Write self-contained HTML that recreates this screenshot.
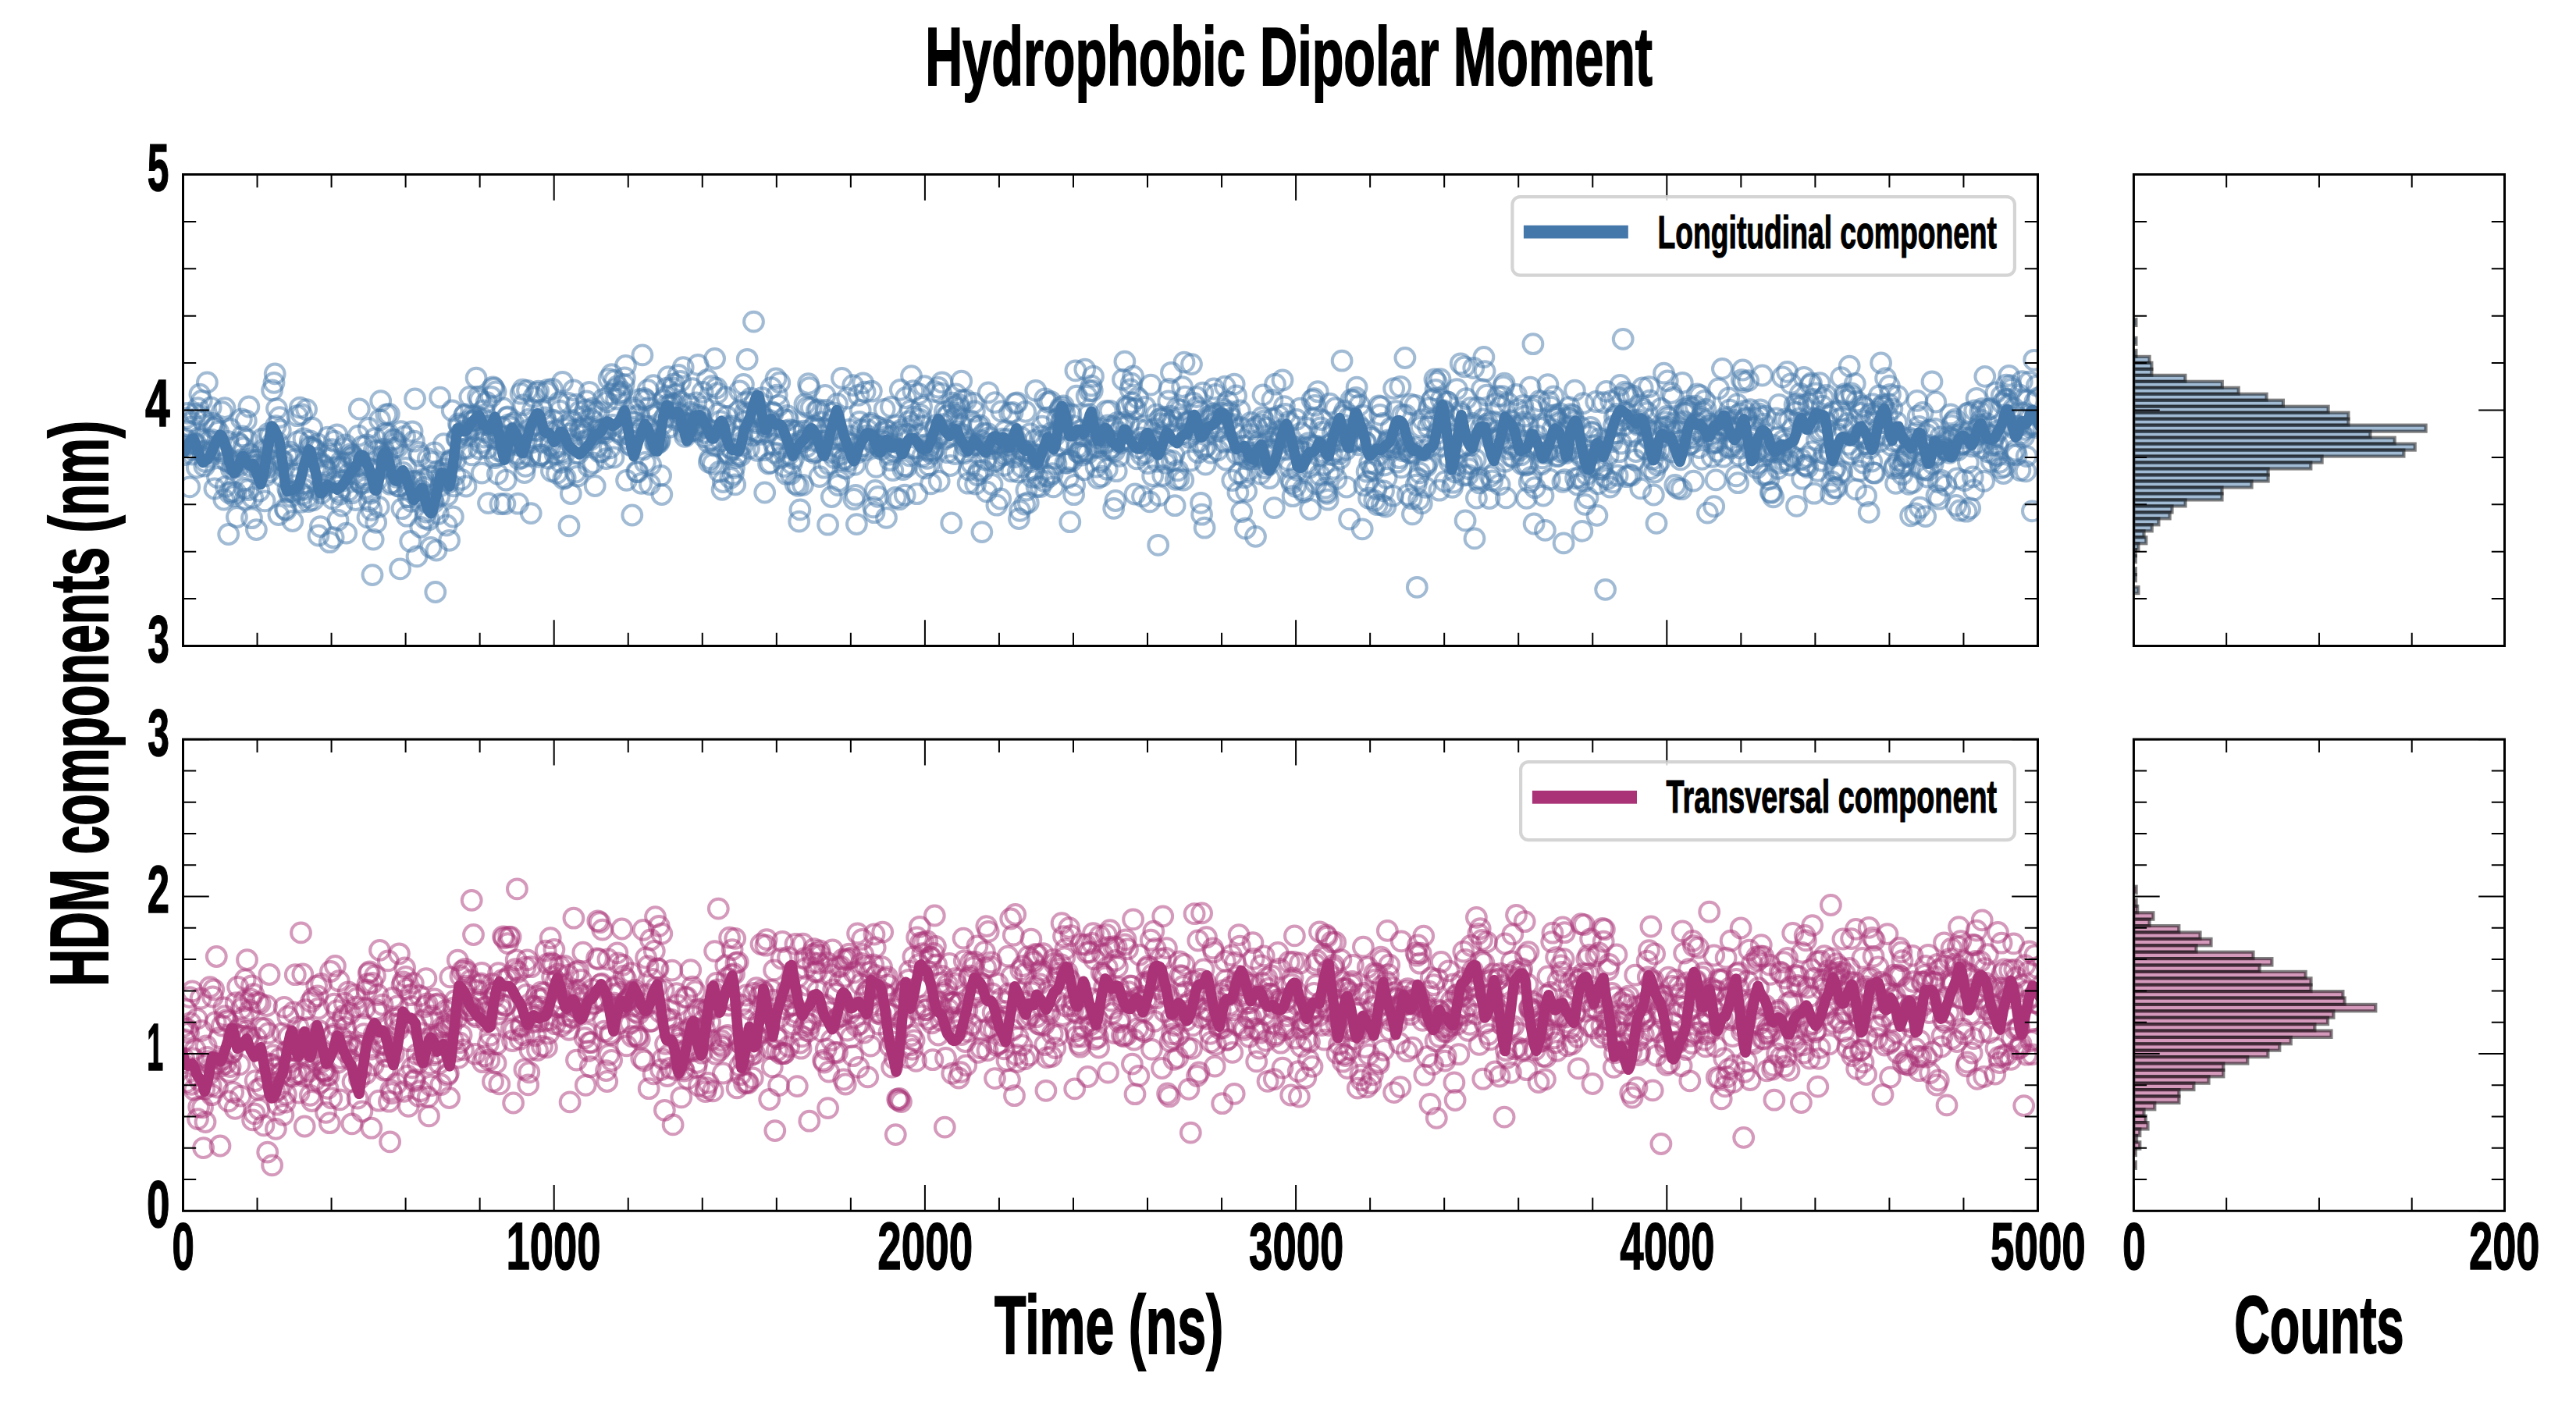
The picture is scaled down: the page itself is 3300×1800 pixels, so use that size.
<!DOCTYPE html>
<html><head><meta charset="utf-8"><title>Hydrophobic Dipolar Moment</title><style>html,body{margin:0;padding:0;background:#fff;width:3300px;height:1800px;overflow:hidden}</style></head><body>
<svg width="3300" height="1800" viewBox="0 0 3300 1800" style="display:block">
<rect width="3300" height="1800" fill="#ffffff"/>
<defs>
<clipPath id="cT"><rect x="234.5" y="223.5" width="2376.0" height="604.0"/></clipPath>
<clipPath id="cB"><rect x="234.5" y="947.2" width="2376.0" height="604.0999999999999"/></clipPath>
<clipPath id="hT"><rect x="2733.4" y="223.5" width="475.0999999999999" height="604.0"/></clipPath>
<clipPath id="hB"><rect x="2733.4" y="947.2" width="475.0999999999999" height="604.0999999999999"/></clipPath>
</defs>
<g clip-path="url(#cT)" fill="none" stroke="#4477AA" stroke-opacity="0.5" stroke-width="4.0">
<circle cx="234.5" cy="572.5" r="12.4"/><circle cx="235.7" cy="582.7" r="12.4"/><circle cx="236.9" cy="562.0" r="12.4"/><circle cx="238.1" cy="535.7" r="12.4"/><circle cx="239.3" cy="551.6" r="12.4"/><circle cx="240.4" cy="529.3" r="12.4"/><circle cx="241.6" cy="569.7" r="12.4"/><circle cx="242.8" cy="623.8" r="12.4"/><circle cx="244.0" cy="547.2" r="12.4"/><circle cx="245.2" cy="540.8" r="12.4"/><circle cx="246.4" cy="582.0" r="12.4"/><circle cx="247.6" cy="576.4" r="12.4"/><circle cx="248.8" cy="568.4" r="12.4"/><circle cx="250.0" cy="530.5" r="12.4"/><circle cx="251.1" cy="568.5" r="12.4"/><circle cx="252.3" cy="599.0" r="12.4"/><circle cx="253.5" cy="522.7" r="12.4"/><circle cx="254.7" cy="561.0" r="12.4"/><circle cx="255.9" cy="505.2" r="12.4"/><circle cx="257.1" cy="532.6" r="12.4"/><circle cx="258.3" cy="513.5" r="12.4"/><circle cx="259.5" cy="578.5" r="12.4"/><circle cx="260.6" cy="538.8" r="12.4"/><circle cx="261.8" cy="597.0" r="12.4"/><circle cx="263.0" cy="591.4" r="12.4"/><circle cx="264.2" cy="577.5" r="12.4"/><circle cx="265.4" cy="489.9" r="12.4"/><circle cx="266.6" cy="564.1" r="12.4"/><circle cx="267.8" cy="580.5" r="12.4"/><circle cx="269.0" cy="585.0" r="12.4"/><circle cx="270.2" cy="521.9" r="12.4"/><circle cx="271.3" cy="563.4" r="12.4"/><circle cx="272.5" cy="542.4" r="12.4"/><circle cx="273.7" cy="548.5" r="12.4"/><circle cx="274.9" cy="626.0" r="12.4"/><circle cx="276.1" cy="547.0" r="12.4"/><circle cx="277.3" cy="575.2" r="12.4"/><circle cx="278.5" cy="611.5" r="12.4"/><circle cx="279.7" cy="553.1" r="12.4"/><circle cx="280.9" cy="570.0" r="12.4"/><circle cx="282.0" cy="577.6" r="12.4"/><circle cx="283.2" cy="575.9" r="12.4"/><circle cx="284.4" cy="527.7" r="12.4"/><circle cx="285.6" cy="580.6" r="12.4"/><circle cx="286.8" cy="640.0" r="12.4"/><circle cx="288.0" cy="522.7" r="12.4"/><circle cx="289.2" cy="623.3" r="12.4"/><circle cx="290.4" cy="590.8" r="12.4"/><circle cx="291.6" cy="565.3" r="12.4"/><circle cx="292.7" cy="684.5" r="12.4"/><circle cx="293.9" cy="631.5" r="12.4"/><circle cx="295.1" cy="549.6" r="12.4"/><circle cx="296.3" cy="601.1" r="12.4"/><circle cx="297.5" cy="629.7" r="12.4"/><circle cx="298.7" cy="594.7" r="12.4"/><circle cx="299.9" cy="635.5" r="12.4"/><circle cx="301.1" cy="596.9" r="12.4"/><circle cx="302.2" cy="631.4" r="12.4"/><circle cx="303.4" cy="662.5" r="12.4"/><circle cx="304.6" cy="566.8" r="12.4"/><circle cx="305.8" cy="597.5" r="12.4"/><circle cx="307.0" cy="569.4" r="12.4"/><circle cx="308.2" cy="588.8" r="12.4"/><circle cx="309.4" cy="536.9" r="12.4"/><circle cx="310.6" cy="558.8" r="12.4"/><circle cx="311.8" cy="573.7" r="12.4"/><circle cx="312.9" cy="625.5" r="12.4"/><circle cx="314.1" cy="639.4" r="12.4"/><circle cx="315.3" cy="538.9" r="12.4"/><circle cx="316.5" cy="563.3" r="12.4"/><circle cx="317.7" cy="627.7" r="12.4"/><circle cx="318.9" cy="521.0" r="12.4"/><circle cx="320.1" cy="582.1" r="12.4"/><circle cx="321.3" cy="597.6" r="12.4"/><circle cx="322.5" cy="663.7" r="12.4"/><circle cx="323.6" cy="637.4" r="12.4"/><circle cx="324.8" cy="590.3" r="12.4"/><circle cx="326.0" cy="589.4" r="12.4"/><circle cx="327.2" cy="595.6" r="12.4"/><circle cx="328.4" cy="678.6" r="12.4"/><circle cx="329.6" cy="589.4" r="12.4"/><circle cx="330.8" cy="595.6" r="12.4"/><circle cx="332.0" cy="629.2" r="12.4"/><circle cx="333.2" cy="605.2" r="12.4"/><circle cx="334.3" cy="601.6" r="12.4"/><circle cx="335.5" cy="562.4" r="12.4"/><circle cx="336.7" cy="597.9" r="12.4"/><circle cx="337.9" cy="576.2" r="12.4"/><circle cx="339.1" cy="641.8" r="12.4"/><circle cx="340.3" cy="609.6" r="12.4"/><circle cx="341.5" cy="577.1" r="12.4"/><circle cx="342.7" cy="599.1" r="12.4"/><circle cx="343.9" cy="555.3" r="12.4"/><circle cx="345.0" cy="604.6" r="12.4"/><circle cx="346.2" cy="558.4" r="12.4"/><circle cx="347.4" cy="574.7" r="12.4"/><circle cx="348.6" cy="500.0" r="12.4"/><circle cx="349.8" cy="566.1" r="12.4"/><circle cx="351.0" cy="490.4" r="12.4"/><circle cx="352.2" cy="478.9" r="12.4"/><circle cx="353.4" cy="545.6" r="12.4"/><circle cx="354.5" cy="523.6" r="12.4"/><circle cx="355.7" cy="567.0" r="12.4"/><circle cx="356.9" cy="659.6" r="12.4"/><circle cx="358.1" cy="534.7" r="12.4"/><circle cx="359.3" cy="551.0" r="12.4"/><circle cx="360.5" cy="589.6" r="12.4"/><circle cx="361.7" cy="610.3" r="12.4"/><circle cx="362.9" cy="590.9" r="12.4"/><circle cx="364.1" cy="598.4" r="12.4"/><circle cx="365.2" cy="652.1" r="12.4"/><circle cx="366.4" cy="653.6" r="12.4"/><circle cx="367.6" cy="583.1" r="12.4"/><circle cx="368.8" cy="626.2" r="12.4"/><circle cx="370.0" cy="630.4" r="12.4"/><circle cx="371.2" cy="579.1" r="12.4"/><circle cx="372.4" cy="636.2" r="12.4"/><circle cx="373.6" cy="583.3" r="12.4"/><circle cx="374.8" cy="667.5" r="12.4"/><circle cx="375.9" cy="630.0" r="12.4"/><circle cx="377.1" cy="622.0" r="12.4"/><circle cx="378.3" cy="588.3" r="12.4"/><circle cx="379.5" cy="607.2" r="12.4"/><circle cx="380.7" cy="532.7" r="12.4"/><circle cx="381.9" cy="565.7" r="12.4"/><circle cx="383.1" cy="628.5" r="12.4"/><circle cx="384.3" cy="522.1" r="12.4"/><circle cx="385.5" cy="643.2" r="12.4"/><circle cx="386.6" cy="531.0" r="12.4"/><circle cx="387.8" cy="633.4" r="12.4"/><circle cx="389.0" cy="561.8" r="12.4"/><circle cx="390.2" cy="627.0" r="12.4"/><circle cx="391.4" cy="591.5" r="12.4"/><circle cx="392.6" cy="524.6" r="12.4"/><circle cx="393.8" cy="637.0" r="12.4"/><circle cx="395.0" cy="642.6" r="12.4"/><circle cx="396.1" cy="572.6" r="12.4"/><circle cx="397.3" cy="565.0" r="12.4"/><circle cx="398.5" cy="573.4" r="12.4"/><circle cx="399.7" cy="548.2" r="12.4"/><circle cx="400.9" cy="640.9" r="12.4"/><circle cx="402.1" cy="574.9" r="12.4"/><circle cx="403.3" cy="600.0" r="12.4"/><circle cx="404.5" cy="576.6" r="12.4"/><circle cx="405.7" cy="587.1" r="12.4"/><circle cx="406.8" cy="568.9" r="12.4"/><circle cx="408.0" cy="686.0" r="12.4"/><circle cx="409.2" cy="627.2" r="12.4"/><circle cx="410.4" cy="674.6" r="12.4"/><circle cx="411.6" cy="631.9" r="12.4"/><circle cx="412.8" cy="594.4" r="12.4"/><circle cx="414.0" cy="608.1" r="12.4"/><circle cx="415.2" cy="596.8" r="12.4"/><circle cx="416.4" cy="622.1" r="12.4"/><circle cx="417.5" cy="601.3" r="12.4"/><circle cx="418.7" cy="602.9" r="12.4"/><circle cx="419.9" cy="560.2" r="12.4"/><circle cx="421.1" cy="581.2" r="12.4"/><circle cx="422.3" cy="694.7" r="12.4"/><circle cx="423.5" cy="588.0" r="12.4"/><circle cx="424.7" cy="575.6" r="12.4"/><circle cx="425.9" cy="638.9" r="12.4"/><circle cx="427.1" cy="688.7" r="12.4"/><circle cx="428.2" cy="565.2" r="12.4"/><circle cx="429.4" cy="617.3" r="12.4"/><circle cx="430.6" cy="598.6" r="12.4"/><circle cx="431.8" cy="556.8" r="12.4"/><circle cx="433.0" cy="666.3" r="12.4"/><circle cx="434.2" cy="629.4" r="12.4"/><circle cx="435.4" cy="633.2" r="12.4"/><circle cx="436.6" cy="591.7" r="12.4"/><circle cx="437.7" cy="648.0" r="12.4"/><circle cx="438.9" cy="598.5" r="12.4"/><circle cx="440.1" cy="615.8" r="12.4"/><circle cx="441.3" cy="574.4" r="12.4"/><circle cx="442.5" cy="569.8" r="12.4"/><circle cx="443.7" cy="683.1" r="12.4"/><circle cx="444.9" cy="592.9" r="12.4"/><circle cx="446.1" cy="628.7" r="12.4"/><circle cx="447.3" cy="606.9" r="12.4"/><circle cx="448.4" cy="586.1" r="12.4"/><circle cx="449.6" cy="581.7" r="12.4"/><circle cx="450.8" cy="631.7" r="12.4"/><circle cx="452.0" cy="583.4" r="12.4"/><circle cx="453.2" cy="586.1" r="12.4"/><circle cx="454.4" cy="590.5" r="12.4"/><circle cx="455.6" cy="640.6" r="12.4"/><circle cx="456.8" cy="613.5" r="12.4"/><circle cx="458.0" cy="597.0" r="12.4"/><circle cx="459.1" cy="558.2" r="12.4"/><circle cx="460.3" cy="524.0" r="12.4"/><circle cx="461.5" cy="618.0" r="12.4"/><circle cx="462.7" cy="619.6" r="12.4"/><circle cx="463.9" cy="571.9" r="12.4"/><circle cx="465.1" cy="598.1" r="12.4"/><circle cx="466.3" cy="608.8" r="12.4"/><circle cx="467.5" cy="613.7" r="12.4"/><circle cx="468.7" cy="625.7" r="12.4"/><circle cx="469.8" cy="569.9" r="12.4"/><circle cx="471.0" cy="662.9" r="12.4"/><circle cx="472.2" cy="548.5" r="12.4"/><circle cx="473.4" cy="642.0" r="12.4"/><circle cx="474.6" cy="632.0" r="12.4"/><circle cx="475.8" cy="653.3" r="12.4"/><circle cx="477.0" cy="736.6" r="12.4"/><circle cx="478.2" cy="691.1" r="12.4"/><circle cx="479.4" cy="576.8" r="12.4"/><circle cx="480.5" cy="561.7" r="12.4"/><circle cx="481.7" cy="669.3" r="12.4"/><circle cx="482.9" cy="578.1" r="12.4"/><circle cx="484.1" cy="613.8" r="12.4"/><circle cx="485.3" cy="649.4" r="12.4"/><circle cx="486.5" cy="537.8" r="12.4"/><circle cx="487.7" cy="513.7" r="12.4"/><circle cx="488.9" cy="600.5" r="12.4"/><circle cx="490.0" cy="584.9" r="12.4"/><circle cx="491.2" cy="575.5" r="12.4"/><circle cx="492.4" cy="587.0" r="12.4"/><circle cx="493.6" cy="555.4" r="12.4"/><circle cx="494.8" cy="531.1" r="12.4"/><circle cx="496.0" cy="583.7" r="12.4"/><circle cx="497.2" cy="555.8" r="12.4"/><circle cx="498.4" cy="530.4" r="12.4"/><circle cx="499.6" cy="620.3" r="12.4"/><circle cx="500.7" cy="594.9" r="12.4"/><circle cx="501.9" cy="618.9" r="12.4"/><circle cx="503.1" cy="562.9" r="12.4"/><circle cx="504.3" cy="574.5" r="12.4"/><circle cx="505.5" cy="563.7" r="12.4"/><circle cx="506.7" cy="567.9" r="12.4"/><circle cx="507.9" cy="611.2" r="12.4"/><circle cx="509.1" cy="572.7" r="12.4"/><circle cx="510.3" cy="622.9" r="12.4"/><circle cx="511.4" cy="623.1" r="12.4"/><circle cx="512.6" cy="728.8" r="12.4"/><circle cx="513.8" cy="552.6" r="12.4"/><circle cx="515.0" cy="651.7" r="12.4"/><circle cx="516.2" cy="605.5" r="12.4"/><circle cx="517.4" cy="612.1" r="12.4"/><circle cx="518.6" cy="559.2" r="12.4"/><circle cx="519.8" cy="599.5" r="12.4"/><circle cx="521.0" cy="661.2" r="12.4"/><circle cx="522.1" cy="626.5" r="12.4"/><circle cx="523.3" cy="636.7" r="12.4"/><circle cx="524.5" cy="622.6" r="12.4"/><circle cx="525.7" cy="693.5" r="12.4"/><circle cx="526.9" cy="642.3" r="12.4"/><circle cx="528.1" cy="552.8" r="12.4"/><circle cx="529.3" cy="616.7" r="12.4"/><circle cx="530.5" cy="565.2" r="12.4"/><circle cx="531.6" cy="510.9" r="12.4"/><circle cx="532.8" cy="616.2" r="12.4"/><circle cx="534.0" cy="712.9" r="12.4"/><circle cx="535.2" cy="637.2" r="12.4"/><circle cx="536.4" cy="579.4" r="12.4"/><circle cx="537.6" cy="584.0" r="12.4"/><circle cx="538.8" cy="675.4" r="12.4"/><circle cx="540.0" cy="629.0" r="12.4"/><circle cx="541.2" cy="618.5" r="12.4"/><circle cx="542.3" cy="614.0" r="12.4"/><circle cx="543.5" cy="624.5" r="12.4"/><circle cx="544.7" cy="664.1" r="12.4"/><circle cx="545.9" cy="656.0" r="12.4"/><circle cx="547.1" cy="643.5" r="12.4"/><circle cx="548.3" cy="587.6" r="12.4"/><circle cx="549.5" cy="665.7" r="12.4"/><circle cx="550.7" cy="610.0" r="12.4"/><circle cx="551.9" cy="701.4" r="12.4"/><circle cx="553.0" cy="591.9" r="12.4"/><circle cx="554.2" cy="640.4" r="12.4"/><circle cx="555.4" cy="643.7" r="12.4"/><circle cx="556.6" cy="580.0" r="12.4"/><circle cx="557.8" cy="758.5" r="12.4"/><circle cx="559.0" cy="705.1" r="12.4"/><circle cx="560.2" cy="604.0" r="12.4"/><circle cx="561.4" cy="658.4" r="12.4"/><circle cx="562.6" cy="636.0" r="12.4"/><circle cx="563.7" cy="509.2" r="12.4"/><circle cx="564.9" cy="622.3" r="12.4"/><circle cx="566.1" cy="606.8" r="12.4"/><circle cx="567.3" cy="615.2" r="12.4"/><circle cx="568.5" cy="568.7" r="12.4"/><circle cx="569.7" cy="601.0" r="12.4"/><circle cx="570.9" cy="605.9" r="12.4"/><circle cx="572.1" cy="673.0" r="12.4"/><circle cx="573.2" cy="634.5" r="12.4"/><circle cx="574.4" cy="618.3" r="12.4"/><circle cx="575.6" cy="692.3" r="12.4"/><circle cx="576.8" cy="591.0" r="12.4"/><circle cx="578.0" cy="589.1" r="12.4"/><circle cx="579.2" cy="526.0" r="12.4"/><circle cx="580.4" cy="662.0" r="12.4"/><circle cx="581.6" cy="622.8" r="12.4"/><circle cx="582.8" cy="608.9" r="12.4"/><circle cx="583.9" cy="588.7" r="12.4"/><circle cx="585.1" cy="561.6" r="12.4"/><circle cx="586.3" cy="561.9" r="12.4"/><circle cx="587.5" cy="542.9" r="12.4"/><circle cx="588.7" cy="545.5" r="12.4"/><circle cx="589.9" cy="555.8" r="12.4"/><circle cx="591.1" cy="614.3" r="12.4"/><circle cx="592.3" cy="575.4" r="12.4"/><circle cx="593.5" cy="552.5" r="12.4"/><circle cx="594.6" cy="532.5" r="12.4"/><circle cx="595.8" cy="530.6" r="12.4"/><circle cx="597.0" cy="623.0" r="12.4"/><circle cx="598.2" cy="574.3" r="12.4"/><circle cx="599.4" cy="557.3" r="12.4"/><circle cx="600.6" cy="539.9" r="12.4"/><circle cx="601.8" cy="508.5" r="12.4"/><circle cx="603.0" cy="548.8" r="12.4"/><circle cx="604.2" cy="582.8" r="12.4"/><circle cx="605.3" cy="533.3" r="12.4"/><circle cx="606.5" cy="539.1" r="12.4"/><circle cx="607.7" cy="538.2" r="12.4"/><circle cx="608.9" cy="550.0" r="12.4"/><circle cx="610.1" cy="484.2" r="12.4"/><circle cx="611.3" cy="533.8" r="12.4"/><circle cx="612.5" cy="508.4" r="12.4"/><circle cx="613.7" cy="574.7" r="12.4"/><circle cx="614.9" cy="512.1" r="12.4"/><circle cx="616.0" cy="567.4" r="12.4"/><circle cx="617.2" cy="606.1" r="12.4"/><circle cx="618.4" cy="535.8" r="12.4"/><circle cx="619.6" cy="525.8" r="12.4"/><circle cx="620.8" cy="560.0" r="12.4"/><circle cx="622.0" cy="554.0" r="12.4"/><circle cx="623.2" cy="515.5" r="12.4"/><circle cx="624.4" cy="574.1" r="12.4"/><circle cx="625.5" cy="644.6" r="12.4"/><circle cx="626.7" cy="545.5" r="12.4"/><circle cx="627.9" cy="544.8" r="12.4"/><circle cx="629.1" cy="508.3" r="12.4"/><circle cx="630.3" cy="560.2" r="12.4"/><circle cx="631.5" cy="495.9" r="12.4"/><circle cx="632.7" cy="497.4" r="12.4"/><circle cx="633.9" cy="586.5" r="12.4"/><circle cx="635.1" cy="501.9" r="12.4"/><circle cx="636.2" cy="583.6" r="12.4"/><circle cx="637.4" cy="607.1" r="12.4"/><circle cx="638.6" cy="563.4" r="12.4"/><circle cx="639.8" cy="577.7" r="12.4"/><circle cx="641.0" cy="645.7" r="12.4"/><circle cx="642.2" cy="559.3" r="12.4"/><circle cx="643.4" cy="548.0" r="12.4"/><circle cx="644.6" cy="522.8" r="12.4"/><circle cx="645.8" cy="580.8" r="12.4"/><circle cx="646.9" cy="645.5" r="12.4"/><circle cx="648.1" cy="615.1" r="12.4"/><circle cx="649.3" cy="535.0" r="12.4"/><circle cx="650.5" cy="533.9" r="12.4"/><circle cx="651.7" cy="544.1" r="12.4"/><circle cx="652.9" cy="570.2" r="12.4"/><circle cx="654.1" cy="547.6" r="12.4"/><circle cx="655.3" cy="560.3" r="12.4"/><circle cx="656.5" cy="563.8" r="12.4"/><circle cx="657.6" cy="542.2" r="12.4"/><circle cx="658.8" cy="554.7" r="12.4"/><circle cx="660.0" cy="566.4" r="12.4"/><circle cx="661.2" cy="557.1" r="12.4"/><circle cx="662.4" cy="581.4" r="12.4"/><circle cx="663.6" cy="645.2" r="12.4"/><circle cx="664.8" cy="588.1" r="12.4"/><circle cx="666.0" cy="570.9" r="12.4"/><circle cx="667.1" cy="504.2" r="12.4"/><circle cx="668.3" cy="586.6" r="12.4"/><circle cx="669.5" cy="499.1" r="12.4"/><circle cx="670.7" cy="518.7" r="12.4"/><circle cx="671.9" cy="605.6" r="12.4"/><circle cx="673.1" cy="597.3" r="12.4"/><circle cx="674.3" cy="563.9" r="12.4"/><circle cx="675.5" cy="500.4" r="12.4"/><circle cx="676.7" cy="550.9" r="12.4"/><circle cx="677.8" cy="537.1" r="12.4"/><circle cx="679.0" cy="584.4" r="12.4"/><circle cx="680.2" cy="657.6" r="12.4"/><circle cx="681.4" cy="566.9" r="12.4"/><circle cx="682.6" cy="525.5" r="12.4"/><circle cx="683.8" cy="508.7" r="12.4"/><circle cx="685.0" cy="550.9" r="12.4"/><circle cx="686.2" cy="544.6" r="12.4"/><circle cx="687.4" cy="503.1" r="12.4"/><circle cx="688.5" cy="551.9" r="12.4"/><circle cx="689.7" cy="501.1" r="12.4"/><circle cx="690.9" cy="585.4" r="12.4"/><circle cx="692.1" cy="582.6" r="12.4"/><circle cx="693.3" cy="583.0" r="12.4"/><circle cx="694.5" cy="525.1" r="12.4"/><circle cx="695.7" cy="566.4" r="12.4"/><circle cx="696.9" cy="543.0" r="12.4"/><circle cx="698.1" cy="534.8" r="12.4"/><circle cx="699.2" cy="539.0" r="12.4"/><circle cx="700.4" cy="502.6" r="12.4"/><circle cx="701.6" cy="499.4" r="12.4"/><circle cx="702.8" cy="587.2" r="12.4"/><circle cx="704.0" cy="553.0" r="12.4"/><circle cx="705.2" cy="570.4" r="12.4"/><circle cx="706.4" cy="603.6" r="12.4"/><circle cx="707.6" cy="498.3" r="12.4"/><circle cx="708.7" cy="538.1" r="12.4"/><circle cx="709.9" cy="574.6" r="12.4"/><circle cx="711.1" cy="581.9" r="12.4"/><circle cx="712.3" cy="551.9" r="12.4"/><circle cx="713.5" cy="606.3" r="12.4"/><circle cx="714.7" cy="572.5" r="12.4"/><circle cx="715.9" cy="516.0" r="12.4"/><circle cx="717.1" cy="526.1" r="12.4"/><circle cx="718.3" cy="592.3" r="12.4"/><circle cx="719.4" cy="578.8" r="12.4"/><circle cx="720.6" cy="489.3" r="12.4"/><circle cx="721.8" cy="613.3" r="12.4"/><circle cx="723.0" cy="581.1" r="12.4"/><circle cx="724.2" cy="612.0" r="12.4"/><circle cx="725.4" cy="545.0" r="12.4"/><circle cx="726.6" cy="549.1" r="12.4"/><circle cx="727.8" cy="516.3" r="12.4"/><circle cx="729.0" cy="673.8" r="12.4"/><circle cx="730.1" cy="555.9" r="12.4"/><circle cx="731.3" cy="632.5" r="12.4"/><circle cx="732.5" cy="538.7" r="12.4"/><circle cx="733.7" cy="570.5" r="12.4"/><circle cx="734.9" cy="499.8" r="12.4"/><circle cx="736.1" cy="551.2" r="12.4"/><circle cx="737.3" cy="605.1" r="12.4"/><circle cx="738.5" cy="518.2" r="12.4"/><circle cx="739.7" cy="610.1" r="12.4"/><circle cx="740.8" cy="581.0" r="12.4"/><circle cx="742.0" cy="527.6" r="12.4"/><circle cx="743.2" cy="549.2" r="12.4"/><circle cx="744.4" cy="550.4" r="12.4"/><circle cx="745.6" cy="566.0" r="12.4"/><circle cx="746.8" cy="546.5" r="12.4"/><circle cx="748.0" cy="533.7" r="12.4"/><circle cx="749.2" cy="554.5" r="12.4"/><circle cx="750.3" cy="524.9" r="12.4"/><circle cx="751.5" cy="513.9" r="12.4"/><circle cx="752.7" cy="563.3" r="12.4"/><circle cx="753.9" cy="597.2" r="12.4"/><circle cx="755.1" cy="502.4" r="12.4"/><circle cx="756.3" cy="563.6" r="12.4"/><circle cx="757.5" cy="536.6" r="12.4"/><circle cx="758.7" cy="523.3" r="12.4"/><circle cx="759.9" cy="593.0" r="12.4"/><circle cx="761.0" cy="540.2" r="12.4"/><circle cx="762.2" cy="622.5" r="12.4"/><circle cx="763.4" cy="527.8" r="12.4"/><circle cx="764.6" cy="573.0" r="12.4"/><circle cx="765.8" cy="549.4" r="12.4"/><circle cx="767.0" cy="527.2" r="12.4"/><circle cx="768.2" cy="579.3" r="12.4"/><circle cx="769.4" cy="550.6" r="12.4"/><circle cx="770.6" cy="578.7" r="12.4"/><circle cx="771.7" cy="553.6" r="12.4"/><circle cx="772.9" cy="511.3" r="12.4"/><circle cx="774.1" cy="549.7" r="12.4"/><circle cx="775.3" cy="554.9" r="12.4"/><circle cx="776.5" cy="587.6" r="12.4"/><circle cx="777.7" cy="514.9" r="12.4"/><circle cx="778.9" cy="549.3" r="12.4"/><circle cx="780.1" cy="485.3" r="12.4"/><circle cx="781.3" cy="573.8" r="12.4"/><circle cx="782.4" cy="505.1" r="12.4"/><circle cx="783.6" cy="479.7" r="12.4"/><circle cx="784.8" cy="544.4" r="12.4"/><circle cx="786.0" cy="586.0" r="12.4"/><circle cx="787.2" cy="487.3" r="12.4"/><circle cx="788.4" cy="499.0" r="12.4"/><circle cx="789.6" cy="511.1" r="12.4"/><circle cx="790.8" cy="494.9" r="12.4"/><circle cx="792.0" cy="552.7" r="12.4"/><circle cx="793.1" cy="503.3" r="12.4"/><circle cx="794.3" cy="505.6" r="12.4"/><circle cx="795.5" cy="556.6" r="12.4"/><circle cx="796.7" cy="501.8" r="12.4"/><circle cx="797.9" cy="547.9" r="12.4"/><circle cx="799.1" cy="492.6" r="12.4"/><circle cx="800.3" cy="483.9" r="12.4"/><circle cx="801.5" cy="468.3" r="12.4"/><circle cx="802.6" cy="615.4" r="12.4"/><circle cx="803.8" cy="533.5" r="12.4"/><circle cx="805.0" cy="563.0" r="12.4"/><circle cx="806.2" cy="556.9" r="12.4"/><circle cx="807.4" cy="569.5" r="12.4"/><circle cx="808.6" cy="571.1" r="12.4"/><circle cx="809.8" cy="660.0" r="12.4"/><circle cx="811.0" cy="540.6" r="12.4"/><circle cx="812.2" cy="522.4" r="12.4"/><circle cx="813.3" cy="541.2" r="12.4"/><circle cx="814.5" cy="525.3" r="12.4"/><circle cx="815.7" cy="604.3" r="12.4"/><circle cx="816.9" cy="604.7" r="12.4"/><circle cx="818.1" cy="531.9" r="12.4"/><circle cx="819.3" cy="511.7" r="12.4"/><circle cx="820.5" cy="550.5" r="12.4"/><circle cx="821.7" cy="619.3" r="12.4"/><circle cx="822.9" cy="454.9" r="12.4"/><circle cx="824.0" cy="575.7" r="12.4"/><circle cx="825.2" cy="510.5" r="12.4"/><circle cx="826.4" cy="592.5" r="12.4"/><circle cx="827.6" cy="512.5" r="12.4"/><circle cx="828.8" cy="546.0" r="12.4"/><circle cx="830.0" cy="499.7" r="12.4"/><circle cx="831.2" cy="522.1" r="12.4"/><circle cx="832.4" cy="620.6" r="12.4"/><circle cx="833.6" cy="595.5" r="12.4"/><circle cx="834.7" cy="550.2" r="12.4"/><circle cx="835.9" cy="532.6" r="12.4"/><circle cx="837.1" cy="493.6" r="12.4"/><circle cx="838.3" cy="554.2" r="12.4"/><circle cx="839.5" cy="568.6" r="12.4"/><circle cx="840.7" cy="567.8" r="12.4"/><circle cx="841.9" cy="568.3" r="12.4"/><circle cx="843.1" cy="528.8" r="12.4"/><circle cx="844.2" cy="567.1" r="12.4"/><circle cx="845.4" cy="563.5" r="12.4"/><circle cx="846.6" cy="609.4" r="12.4"/><circle cx="847.8" cy="633.5" r="12.4"/><circle cx="849.0" cy="543.2" r="12.4"/><circle cx="850.2" cy="512.6" r="12.4"/><circle cx="851.4" cy="535.0" r="12.4"/><circle cx="852.6" cy="508.2" r="12.4"/><circle cx="853.8" cy="497.3" r="12.4"/><circle cx="854.9" cy="519.0" r="12.4"/><circle cx="856.1" cy="482.7" r="12.4"/><circle cx="857.3" cy="547.4" r="12.4"/><circle cx="858.5" cy="519.7" r="12.4"/><circle cx="859.7" cy="534.0" r="12.4"/><circle cx="860.9" cy="517.4" r="12.4"/><circle cx="862.1" cy="496.9" r="12.4"/><circle cx="863.3" cy="491.9" r="12.4"/><circle cx="864.5" cy="517.7" r="12.4"/><circle cx="865.6" cy="505.7" r="12.4"/><circle cx="866.8" cy="538.3" r="12.4"/><circle cx="868.0" cy="528.7" r="12.4"/><circle cx="869.2" cy="480.5" r="12.4"/><circle cx="870.4" cy="536.8" r="12.4"/><circle cx="871.6" cy="488.4" r="12.4"/><circle cx="872.8" cy="515.1" r="12.4"/><circle cx="874.0" cy="531.7" r="12.4"/><circle cx="875.2" cy="470.7" r="12.4"/><circle cx="876.3" cy="553.5" r="12.4"/><circle cx="877.5" cy="559.4" r="12.4"/><circle cx="878.7" cy="549.7" r="12.4"/><circle cx="879.9" cy="542.5" r="12.4"/><circle cx="881.1" cy="545.0" r="12.4"/><circle cx="882.3" cy="518.1" r="12.4"/><circle cx="883.5" cy="543.4" r="12.4"/><circle cx="884.7" cy="528.4" r="12.4"/><circle cx="885.8" cy="551.5" r="12.4"/><circle cx="887.0" cy="497.6" r="12.4"/><circle cx="888.2" cy="551.4" r="12.4"/><circle cx="889.4" cy="545.4" r="12.4"/><circle cx="890.6" cy="530.8" r="12.4"/><circle cx="891.8" cy="515.9" r="12.4"/><circle cx="893.0" cy="552.6" r="12.4"/><circle cx="894.2" cy="467.4" r="12.4"/><circle cx="895.4" cy="543.5" r="12.4"/><circle cx="896.5" cy="531.8" r="12.4"/><circle cx="897.7" cy="534.3" r="12.4"/><circle cx="898.9" cy="541.3" r="12.4"/><circle cx="900.1" cy="502.5" r="12.4"/><circle cx="901.3" cy="521.5" r="12.4"/><circle cx="902.5" cy="559.9" r="12.4"/><circle cx="903.7" cy="554.3" r="12.4"/><circle cx="904.9" cy="548.1" r="12.4"/><circle cx="906.1" cy="486.4" r="12.4"/><circle cx="907.2" cy="566.3" r="12.4"/><circle cx="908.4" cy="592.2" r="12.4"/><circle cx="909.6" cy="587.9" r="12.4"/><circle cx="910.8" cy="563.2" r="12.4"/><circle cx="912.0" cy="494.6" r="12.4"/><circle cx="913.2" cy="594.3" r="12.4"/><circle cx="914.4" cy="552.0" r="12.4"/><circle cx="915.6" cy="459.4" r="12.4"/><circle cx="916.8" cy="571.2" r="12.4"/><circle cx="917.9" cy="497.2" r="12.4"/><circle cx="919.1" cy="503.6" r="12.4"/><circle cx="920.3" cy="529.9" r="12.4"/><circle cx="921.5" cy="604.4" r="12.4"/><circle cx="922.7" cy="539.7" r="12.4"/><circle cx="923.9" cy="564.8" r="12.4"/><circle cx="925.1" cy="627.4" r="12.4"/><circle cx="926.3" cy="617.5" r="12.4"/><circle cx="927.5" cy="548.9" r="12.4"/><circle cx="928.6" cy="546.5" r="12.4"/><circle cx="929.8" cy="508.8" r="12.4"/><circle cx="931.0" cy="533.7" r="12.4"/><circle cx="932.2" cy="579.9" r="12.4"/><circle cx="933.4" cy="581.5" r="12.4"/><circle cx="934.6" cy="573.3" r="12.4"/><circle cx="935.8" cy="612.4" r="12.4"/><circle cx="937.0" cy="545.8" r="12.4"/><circle cx="938.1" cy="575.7" r="12.4"/><circle cx="939.3" cy="607.5" r="12.4"/><circle cx="940.5" cy="599.4" r="12.4"/><circle cx="941.7" cy="620.8" r="12.4"/><circle cx="942.9" cy="586.5" r="12.4"/><circle cx="944.1" cy="559.7" r="12.4"/><circle cx="945.3" cy="581.9" r="12.4"/><circle cx="946.5" cy="526.9" r="12.4"/><circle cx="947.7" cy="501.0" r="12.4"/><circle cx="948.8" cy="583.8" r="12.4"/><circle cx="950.0" cy="559.4" r="12.4"/><circle cx="951.2" cy="570.2" r="12.4"/><circle cx="952.4" cy="492.4" r="12.4"/><circle cx="953.6" cy="540.4" r="12.4"/><circle cx="954.8" cy="528.1" r="12.4"/><circle cx="956.0" cy="514.8" r="12.4"/><circle cx="957.2" cy="460.3" r="12.4"/><circle cx="958.4" cy="529.7" r="12.4"/><circle cx="959.5" cy="574.3" r="12.4"/><circle cx="960.7" cy="551.8" r="12.4"/><circle cx="961.9" cy="510.1" r="12.4"/><circle cx="963.1" cy="529.5" r="12.4"/><circle cx="964.3" cy="557.6" r="12.4"/><circle cx="965.5" cy="412.1" r="12.4"/><circle cx="966.7" cy="515.4" r="12.4"/><circle cx="967.9" cy="539.6" r="12.4"/><circle cx="969.1" cy="541.9" r="12.4"/><circle cx="970.2" cy="577.3" r="12.4"/><circle cx="971.4" cy="553.3" r="12.4"/><circle cx="972.6" cy="525.7" r="12.4"/><circle cx="973.8" cy="531.3" r="12.4"/><circle cx="975.0" cy="556.3" r="12.4"/><circle cx="976.2" cy="509.6" r="12.4"/><circle cx="977.4" cy="534.5" r="12.4"/><circle cx="978.6" cy="576.7" r="12.4"/><circle cx="979.7" cy="631.0" r="12.4"/><circle cx="980.9" cy="545.7" r="12.4"/><circle cx="982.1" cy="547.3" r="12.4"/><circle cx="983.3" cy="553.9" r="12.4"/><circle cx="984.5" cy="594.1" r="12.4"/><circle cx="985.7" cy="538.5" r="12.4"/><circle cx="986.9" cy="592.8" r="12.4"/><circle cx="988.1" cy="496.7" r="12.4"/><circle cx="989.3" cy="528.0" r="12.4"/><circle cx="990.4" cy="529.1" r="12.4"/><circle cx="991.6" cy="569.2" r="12.4"/><circle cx="992.8" cy="580.2" r="12.4"/><circle cx="994.0" cy="485.0" r="12.4"/><circle cx="995.2" cy="506.1" r="12.4"/><circle cx="996.4" cy="557.6" r="12.4"/><circle cx="997.6" cy="519.5" r="12.4"/><circle cx="998.8" cy="490.1" r="12.4"/><circle cx="1000.0" cy="586.4" r="12.4"/><circle cx="1001.1" cy="568.2" r="12.4"/><circle cx="1002.3" cy="570.3" r="12.4"/><circle cx="1003.5" cy="536.3" r="12.4"/><circle cx="1004.7" cy="597.5" r="12.4"/><circle cx="1005.9" cy="551.8" r="12.4"/><circle cx="1007.1" cy="607.3" r="12.4"/><circle cx="1008.3" cy="532.4" r="12.4"/><circle cx="1009.5" cy="538.2" r="12.4"/><circle cx="1010.7" cy="581.7" r="12.4"/><circle cx="1011.8" cy="550.7" r="12.4"/><circle cx="1013.0" cy="607.4" r="12.4"/><circle cx="1014.2" cy="593.8" r="12.4"/><circle cx="1015.4" cy="551.7" r="12.4"/><circle cx="1016.6" cy="587.2" r="12.4"/><circle cx="1017.8" cy="569.2" r="12.4"/><circle cx="1019.0" cy="620.0" r="12.4"/><circle cx="1020.2" cy="552.4" r="12.4"/><circle cx="1021.3" cy="557.1" r="12.4"/><circle cx="1022.5" cy="622.4" r="12.4"/><circle cx="1023.7" cy="668.1" r="12.4"/><circle cx="1024.9" cy="652.9" r="12.4"/><circle cx="1026.1" cy="564.9" r="12.4"/><circle cx="1027.3" cy="567.3" r="12.4"/><circle cx="1028.5" cy="621.3" r="12.4"/><circle cx="1029.7" cy="552.2" r="12.4"/><circle cx="1030.9" cy="518.0" r="12.4"/><circle cx="1032.0" cy="561.6" r="12.4"/><circle cx="1033.2" cy="572.2" r="12.4"/><circle cx="1034.4" cy="521.8" r="12.4"/><circle cx="1035.6" cy="491.7" r="12.4"/><circle cx="1036.8" cy="496.6" r="12.4"/><circle cx="1038.0" cy="577.7" r="12.4"/><circle cx="1039.2" cy="522.6" r="12.4"/><circle cx="1040.4" cy="548.6" r="12.4"/><circle cx="1041.6" cy="564.4" r="12.4"/><circle cx="1042.7" cy="580.3" r="12.4"/><circle cx="1043.9" cy="545.9" r="12.4"/><circle cx="1045.1" cy="578.9" r="12.4"/><circle cx="1046.3" cy="526.2" r="12.4"/><circle cx="1047.5" cy="549.4" r="12.4"/><circle cx="1048.7" cy="524.8" r="12.4"/><circle cx="1049.9" cy="610.6" r="12.4"/><circle cx="1051.1" cy="567.2" r="12.4"/><circle cx="1052.3" cy="540.9" r="12.4"/><circle cx="1053.4" cy="557.8" r="12.4"/><circle cx="1054.6" cy="564.8" r="12.4"/><circle cx="1055.8" cy="599.2" r="12.4"/><circle cx="1057.0" cy="506.4" r="12.4"/><circle cx="1058.2" cy="525.5" r="12.4"/><circle cx="1059.4" cy="549.2" r="12.4"/><circle cx="1060.6" cy="672.2" r="12.4"/><circle cx="1061.8" cy="594.6" r="12.4"/><circle cx="1063.0" cy="551.1" r="12.4"/><circle cx="1064.1" cy="579.6" r="12.4"/><circle cx="1065.3" cy="636.5" r="12.4"/><circle cx="1066.5" cy="537.7" r="12.4"/><circle cx="1067.7" cy="528.9" r="12.4"/><circle cx="1068.9" cy="586.3" r="12.4"/><circle cx="1070.1" cy="558.0" r="12.4"/><circle cx="1071.3" cy="562.8" r="12.4"/><circle cx="1072.5" cy="517.5" r="12.4"/><circle cx="1073.6" cy="621.6" r="12.4"/><circle cx="1074.8" cy="616.0" r="12.4"/><circle cx="1076.0" cy="573.5" r="12.4"/><circle cx="1077.2" cy="582.3" r="12.4"/><circle cx="1078.4" cy="484.4" r="12.4"/><circle cx="1079.6" cy="589.5" r="12.4"/><circle cx="1080.8" cy="564.2" r="12.4"/><circle cx="1082.0" cy="587.5" r="12.4"/><circle cx="1083.2" cy="600.0" r="12.4"/><circle cx="1084.3" cy="563.0" r="12.4"/><circle cx="1085.5" cy="510.2" r="12.4"/><circle cx="1086.7" cy="590.7" r="12.4"/><circle cx="1087.9" cy="550.3" r="12.4"/><circle cx="1089.1" cy="567.5" r="12.4"/><circle cx="1090.3" cy="558.7" r="12.4"/><circle cx="1091.5" cy="569.1" r="12.4"/><circle cx="1092.7" cy="493.7" r="12.4"/><circle cx="1093.9" cy="639.5" r="12.4"/><circle cx="1095.0" cy="595.4" r="12.4"/><circle cx="1096.2" cy="634.4" r="12.4"/><circle cx="1097.4" cy="671.6" r="12.4"/><circle cx="1098.6" cy="579.8" r="12.4"/><circle cx="1099.8" cy="506.3" r="12.4"/><circle cx="1101.0" cy="540.5" r="12.4"/><circle cx="1102.2" cy="525.4" r="12.4"/><circle cx="1103.4" cy="551.2" r="12.4"/><circle cx="1104.6" cy="571.3" r="12.4"/><circle cx="1105.7" cy="490.8" r="12.4"/><circle cx="1106.9" cy="577.0" r="12.4"/><circle cx="1108.1" cy="502.1" r="12.4"/><circle cx="1109.3" cy="572.1" r="12.4"/><circle cx="1110.5" cy="558.1" r="12.4"/><circle cx="1111.7" cy="550.8" r="12.4"/><circle cx="1112.9" cy="562.4" r="12.4"/><circle cx="1114.1" cy="544.1" r="12.4"/><circle cx="1115.2" cy="542.2" r="12.4"/><circle cx="1116.4" cy="501.2" r="12.4"/><circle cx="1117.6" cy="566.8" r="12.4"/><circle cx="1118.8" cy="649.8" r="12.4"/><circle cx="1120.0" cy="656.7" r="12.4"/><circle cx="1121.2" cy="628.4" r="12.4"/><circle cx="1122.4" cy="598.3" r="12.4"/><circle cx="1123.6" cy="546.6" r="12.4"/><circle cx="1124.8" cy="636.4" r="12.4"/><circle cx="1125.9" cy="571.7" r="12.4"/><circle cx="1127.1" cy="572.1" r="12.4"/><circle cx="1128.3" cy="564.0" r="12.4"/><circle cx="1129.5" cy="575.5" r="12.4"/><circle cx="1130.7" cy="554.1" r="12.4"/><circle cx="1131.9" cy="565.8" r="12.4"/><circle cx="1133.1" cy="524.3" r="12.4"/><circle cx="1134.3" cy="550.6" r="12.4"/><circle cx="1135.5" cy="663.3" r="12.4"/><circle cx="1136.6" cy="559.1" r="12.4"/><circle cx="1137.8" cy="552.1" r="12.4"/><circle cx="1139.0" cy="582.2" r="12.4"/><circle cx="1140.2" cy="589.7" r="12.4"/><circle cx="1141.4" cy="521.4" r="12.4"/><circle cx="1142.6" cy="558.4" r="12.4"/><circle cx="1143.8" cy="602.6" r="12.4"/><circle cx="1145.0" cy="578.0" r="12.4"/><circle cx="1146.2" cy="573.2" r="12.4"/><circle cx="1147.3" cy="637.5" r="12.4"/><circle cx="1148.5" cy="545.3" r="12.4"/><circle cx="1149.7" cy="574.9" r="12.4"/><circle cx="1150.9" cy="554.1" r="12.4"/><circle cx="1152.1" cy="639.7" r="12.4"/><circle cx="1153.3" cy="499.3" r="12.4"/><circle cx="1154.5" cy="551.0" r="12.4"/><circle cx="1155.7" cy="557.2" r="12.4"/><circle cx="1156.8" cy="601.5" r="12.4"/><circle cx="1158.0" cy="597.1" r="12.4"/><circle cx="1159.2" cy="634.2" r="12.4"/><circle cx="1160.4" cy="509.5" r="12.4"/><circle cx="1161.6" cy="597.7" r="12.4"/><circle cx="1162.8" cy="556.5" r="12.4"/><circle cx="1164.0" cy="540.2" r="12.4"/><circle cx="1165.2" cy="583.8" r="12.4"/><circle cx="1166.4" cy="526.1" r="12.4"/><circle cx="1167.5" cy="481.6" r="12.4"/><circle cx="1168.7" cy="545.3" r="12.4"/><circle cx="1169.9" cy="500.7" r="12.4"/><circle cx="1171.1" cy="534.4" r="12.4"/><circle cx="1172.3" cy="574.6" r="12.4"/><circle cx="1173.5" cy="573.7" r="12.4"/><circle cx="1174.7" cy="632.7" r="12.4"/><circle cx="1175.9" cy="556.8" r="12.4"/><circle cx="1177.1" cy="504.6" r="12.4"/><circle cx="1178.2" cy="537.2" r="12.4"/><circle cx="1179.4" cy="531.7" r="12.4"/><circle cx="1180.6" cy="521.2" r="12.4"/><circle cx="1181.8" cy="584.7" r="12.4"/><circle cx="1183.0" cy="546.4" r="12.4"/><circle cx="1184.2" cy="494.7" r="12.4"/><circle cx="1185.4" cy="599.8" r="12.4"/><circle cx="1186.6" cy="569.6" r="12.4"/><circle cx="1187.8" cy="587.4" r="12.4"/><circle cx="1188.9" cy="577.4" r="12.4"/><circle cx="1190.1" cy="595.8" r="12.4"/><circle cx="1191.3" cy="570.9" r="12.4"/><circle cx="1192.5" cy="619.8" r="12.4"/><circle cx="1193.7" cy="581.1" r="12.4"/><circle cx="1194.9" cy="577.4" r="12.4"/><circle cx="1196.1" cy="576.3" r="12.4"/><circle cx="1197.3" cy="501.5" r="12.4"/><circle cx="1198.4" cy="550.3" r="12.4"/><circle cx="1199.6" cy="544.6" r="12.4"/><circle cx="1200.8" cy="561.4" r="12.4"/><circle cx="1202.0" cy="496.4" r="12.4"/><circle cx="1203.2" cy="616.5" r="12.4"/><circle cx="1204.4" cy="556.1" r="12.4"/><circle cx="1205.6" cy="503.9" r="12.4"/><circle cx="1206.8" cy="489.8" r="12.4"/><circle cx="1208.0" cy="543.6" r="12.4"/><circle cx="1209.1" cy="551.6" r="12.4"/><circle cx="1210.3" cy="527.3" r="12.4"/><circle cx="1211.5" cy="562.0" r="12.4"/><circle cx="1212.7" cy="533.0" r="12.4"/><circle cx="1213.9" cy="579.7" r="12.4"/><circle cx="1215.1" cy="531.5" r="12.4"/><circle cx="1216.3" cy="559.6" r="12.4"/><circle cx="1217.5" cy="596.5" r="12.4"/><circle cx="1218.7" cy="669.9" r="12.4"/><circle cx="1219.8" cy="516.1" r="12.4"/><circle cx="1221.0" cy="536.7" r="12.4"/><circle cx="1222.2" cy="520.7" r="12.4"/><circle cx="1223.4" cy="581.6" r="12.4"/><circle cx="1224.6" cy="504.9" r="12.4"/><circle cx="1225.8" cy="532.1" r="12.4"/><circle cx="1227.0" cy="553.2" r="12.4"/><circle cx="1228.2" cy="518.5" r="12.4"/><circle cx="1229.4" cy="523.1" r="12.4"/><circle cx="1230.5" cy="545.2" r="12.4"/><circle cx="1231.7" cy="488.2" r="12.4"/><circle cx="1232.9" cy="513.0" r="12.4"/><circle cx="1234.1" cy="556.9" r="12.4"/><circle cx="1235.3" cy="580.9" r="12.4"/><circle cx="1236.5" cy="571.4" r="12.4"/><circle cx="1237.7" cy="512.7" r="12.4"/><circle cx="1238.9" cy="567.4" r="12.4"/><circle cx="1240.1" cy="619.2" r="12.4"/><circle cx="1241.2" cy="602.1" r="12.4"/><circle cx="1242.4" cy="573.3" r="12.4"/><circle cx="1243.6" cy="539.2" r="12.4"/><circle cx="1244.8" cy="593.7" r="12.4"/><circle cx="1246.0" cy="544.2" r="12.4"/><circle cx="1247.2" cy="516.4" r="12.4"/><circle cx="1248.4" cy="527.0" r="12.4"/><circle cx="1249.6" cy="620.1" r="12.4"/><circle cx="1250.7" cy="569.6" r="12.4"/><circle cx="1251.9" cy="608.5" r="12.4"/><circle cx="1253.1" cy="546.4" r="12.4"/><circle cx="1254.3" cy="603.2" r="12.4"/><circle cx="1255.5" cy="544.9" r="12.4"/><circle cx="1256.7" cy="564.3" r="12.4"/><circle cx="1257.9" cy="681.6" r="12.4"/><circle cx="1259.1" cy="602.7" r="12.4"/><circle cx="1260.3" cy="555.2" r="12.4"/><circle cx="1261.4" cy="572.4" r="12.4"/><circle cx="1262.6" cy="589.0" r="12.4"/><circle cx="1263.8" cy="629.9" r="12.4"/><circle cx="1265.0" cy="555.3" r="12.4"/><circle cx="1266.2" cy="502.9" r="12.4"/><circle cx="1267.4" cy="560.6" r="12.4"/><circle cx="1268.6" cy="568.9" r="12.4"/><circle cx="1269.8" cy="570.8" r="12.4"/><circle cx="1271.0" cy="620.5" r="12.4"/><circle cx="1272.1" cy="574.5" r="12.4"/><circle cx="1273.3" cy="591.9" r="12.4"/><circle cx="1274.5" cy="515.6" r="12.4"/><circle cx="1275.7" cy="590.0" r="12.4"/><circle cx="1276.9" cy="647.2" r="12.4"/><circle cx="1278.1" cy="586.2" r="12.4"/><circle cx="1279.3" cy="569.0" r="12.4"/><circle cx="1280.5" cy="567.2" r="12.4"/><circle cx="1281.7" cy="639.0" r="12.4"/><circle cx="1282.8" cy="526.8" r="12.4"/><circle cx="1284.0" cy="562.1" r="12.4"/><circle cx="1285.2" cy="583.2" r="12.4"/><circle cx="1286.4" cy="596.4" r="12.4"/><circle cx="1287.6" cy="552.3" r="12.4"/><circle cx="1288.8" cy="581.8" r="12.4"/><circle cx="1290.0" cy="562.6" r="12.4"/><circle cx="1291.2" cy="577.5" r="12.4"/><circle cx="1292.3" cy="569.5" r="12.4"/><circle cx="1293.5" cy="529.2" r="12.4"/><circle cx="1294.7" cy="570.7" r="12.4"/><circle cx="1295.9" cy="603.8" r="12.4"/><circle cx="1297.1" cy="528.3" r="12.4"/><circle cx="1298.3" cy="555.1" r="12.4"/><circle cx="1299.5" cy="585.7" r="12.4"/><circle cx="1300.7" cy="516.9" r="12.4"/><circle cx="1301.9" cy="565.0" r="12.4"/><circle cx="1303.0" cy="515.8" r="12.4"/><circle cx="1304.2" cy="604.8" r="12.4"/><circle cx="1305.4" cy="664.6" r="12.4"/><circle cx="1306.6" cy="654.4" r="12.4"/><circle cx="1307.8" cy="560.1" r="12.4"/><circle cx="1309.0" cy="598.0" r="12.4"/><circle cx="1310.2" cy="576.7" r="12.4"/><circle cx="1311.4" cy="578.3" r="12.4"/><circle cx="1312.6" cy="646.0" r="12.4"/><circle cx="1313.7" cy="527.4" r="12.4"/><circle cx="1314.9" cy="628.0" r="12.4"/><circle cx="1316.1" cy="578.0" r="12.4"/><circle cx="1317.3" cy="644.0" r="12.4"/><circle cx="1318.5" cy="586.8" r="12.4"/><circle cx="1319.7" cy="555.6" r="12.4"/><circle cx="1320.9" cy="591.6" r="12.4"/><circle cx="1322.1" cy="611.4" r="12.4"/><circle cx="1323.3" cy="582.7" r="12.4"/><circle cx="1324.4" cy="601.7" r="12.4"/><circle cx="1325.6" cy="563.8" r="12.4"/><circle cx="1326.8" cy="500.3" r="12.4"/><circle cx="1328.0" cy="623.5" r="12.4"/><circle cx="1329.2" cy="611.9" r="12.4"/><circle cx="1330.4" cy="587.7" r="12.4"/><circle cx="1331.6" cy="582.6" r="12.4"/><circle cx="1332.8" cy="623.6" r="12.4"/><circle cx="1333.9" cy="559.0" r="12.4"/><circle cx="1335.1" cy="546.1" r="12.4"/><circle cx="1336.3" cy="564.2" r="12.4"/><circle cx="1337.5" cy="616.3" r="12.4"/><circle cx="1338.7" cy="510.8" r="12.4"/><circle cx="1339.9" cy="609.5" r="12.4"/><circle cx="1341.1" cy="535.1" r="12.4"/><circle cx="1342.3" cy="515.3" r="12.4"/><circle cx="1343.5" cy="610.8" r="12.4"/><circle cx="1344.6" cy="561.1" r="12.4"/><circle cx="1345.8" cy="514.3" r="12.4"/><circle cx="1347.0" cy="554.6" r="12.4"/><circle cx="1348.2" cy="606.7" r="12.4"/><circle cx="1349.4" cy="623.9" r="12.4"/><circle cx="1350.6" cy="558.9" r="12.4"/><circle cx="1351.8" cy="586.9" r="12.4"/><circle cx="1353.0" cy="594.6" r="12.4"/><circle cx="1354.2" cy="537.4" r="12.4"/><circle cx="1355.3" cy="570.6" r="12.4"/><circle cx="1356.5" cy="550.8" r="12.4"/><circle cx="1357.7" cy="525.2" r="12.4"/><circle cx="1358.9" cy="521.8" r="12.4"/><circle cx="1360.1" cy="538.9" r="12.4"/><circle cx="1361.3" cy="539.3" r="12.4"/><circle cx="1362.5" cy="520.0" r="12.4"/><circle cx="1363.7" cy="529.3" r="12.4"/><circle cx="1364.9" cy="593.2" r="12.4"/><circle cx="1366.0" cy="564.5" r="12.4"/><circle cx="1367.2" cy="593.1" r="12.4"/><circle cx="1368.4" cy="611.8" r="12.4"/><circle cx="1369.6" cy="590.1" r="12.4"/><circle cx="1370.8" cy="668.7" r="12.4"/><circle cx="1372.0" cy="531.1" r="12.4"/><circle cx="1373.2" cy="590.6" r="12.4"/><circle cx="1374.4" cy="545.4" r="12.4"/><circle cx="1375.6" cy="633.7" r="12.4"/><circle cx="1376.7" cy="621.4" r="12.4"/><circle cx="1377.9" cy="474.8" r="12.4"/><circle cx="1379.1" cy="507.2" r="12.4"/><circle cx="1380.3" cy="572.9" r="12.4"/><circle cx="1381.5" cy="579.9" r="12.4"/><circle cx="1382.7" cy="580.1" r="12.4"/><circle cx="1383.9" cy="551.4" r="12.4"/><circle cx="1385.1" cy="573.6" r="12.4"/><circle cx="1386.2" cy="583.1" r="12.4"/><circle cx="1387.4" cy="558.6" r="12.4"/><circle cx="1388.6" cy="601.9" r="12.4"/><circle cx="1389.8" cy="473.2" r="12.4"/><circle cx="1391.0" cy="577.2" r="12.4"/><circle cx="1392.2" cy="507.5" r="12.4"/><circle cx="1393.4" cy="580.7" r="12.4"/><circle cx="1394.6" cy="530.6" r="12.4"/><circle cx="1395.8" cy="500.8" r="12.4"/><circle cx="1396.9" cy="545.9" r="12.4"/><circle cx="1398.1" cy="494.2" r="12.4"/><circle cx="1399.3" cy="500.5" r="12.4"/><circle cx="1400.5" cy="482.2" r="12.4"/><circle cx="1401.7" cy="547.1" r="12.4"/><circle cx="1402.9" cy="572.2" r="12.4"/><circle cx="1404.1" cy="598.2" r="12.4"/><circle cx="1405.3" cy="560.5" r="12.4"/><circle cx="1406.5" cy="612.6" r="12.4"/><circle cx="1407.6" cy="572.8" r="12.4"/><circle cx="1408.8" cy="567.9" r="12.4"/><circle cx="1410.0" cy="591.5" r="12.4"/><circle cx="1411.2" cy="610.2" r="12.4"/><circle cx="1412.4" cy="554.8" r="12.4"/><circle cx="1413.6" cy="557.2" r="12.4"/><circle cx="1414.8" cy="559.7" r="12.4"/><circle cx="1416.0" cy="567.3" r="12.4"/><circle cx="1417.2" cy="526.7" r="12.4"/><circle cx="1418.3" cy="601.2" r="12.4"/><circle cx="1419.5" cy="544.8" r="12.4"/><circle cx="1420.7" cy="576.0" r="12.4"/><circle cx="1421.9" cy="526.3" r="12.4"/><circle cx="1423.1" cy="573.4" r="12.4"/><circle cx="1424.3" cy="575.8" r="12.4"/><circle cx="1425.5" cy="546.1" r="12.4"/><circle cx="1426.7" cy="651.3" r="12.4"/><circle cx="1427.8" cy="577.8" r="12.4"/><circle cx="1429.0" cy="641.5" r="12.4"/><circle cx="1430.2" cy="603.7" r="12.4"/><circle cx="1431.4" cy="541.5" r="12.4"/><circle cx="1432.6" cy="553.6" r="12.4"/><circle cx="1433.8" cy="584.3" r="12.4"/><circle cx="1435.0" cy="568.1" r="12.4"/><circle cx="1436.2" cy="564.6" r="12.4"/><circle cx="1437.4" cy="547.3" r="12.4"/><circle cx="1438.5" cy="486.2" r="12.4"/><circle cx="1439.7" cy="541.1" r="12.4"/><circle cx="1440.9" cy="463.1" r="12.4"/><circle cx="1442.1" cy="562.6" r="12.4"/><circle cx="1443.3" cy="520.3" r="12.4"/><circle cx="1444.5" cy="522.2" r="12.4"/><circle cx="1445.7" cy="543.7" r="12.4"/><circle cx="1446.9" cy="565.1" r="12.4"/><circle cx="1448.1" cy="498.8" r="12.4"/><circle cx="1449.2" cy="491.2" r="12.4"/><circle cx="1450.4" cy="516.2" r="12.4"/><circle cx="1451.6" cy="481.9" r="12.4"/><circle cx="1452.8" cy="524.1" r="12.4"/><circle cx="1454.0" cy="633.0" r="12.4"/><circle cx="1455.2" cy="523.7" r="12.4"/><circle cx="1456.4" cy="587.8" r="12.4"/><circle cx="1457.6" cy="509.7" r="12.4"/><circle cx="1458.8" cy="574.0" r="12.4"/><circle cx="1459.9" cy="550.5" r="12.4"/><circle cx="1461.1" cy="560.8" r="12.4"/><circle cx="1462.3" cy="582.5" r="12.4"/><circle cx="1463.5" cy="635.9" r="12.4"/><circle cx="1464.7" cy="568.0" r="12.4"/><circle cx="1465.9" cy="565.3" r="12.4"/><circle cx="1467.1" cy="521.3" r="12.4"/><circle cx="1468.3" cy="580.5" r="12.4"/><circle cx="1469.4" cy="550.1" r="12.4"/><circle cx="1470.6" cy="593.6" r="12.4"/><circle cx="1471.8" cy="563.9" r="12.4"/><circle cx="1473.0" cy="642.9" r="12.4"/><circle cx="1474.2" cy="493.1" r="12.4"/><circle cx="1475.4" cy="562.2" r="12.4"/><circle cx="1476.6" cy="609.7" r="12.4"/><circle cx="1477.8" cy="564.7" r="12.4"/><circle cx="1479.0" cy="549.5" r="12.4"/><circle cx="1480.1" cy="571.8" r="12.4"/><circle cx="1481.3" cy="531.2" r="12.4"/><circle cx="1482.5" cy="591.2" r="12.4"/><circle cx="1483.7" cy="698.3" r="12.4"/><circle cx="1484.9" cy="634.7" r="12.4"/><circle cx="1486.1" cy="536.7" r="12.4"/><circle cx="1487.3" cy="542.7" r="12.4"/><circle cx="1488.5" cy="557.9" r="12.4"/><circle cx="1489.7" cy="609.3" r="12.4"/><circle cx="1490.8" cy="534.2" r="12.4"/><circle cx="1492.0" cy="536.3" r="12.4"/><circle cx="1493.2" cy="593.4" r="12.4"/><circle cx="1494.4" cy="588.6" r="12.4"/><circle cx="1495.6" cy="542.8" r="12.4"/><circle cx="1496.8" cy="514.0" r="12.4"/><circle cx="1498.0" cy="498.4" r="12.4"/><circle cx="1499.2" cy="533.2" r="12.4"/><circle cx="1500.4" cy="477.3" r="12.4"/><circle cx="1501.5" cy="590.4" r="12.4"/><circle cx="1502.7" cy="539.4" r="12.4"/><circle cx="1503.9" cy="582.5" r="12.4"/><circle cx="1505.1" cy="647.7" r="12.4"/><circle cx="1506.3" cy="614.4" r="12.4"/><circle cx="1507.5" cy="523.4" r="12.4"/><circle cx="1508.7" cy="602.8" r="12.4"/><circle cx="1509.9" cy="613.1" r="12.4"/><circle cx="1511.1" cy="535.5" r="12.4"/><circle cx="1512.2" cy="524.9" r="12.4"/><circle cx="1513.4" cy="556.2" r="12.4"/><circle cx="1514.6" cy="495.7" r="12.4"/><circle cx="1515.8" cy="615.0" r="12.4"/><circle cx="1517.0" cy="464.1" r="12.4"/><circle cx="1518.2" cy="508.1" r="12.4"/><circle cx="1519.4" cy="540.6" r="12.4"/><circle cx="1520.6" cy="541.6" r="12.4"/><circle cx="1521.7" cy="556.3" r="12.4"/><circle cx="1522.9" cy="560.4" r="12.4"/><circle cx="1524.1" cy="539.8" r="12.4"/><circle cx="1525.3" cy="590.1" r="12.4"/><circle cx="1526.5" cy="466.6" r="12.4"/><circle cx="1527.7" cy="546.3" r="12.4"/><circle cx="1528.9" cy="516.5" r="12.4"/><circle cx="1530.1" cy="549.6" r="12.4"/><circle cx="1531.3" cy="552.2" r="12.4"/><circle cx="1532.4" cy="508.6" r="12.4"/><circle cx="1533.6" cy="521.6" r="12.4"/><circle cx="1534.8" cy="579.7" r="12.4"/><circle cx="1536.0" cy="565.9" r="12.4"/><circle cx="1537.2" cy="526.8" r="12.4"/><circle cx="1538.4" cy="644.3" r="12.4"/><circle cx="1539.6" cy="659.2" r="12.4"/><circle cx="1540.8" cy="503.2" r="12.4"/><circle cx="1542.0" cy="574.8" r="12.4"/><circle cx="1543.1" cy="676.2" r="12.4"/><circle cx="1544.3" cy="595.1" r="12.4"/><circle cx="1545.5" cy="571.5" r="12.4"/><circle cx="1546.7" cy="553.3" r="12.4"/><circle cx="1547.9" cy="537.9" r="12.4"/><circle cx="1549.1" cy="548.7" r="12.4"/><circle cx="1550.3" cy="532.8" r="12.4"/><circle cx="1551.5" cy="580.4" r="12.4"/><circle cx="1552.7" cy="534.1" r="12.4"/><circle cx="1553.8" cy="530.2" r="12.4"/><circle cx="1555.0" cy="498.0" r="12.4"/><circle cx="1556.2" cy="541.8" r="12.4"/><circle cx="1557.4" cy="505.4" r="12.4"/><circle cx="1558.6" cy="531.9" r="12.4"/><circle cx="1559.8" cy="576.8" r="12.4"/><circle cx="1561.0" cy="549.1" r="12.4"/><circle cx="1562.2" cy="552.1" r="12.4"/><circle cx="1563.3" cy="547.7" r="12.4"/><circle cx="1564.5" cy="536.4" r="12.4"/><circle cx="1565.7" cy="529.4" r="12.4"/><circle cx="1566.9" cy="523.9" r="12.4"/><circle cx="1568.1" cy="566.6" r="12.4"/><circle cx="1569.3" cy="495.1" r="12.4"/><circle cx="1570.5" cy="589.0" r="12.4"/><circle cx="1571.7" cy="541.5" r="12.4"/><circle cx="1572.9" cy="514.6" r="12.4"/><circle cx="1574.0" cy="530.1" r="12.4"/><circle cx="1575.2" cy="527.1" r="12.4"/><circle cx="1576.4" cy="566.1" r="12.4"/><circle cx="1577.6" cy="536.1" r="12.4"/><circle cx="1578.8" cy="615.5" r="12.4"/><circle cx="1580.0" cy="543.7" r="12.4"/><circle cx="1581.2" cy="492.1" r="12.4"/><circle cx="1582.4" cy="555.4" r="12.4"/><circle cx="1583.6" cy="507.0" r="12.4"/><circle cx="1584.7" cy="581.5" r="12.4"/><circle cx="1585.9" cy="630.9" r="12.4"/><circle cx="1587.1" cy="606.0" r="12.4"/><circle cx="1588.3" cy="525.9" r="12.4"/><circle cx="1589.5" cy="547.7" r="12.4"/><circle cx="1590.7" cy="655.6" r="12.4"/><circle cx="1591.9" cy="584.0" r="12.4"/><circle cx="1593.1" cy="571.5" r="12.4"/><circle cx="1594.3" cy="611.7" r="12.4"/><circle cx="1595.4" cy="677.0" r="12.4"/><circle cx="1596.6" cy="629.5" r="12.4"/><circle cx="1597.8" cy="579.2" r="12.4"/><circle cx="1599.0" cy="588.4" r="12.4"/><circle cx="1600.2" cy="602.2" r="12.4"/><circle cx="1601.4" cy="556.7" r="12.4"/><circle cx="1602.6" cy="541.3" r="12.4"/><circle cx="1603.8" cy="584.4" r="12.4"/><circle cx="1604.9" cy="549.5" r="12.4"/><circle cx="1606.1" cy="584.1" r="12.4"/><circle cx="1607.3" cy="587.9" r="12.4"/><circle cx="1608.5" cy="687.4" r="12.4"/><circle cx="1609.7" cy="546.7" r="12.4"/><circle cx="1610.9" cy="571.0" r="12.4"/><circle cx="1612.1" cy="566.7" r="12.4"/><circle cx="1613.3" cy="584.5" r="12.4"/><circle cx="1614.5" cy="607.0" r="12.4"/><circle cx="1615.6" cy="544.0" r="12.4"/><circle cx="1616.8" cy="534.6" r="12.4"/><circle cx="1618.0" cy="505.9" r="12.4"/><circle cx="1619.2" cy="539.1" r="12.4"/><circle cx="1620.4" cy="599.5" r="12.4"/><circle cx="1621.6" cy="583.5" r="12.4"/><circle cx="1622.8" cy="548.2" r="12.4"/><circle cx="1624.0" cy="576.6" r="12.4"/><circle cx="1625.2" cy="595.2" r="12.4"/><circle cx="1626.3" cy="612.7" r="12.4"/><circle cx="1627.5" cy="566.5" r="12.4"/><circle cx="1628.7" cy="576.2" r="12.4"/><circle cx="1629.9" cy="512.4" r="12.4"/><circle cx="1631.1" cy="536.1" r="12.4"/><circle cx="1632.3" cy="650.6" r="12.4"/><circle cx="1633.5" cy="492.2" r="12.4"/><circle cx="1634.7" cy="560.7" r="12.4"/><circle cx="1635.9" cy="577.8" r="12.4"/><circle cx="1637.0" cy="552.8" r="12.4"/><circle cx="1638.2" cy="532.8" r="12.4"/><circle cx="1639.4" cy="560.8" r="12.4"/><circle cx="1640.6" cy="561.5" r="12.4"/><circle cx="1641.8" cy="555.9" r="12.4"/><circle cx="1643.0" cy="487.0" r="12.4"/><circle cx="1644.2" cy="549.9" r="12.4"/><circle cx="1645.4" cy="520.6" r="12.4"/><circle cx="1646.6" cy="530.4" r="12.4"/><circle cx="1647.7" cy="560.4" r="12.4"/><circle cx="1648.9" cy="576.1" r="12.4"/><circle cx="1650.1" cy="589.3" r="12.4"/><circle cx="1651.3" cy="540.4" r="12.4"/><circle cx="1652.5" cy="598.9" r="12.4"/><circle cx="1653.7" cy="614.8" r="12.4"/><circle cx="1654.9" cy="619.0" r="12.4"/><circle cx="1656.1" cy="635.7" r="12.4"/><circle cx="1657.2" cy="572.4" r="12.4"/><circle cx="1658.4" cy="575.1" r="12.4"/><circle cx="1659.6" cy="623.4" r="12.4"/><circle cx="1660.8" cy="537.3" r="12.4"/><circle cx="1662.0" cy="602.3" r="12.4"/><circle cx="1663.2" cy="572.6" r="12.4"/><circle cx="1664.4" cy="577.3" r="12.4"/><circle cx="1665.6" cy="523.2" r="12.4"/><circle cx="1666.8" cy="554.9" r="12.4"/><circle cx="1667.9" cy="585.1" r="12.4"/><circle cx="1669.1" cy="627.5" r="12.4"/><circle cx="1670.3" cy="630.5" r="12.4"/><circle cx="1671.5" cy="579.6" r="12.4"/><circle cx="1672.7" cy="573.8" r="12.4"/><circle cx="1673.9" cy="548.4" r="12.4"/><circle cx="1675.1" cy="593.6" r="12.4"/><circle cx="1676.3" cy="567.7" r="12.4"/><circle cx="1677.5" cy="599.0" r="12.4"/><circle cx="1678.6" cy="652.5" r="12.4"/><circle cx="1679.8" cy="571.2" r="12.4"/><circle cx="1681.0" cy="512.3" r="12.4"/><circle cx="1682.2" cy="536.0" r="12.4"/><circle cx="1683.4" cy="510.7" r="12.4"/><circle cx="1684.6" cy="519.4" r="12.4"/><circle cx="1685.8" cy="619.5" r="12.4"/><circle cx="1687.0" cy="571.4" r="12.4"/><circle cx="1688.2" cy="501.7" r="12.4"/><circle cx="1689.3" cy="583.5" r="12.4"/><circle cx="1690.5" cy="608.4" r="12.4"/><circle cx="1691.7" cy="547.8" r="12.4"/><circle cx="1692.9" cy="537.6" r="12.4"/><circle cx="1694.1" cy="553.5" r="12.4"/><circle cx="1695.3" cy="579.2" r="12.4"/><circle cx="1696.5" cy="595.3" r="12.4"/><circle cx="1697.7" cy="625.2" r="12.4"/><circle cx="1698.8" cy="630.2" r="12.4"/><circle cx="1700.0" cy="632.4" r="12.4"/><circle cx="1701.2" cy="640.2" r="12.4"/><circle cx="1702.4" cy="606.6" r="12.4"/><circle cx="1703.6" cy="517.2" r="12.4"/><circle cx="1704.8" cy="569.1" r="12.4"/><circle cx="1706.0" cy="582.4" r="12.4"/><circle cx="1707.2" cy="554.0" r="12.4"/><circle cx="1708.4" cy="600.3" r="12.4"/><circle cx="1709.5" cy="548.4" r="12.4"/><circle cx="1710.7" cy="523.0" r="12.4"/><circle cx="1711.9" cy="613.6" r="12.4"/><circle cx="1713.1" cy="577.9" r="12.4"/><circle cx="1714.3" cy="558.9" r="12.4"/><circle cx="1715.5" cy="581.6" r="12.4"/><circle cx="1716.7" cy="587.3" r="12.4"/><circle cx="1717.9" cy="565.4" r="12.4"/><circle cx="1719.1" cy="462.2" r="12.4"/><circle cx="1720.2" cy="532.3" r="12.4"/><circle cx="1721.4" cy="544.7" r="12.4"/><circle cx="1722.6" cy="526.5" r="12.4"/><circle cx="1723.8" cy="576.3" r="12.4"/><circle cx="1725.0" cy="624.0" r="12.4"/><circle cx="1726.2" cy="557.7" r="12.4"/><circle cx="1727.4" cy="535.4" r="12.4"/><circle cx="1728.6" cy="665.1" r="12.4"/><circle cx="1729.8" cy="550.1" r="12.4"/><circle cx="1730.9" cy="512.2" r="12.4"/><circle cx="1732.1" cy="564.4" r="12.4"/><circle cx="1733.3" cy="565.1" r="12.4"/><circle cx="1734.5" cy="513.2" r="12.4"/><circle cx="1735.7" cy="565.7" r="12.4"/><circle cx="1736.9" cy="509.3" r="12.4"/><circle cx="1738.1" cy="496.2" r="12.4"/><circle cx="1739.3" cy="543.5" r="12.4"/><circle cx="1740.4" cy="569.8" r="12.4"/><circle cx="1741.6" cy="518.9" r="12.4"/><circle cx="1742.8" cy="562.3" r="12.4"/><circle cx="1744.0" cy="548.7" r="12.4"/><circle cx="1745.2" cy="677.8" r="12.4"/><circle cx="1746.4" cy="532.4" r="12.4"/><circle cx="1747.6" cy="621.9" r="12.4"/><circle cx="1748.8" cy="566.2" r="12.4"/><circle cx="1750.0" cy="567.0" r="12.4"/><circle cx="1751.1" cy="604.2" r="12.4"/><circle cx="1752.3" cy="617.0" r="12.4"/><circle cx="1753.5" cy="638.2" r="12.4"/><circle cx="1754.7" cy="593.5" r="12.4"/><circle cx="1755.9" cy="558.6" r="12.4"/><circle cx="1757.1" cy="561.2" r="12.4"/><circle cx="1758.3" cy="600.1" r="12.4"/><circle cx="1759.5" cy="603.1" r="12.4"/><circle cx="1760.7" cy="641.2" r="12.4"/><circle cx="1761.8" cy="595.1" r="12.4"/><circle cx="1763.0" cy="626.4" r="12.4"/><circle cx="1764.2" cy="646.6" r="12.4"/><circle cx="1765.4" cy="583.3" r="12.4"/><circle cx="1766.6" cy="519.9" r="12.4"/><circle cx="1767.8" cy="531.3" r="12.4"/><circle cx="1769.0" cy="520.9" r="12.4"/><circle cx="1770.2" cy="646.9" r="12.4"/><circle cx="1771.4" cy="542.4" r="12.4"/><circle cx="1772.5" cy="628.9" r="12.4"/><circle cx="1773.7" cy="596.0" r="12.4"/><circle cx="1774.9" cy="649.0" r="12.4"/><circle cx="1776.1" cy="612.3" r="12.4"/><circle cx="1777.3" cy="567.6" r="12.4"/><circle cx="1778.5" cy="564.0" r="12.4"/><circle cx="1779.7" cy="572.7" r="12.4"/><circle cx="1780.9" cy="575.6" r="12.4"/><circle cx="1782.0" cy="548.0" r="12.4"/><circle cx="1783.2" cy="566.2" r="12.4"/><circle cx="1784.4" cy="635.4" r="12.4"/><circle cx="1785.6" cy="497.7" r="12.4"/><circle cx="1786.8" cy="573.1" r="12.4"/><circle cx="1788.0" cy="526.6" r="12.4"/><circle cx="1789.2" cy="568.7" r="12.4"/><circle cx="1790.4" cy="592.2" r="12.4"/><circle cx="1791.6" cy="557.7" r="12.4"/><circle cx="1792.7" cy="586.7" r="12.4"/><circle cx="1793.9" cy="495.4" r="12.4"/><circle cx="1795.1" cy="598.8" r="12.4"/><circle cx="1796.3" cy="531.4" r="12.4"/><circle cx="1797.5" cy="577.9" r="12.4"/><circle cx="1798.7" cy="564.7" r="12.4"/><circle cx="1799.9" cy="458.5" r="12.4"/><circle cx="1801.1" cy="532.0" r="12.4"/><circle cx="1802.3" cy="572.0" r="12.4"/><circle cx="1803.4" cy="633.9" r="12.4"/><circle cx="1804.6" cy="579.3" r="12.4"/><circle cx="1805.8" cy="580.4" r="12.4"/><circle cx="1807.0" cy="517.9" r="12.4"/><circle cx="1808.2" cy="638.7" r="12.4"/><circle cx="1809.4" cy="658.8" r="12.4"/><circle cx="1810.6" cy="580.8" r="12.4"/><circle cx="1811.8" cy="573.1" r="12.4"/><circle cx="1813.0" cy="519.3" r="12.4"/><circle cx="1814.1" cy="621.1" r="12.4"/><circle cx="1815.3" cy="752.3" r="12.4"/><circle cx="1816.5" cy="612.9" r="12.4"/><circle cx="1817.7" cy="639.9" r="12.4"/><circle cx="1818.9" cy="605.8" r="12.4"/><circle cx="1820.1" cy="547.1" r="12.4"/><circle cx="1821.3" cy="644.9" r="12.4"/><circle cx="1822.5" cy="537.6" r="12.4"/><circle cx="1823.7" cy="577.2" r="12.4"/><circle cx="1824.8" cy="596.7" r="12.4"/><circle cx="1826.0" cy="624.3" r="12.4"/><circle cx="1827.2" cy="597.4" r="12.4"/><circle cx="1828.4" cy="592.7" r="12.4"/><circle cx="1829.6" cy="546.7" r="12.4"/><circle cx="1830.8" cy="522.9" r="12.4"/><circle cx="1832.0" cy="572.0" r="12.4"/><circle cx="1833.2" cy="539.6" r="12.4"/><circle cx="1834.3" cy="512.9" r="12.4"/><circle cx="1835.5" cy="511.2" r="12.4"/><circle cx="1836.7" cy="539.3" r="12.4"/><circle cx="1837.9" cy="485.9" r="12.4"/><circle cx="1839.1" cy="499.5" r="12.4"/><circle cx="1840.3" cy="489.4" r="12.4"/><circle cx="1841.5" cy="555.1" r="12.4"/><circle cx="1842.7" cy="562.8" r="12.4"/><circle cx="1843.9" cy="628.2" r="12.4"/><circle cx="1845.0" cy="485.6" r="12.4"/><circle cx="1846.2" cy="511.8" r="12.4"/><circle cx="1847.4" cy="571.9" r="12.4"/><circle cx="1848.6" cy="525.6" r="12.4"/><circle cx="1849.8" cy="527.5" r="12.4"/><circle cx="1851.0" cy="616.9" r="12.4"/><circle cx="1852.2" cy="541.4" r="12.4"/><circle cx="1853.4" cy="514.7" r="12.4"/><circle cx="1854.6" cy="515.2" r="12.4"/><circle cx="1855.7" cy="585.3" r="12.4"/><circle cx="1856.9" cy="591.8" r="12.4"/><circle cx="1858.1" cy="533.6" r="12.4"/><circle cx="1859.3" cy="556.1" r="12.4"/><circle cx="1860.5" cy="624.4" r="12.4"/><circle cx="1861.7" cy="618.2" r="12.4"/><circle cx="1862.9" cy="562.5" r="12.4"/><circle cx="1864.1" cy="604.9" r="12.4"/><circle cx="1865.3" cy="596.3" r="12.4"/><circle cx="1866.4" cy="498.6" r="12.4"/><circle cx="1867.6" cy="550.7" r="12.4"/><circle cx="1868.8" cy="572.3" r="12.4"/><circle cx="1870.0" cy="527.4" r="12.4"/><circle cx="1871.2" cy="465.8" r="12.4"/><circle cx="1872.4" cy="530.8" r="12.4"/><circle cx="1873.6" cy="573.2" r="12.4"/><circle cx="1874.8" cy="609.1" r="12.4"/><circle cx="1875.9" cy="469.9" r="12.4"/><circle cx="1877.1" cy="666.9" r="12.4"/><circle cx="1878.3" cy="510.6" r="12.4"/><circle cx="1879.5" cy="594.0" r="12.4"/><circle cx="1880.7" cy="608.6" r="12.4"/><circle cx="1881.9" cy="600.6" r="12.4"/><circle cx="1883.1" cy="570.8" r="12.4"/><circle cx="1884.3" cy="522.5" r="12.4"/><circle cx="1885.5" cy="593.9" r="12.4"/><circle cx="1886.6" cy="542.3" r="12.4"/><circle cx="1887.8" cy="471.5" r="12.4"/><circle cx="1889.0" cy="689.9" r="12.4"/><circle cx="1890.2" cy="588.7" r="12.4"/><circle cx="1891.4" cy="638.0" r="12.4"/><circle cx="1892.6" cy="522.4" r="12.4"/><circle cx="1893.8" cy="614.7" r="12.4"/><circle cx="1895.0" cy="618.8" r="12.4"/><circle cx="1896.2" cy="612.5" r="12.4"/><circle cx="1897.3" cy="548.1" r="12.4"/><circle cx="1898.5" cy="498.7" r="12.4"/><circle cx="1899.7" cy="537.0" r="12.4"/><circle cx="1900.9" cy="457.5" r="12.4"/><circle cx="1902.1" cy="475.6" r="12.4"/><circle cx="1903.3" cy="546.2" r="12.4"/><circle cx="1904.5" cy="506.2" r="12.4"/><circle cx="1905.7" cy="543.0" r="12.4"/><circle cx="1906.9" cy="548.9" r="12.4"/><circle cx="1908.0" cy="638.5" r="12.4"/><circle cx="1909.2" cy="610.4" r="12.4"/><circle cx="1910.4" cy="562.9" r="12.4"/><circle cx="1911.6" cy="615.9" r="12.4"/><circle cx="1912.8" cy="540.1" r="12.4"/><circle cx="1914.0" cy="561.3" r="12.4"/><circle cx="1915.2" cy="605.4" r="12.4"/><circle cx="1916.4" cy="517.3" r="12.4"/><circle cx="1917.5" cy="552.3" r="12.4"/><circle cx="1918.7" cy="507.7" r="12.4"/><circle cx="1919.9" cy="562.5" r="12.4"/><circle cx="1921.1" cy="620.9" r="12.4"/><circle cx="1922.3" cy="520.9" r="12.4"/><circle cx="1923.5" cy="555.7" r="12.4"/><circle cx="1924.7" cy="507.6" r="12.4"/><circle cx="1925.9" cy="495.2" r="12.4"/><circle cx="1927.1" cy="491.1" r="12.4"/><circle cx="1928.2" cy="591.2" r="12.4"/><circle cx="1929.4" cy="637.9" r="12.4"/><circle cx="1930.6" cy="562.2" r="12.4"/><circle cx="1931.8" cy="516.6" r="12.4"/><circle cx="1933.0" cy="575.2" r="12.4"/><circle cx="1934.2" cy="538.7" r="12.4"/><circle cx="1935.4" cy="584.3" r="12.4"/><circle cx="1936.6" cy="569.0" r="12.4"/><circle cx="1937.8" cy="571.6" r="12.4"/><circle cx="1938.9" cy="585.9" r="12.4"/><circle cx="1940.1" cy="545.1" r="12.4"/><circle cx="1941.3" cy="555.0" r="12.4"/><circle cx="1942.5" cy="505.5" r="12.4"/><circle cx="1943.7" cy="560.9" r="12.4"/><circle cx="1944.9" cy="524.6" r="12.4"/><circle cx="1946.1" cy="577.1" r="12.4"/><circle cx="1947.3" cy="545.7" r="12.4"/><circle cx="1948.5" cy="582.9" r="12.4"/><circle cx="1949.6" cy="594.5" r="12.4"/><circle cx="1950.8" cy="519.6" r="12.4"/><circle cx="1952.0" cy="540.9" r="12.4"/><circle cx="1953.2" cy="533.2" r="12.4"/><circle cx="1954.4" cy="596.0" r="12.4"/><circle cx="1955.6" cy="638.4" r="12.4"/><circle cx="1956.8" cy="595.0" r="12.4"/><circle cx="1958.0" cy="546.8" r="12.4"/><circle cx="1959.2" cy="617.7" r="12.4"/><circle cx="1960.3" cy="496.1" r="12.4"/><circle cx="1961.5" cy="611.3" r="12.4"/><circle cx="1962.7" cy="524.2" r="12.4"/><circle cx="1963.9" cy="440.7" r="12.4"/><circle cx="1965.1" cy="671.0" r="12.4"/><circle cx="1966.3" cy="624.7" r="12.4"/><circle cx="1967.5" cy="520.4" r="12.4"/><circle cx="1968.7" cy="569.7" r="12.4"/><circle cx="1969.8" cy="558.3" r="12.4"/><circle cx="1971.0" cy="572.3" r="12.4"/><circle cx="1972.2" cy="513.6" r="12.4"/><circle cx="1973.4" cy="548.3" r="12.4"/><circle cx="1974.6" cy="594.8" r="12.4"/><circle cx="1975.8" cy="586.9" r="12.4"/><circle cx="1977.0" cy="635.0" r="12.4"/><circle cx="1978.2" cy="580.9" r="12.4"/><circle cx="1979.4" cy="679.4" r="12.4"/><circle cx="1980.5" cy="545.2" r="12.4"/><circle cx="1981.7" cy="579.5" r="12.4"/><circle cx="1982.9" cy="492.7" r="12.4"/><circle cx="1984.1" cy="514.1" r="12.4"/><circle cx="1985.3" cy="614.2" r="12.4"/><circle cx="1986.5" cy="521.2" r="12.4"/><circle cx="1987.7" cy="575.1" r="12.4"/><circle cx="1988.9" cy="550.0" r="12.4"/><circle cx="1990.1" cy="508.0" r="12.4"/><circle cx="1991.2" cy="535.2" r="12.4"/><circle cx="1992.4" cy="531.6" r="12.4"/><circle cx="1993.6" cy="535.6" r="12.4"/><circle cx="1994.8" cy="584.7" r="12.4"/><circle cx="1996.0" cy="583.9" r="12.4"/><circle cx="1997.2" cy="540.7" r="12.4"/><circle cx="1998.4" cy="530.0" r="12.4"/><circle cx="1999.6" cy="579.1" r="12.4"/><circle cx="2000.8" cy="567.7" r="12.4"/><circle cx="2001.9" cy="617.4" r="12.4"/><circle cx="2003.1" cy="695.9" r="12.4"/><circle cx="2004.3" cy="614.6" r="12.4"/><circle cx="2005.5" cy="580.7" r="12.4"/><circle cx="2006.7" cy="578.4" r="12.4"/><circle cx="2007.9" cy="546.9" r="12.4"/><circle cx="2009.1" cy="535.2" r="12.4"/><circle cx="2010.3" cy="521.7" r="12.4"/><circle cx="2011.4" cy="536.5" r="12.4"/><circle cx="2012.6" cy="530.7" r="12.4"/><circle cx="2013.8" cy="575.9" r="12.4"/><circle cx="2015.0" cy="532.1" r="12.4"/><circle cx="2016.2" cy="540.0" r="12.4"/><circle cx="2017.4" cy="500.1" r="12.4"/><circle cx="2018.6" cy="612.8" r="12.4"/><circle cx="2019.8" cy="567.5" r="12.4"/><circle cx="2021.0" cy="621.0" r="12.4"/><circle cx="2022.1" cy="580.1" r="12.4"/><circle cx="2023.3" cy="611.6" r="12.4"/><circle cx="2024.5" cy="546.9" r="12.4"/><circle cx="2025.7" cy="585.1" r="12.4"/><circle cx="2026.9" cy="680.3" r="12.4"/><circle cx="2028.1" cy="516.7" r="12.4"/><circle cx="2029.3" cy="616.8" r="12.4"/><circle cx="2030.5" cy="646.3" r="12.4"/><circle cx="2031.7" cy="589.7" r="12.4"/><circle cx="2032.8" cy="607.9" r="12.4"/><circle cx="2034.0" cy="637.7" r="12.4"/><circle cx="2035.2" cy="558.7" r="12.4"/><circle cx="2036.4" cy="598.5" r="12.4"/><circle cx="2037.6" cy="547.4" r="12.4"/><circle cx="2038.8" cy="553.1" r="12.4"/><circle cx="2040.0" cy="554.3" r="12.4"/><circle cx="2041.2" cy="570.7" r="12.4"/><circle cx="2042.4" cy="580.2" r="12.4"/><circle cx="2043.5" cy="590.2" r="12.4"/><circle cx="2044.7" cy="514.5" r="12.4"/><circle cx="2045.9" cy="660.4" r="12.4"/><circle cx="2047.1" cy="619.9" r="12.4"/><circle cx="2048.3" cy="600.8" r="12.4"/><circle cx="2049.5" cy="561.7" r="12.4"/><circle cx="2050.7" cy="573.0" r="12.4"/><circle cx="2051.9" cy="601.4" r="12.4"/><circle cx="2053.0" cy="598.0" r="12.4"/><circle cx="2054.2" cy="515.7" r="12.4"/><circle cx="2055.4" cy="610.5" r="12.4"/><circle cx="2056.6" cy="755.4" r="12.4"/><circle cx="2057.8" cy="501.4" r="12.4"/><circle cx="2059.0" cy="613.9" r="12.4"/><circle cx="2060.2" cy="583.2" r="12.4"/><circle cx="2061.4" cy="563.5" r="12.4"/><circle cx="2062.6" cy="624.1" r="12.4"/><circle cx="2063.7" cy="513.8" r="12.4"/><circle cx="2064.9" cy="565.9" r="12.4"/><circle cx="2066.1" cy="617.8" r="12.4"/><circle cx="2067.3" cy="545.8" r="12.4"/><circle cx="2068.5" cy="534.1" r="12.4"/><circle cx="2069.7" cy="554.8" r="12.4"/><circle cx="2070.9" cy="530.3" r="12.4"/><circle cx="2072.1" cy="609.2" r="12.4"/><circle cx="2073.3" cy="509.4" r="12.4"/><circle cx="2074.4" cy="578.7" r="12.4"/><circle cx="2075.6" cy="493.4" r="12.4"/><circle cx="2076.8" cy="568.2" r="12.4"/><circle cx="2078.0" cy="538.0" r="12.4"/><circle cx="2079.2" cy="434.4" r="12.4"/><circle cx="2080.4" cy="544.9" r="12.4"/><circle cx="2081.6" cy="502.2" r="12.4"/><circle cx="2082.8" cy="529.0" r="12.4"/><circle cx="2084.0" cy="610.7" r="12.4"/><circle cx="2085.1" cy="504.3" r="12.4"/><circle cx="2086.3" cy="509.0" r="12.4"/><circle cx="2087.5" cy="608.3" r="12.4"/><circle cx="2088.7" cy="553.8" r="12.4"/><circle cx="2089.9" cy="609.0" r="12.4"/><circle cx="2091.1" cy="558.5" r="12.4"/><circle cx="2092.3" cy="507.1" r="12.4"/><circle cx="2093.5" cy="538.6" r="12.4"/><circle cx="2094.7" cy="589.2" r="12.4"/><circle cx="2095.8" cy="578.6" r="12.4"/><circle cx="2097.0" cy="542.1" r="12.4"/><circle cx="2098.2" cy="544.3" r="12.4"/><circle cx="2099.4" cy="537.8" r="12.4"/><circle cx="2100.6" cy="518.8" r="12.4"/><circle cx="2101.8" cy="625.9" r="12.4"/><circle cx="2103.0" cy="543.3" r="12.4"/><circle cx="2104.2" cy="497.0" r="12.4"/><circle cx="2105.3" cy="524.4" r="12.4"/><circle cx="2106.5" cy="575.3" r="12.4"/><circle cx="2107.7" cy="574.8" r="12.4"/><circle cx="2108.9" cy="547.9" r="12.4"/><circle cx="2110.1" cy="528.6" r="12.4"/><circle cx="2111.3" cy="561.5" r="12.4"/><circle cx="2112.5" cy="495.6" r="12.4"/><circle cx="2113.7" cy="513.1" r="12.4"/><circle cx="2114.9" cy="600.5" r="12.4"/><circle cx="2116.0" cy="552.9" r="12.4"/><circle cx="2117.2" cy="588.2" r="12.4"/><circle cx="2118.4" cy="634.0" r="12.4"/><circle cx="2119.6" cy="605.0" r="12.4"/><circle cx="2120.8" cy="576.0" r="12.4"/><circle cx="2122.0" cy="670.4" r="12.4"/><circle cx="2123.2" cy="595.9" r="12.4"/><circle cx="2124.4" cy="552.5" r="12.4"/><circle cx="2125.6" cy="592.0" r="12.4"/><circle cx="2126.7" cy="576.5" r="12.4"/><circle cx="2127.9" cy="523.4" r="12.4"/><circle cx="2129.1" cy="559.6" r="12.4"/><circle cx="2130.3" cy="548.6" r="12.4"/><circle cx="2131.5" cy="478.1" r="12.4"/><circle cx="2132.7" cy="546.6" r="12.4"/><circle cx="2133.9" cy="541.0" r="12.4"/><circle cx="2135.1" cy="533.4" r="12.4"/><circle cx="2136.3" cy="487.9" r="12.4"/><circle cx="2137.4" cy="535.4" r="12.4"/><circle cx="2138.6" cy="547.6" r="12.4"/><circle cx="2139.8" cy="551.7" r="12.4"/><circle cx="2141.0" cy="503.5" r="12.4"/><circle cx="2142.2" cy="579.0" r="12.4"/><circle cx="2143.4" cy="509.1" r="12.4"/><circle cx="2144.6" cy="553.0" r="12.4"/><circle cx="2145.8" cy="621.5" r="12.4"/><circle cx="2146.9" cy="541.7" r="12.4"/><circle cx="2148.1" cy="552.4" r="12.4"/><circle cx="2149.3" cy="625.4" r="12.4"/><circle cx="2150.5" cy="565.5" r="12.4"/><circle cx="2151.7" cy="571.7" r="12.4"/><circle cx="2152.9" cy="588.9" r="12.4"/><circle cx="2154.1" cy="626.7" r="12.4"/><circle cx="2155.3" cy="490.3" r="12.4"/><circle cx="2156.5" cy="540.0" r="12.4"/><circle cx="2157.6" cy="529.1" r="12.4"/><circle cx="2158.8" cy="524.0" r="12.4"/><circle cx="2160.0" cy="529.6" r="12.4"/><circle cx="2161.2" cy="527.1" r="12.4"/><circle cx="2162.4" cy="570.3" r="12.4"/><circle cx="2163.6" cy="520.5" r="12.4"/><circle cx="2164.8" cy="560.5" r="12.4"/><circle cx="2166.0" cy="568.8" r="12.4"/><circle cx="2167.2" cy="522.3" r="12.4"/><circle cx="2168.3" cy="555.6" r="12.4"/><circle cx="2169.5" cy="616.1" r="12.4"/><circle cx="2170.7" cy="561.3" r="12.4"/><circle cx="2171.9" cy="520.1" r="12.4"/><circle cx="2173.1" cy="542.0" r="12.4"/><circle cx="2174.3" cy="505.0" r="12.4"/><circle cx="2175.5" cy="552.0" r="12.4"/><circle cx="2176.7" cy="573.5" r="12.4"/><circle cx="2177.9" cy="506.7" r="12.4"/><circle cx="2179.0" cy="534.3" r="12.4"/><circle cx="2180.2" cy="588.3" r="12.4"/><circle cx="2181.4" cy="527.9" r="12.4"/><circle cx="2182.6" cy="559.8" r="12.4"/><circle cx="2183.8" cy="513.3" r="12.4"/><circle cx="2185.0" cy="524.5" r="12.4"/><circle cx="2186.2" cy="539.8" r="12.4"/><circle cx="2187.4" cy="657.1" r="12.4"/><circle cx="2188.5" cy="550.2" r="12.4"/><circle cx="2189.7" cy="546.0" r="12.4"/><circle cx="2190.9" cy="543.3" r="12.4"/><circle cx="2192.1" cy="557.4" r="12.4"/><circle cx="2193.3" cy="585.4" r="12.4"/><circle cx="2194.5" cy="568.1" r="12.4"/><circle cx="2195.7" cy="648.7" r="12.4"/><circle cx="2196.9" cy="566.6" r="12.4"/><circle cx="2198.1" cy="614.9" r="12.4"/><circle cx="2199.2" cy="566.9" r="12.4"/><circle cx="2200.4" cy="578.4" r="12.4"/><circle cx="2201.6" cy="497.9" r="12.4"/><circle cx="2202.8" cy="549.8" r="12.4"/><circle cx="2204.0" cy="551.3" r="12.4"/><circle cx="2205.2" cy="544.7" r="12.4"/><circle cx="2206.4" cy="472.4" r="12.4"/><circle cx="2207.6" cy="585.2" r="12.4"/><circle cx="2208.8" cy="537.5" r="12.4"/><circle cx="2209.9" cy="534.9" r="12.4"/><circle cx="2211.1" cy="544.3" r="12.4"/><circle cx="2212.3" cy="547.5" r="12.4"/><circle cx="2213.5" cy="572.9" r="12.4"/><circle cx="2214.7" cy="509.8" r="12.4"/><circle cx="2215.9" cy="525.2" r="12.4"/><circle cx="2217.1" cy="574.2" r="12.4"/><circle cx="2218.3" cy="571.1" r="12.4"/><circle cx="2219.5" cy="553.4" r="12.4"/><circle cx="2220.6" cy="547.8" r="12.4"/><circle cx="2221.8" cy="538.4" r="12.4"/><circle cx="2223.0" cy="565.5" r="12.4"/><circle cx="2224.2" cy="609.8" r="12.4"/><circle cx="2225.4" cy="517.8" r="12.4"/><circle cx="2226.6" cy="618.7" r="12.4"/><circle cx="2227.8" cy="583.4" r="12.4"/><circle cx="2229.0" cy="530.2" r="12.4"/><circle cx="2230.1" cy="574.2" r="12.4"/><circle cx="2231.3" cy="486.7" r="12.4"/><circle cx="2232.5" cy="474.0" r="12.4"/><circle cx="2233.7" cy="489.6" r="12.4"/><circle cx="2234.9" cy="526.4" r="12.4"/><circle cx="2236.1" cy="536.5" r="12.4"/><circle cx="2237.3" cy="535.3" r="12.4"/><circle cx="2238.5" cy="566.0" r="12.4"/><circle cx="2239.7" cy="487.6" r="12.4"/><circle cx="2240.8" cy="592.1" r="12.4"/><circle cx="2242.0" cy="524.7" r="12.4"/><circle cx="2243.2" cy="561.9" r="12.4"/><circle cx="2244.4" cy="575.8" r="12.4"/><circle cx="2245.6" cy="548.3" r="12.4"/><circle cx="2246.8" cy="535.6" r="12.4"/><circle cx="2248.0" cy="546.2" r="12.4"/><circle cx="2249.2" cy="579.8" r="12.4"/><circle cx="2250.4" cy="599.6" r="12.4"/><circle cx="2251.5" cy="594.2" r="12.4"/><circle cx="2252.7" cy="529.8" r="12.4"/><circle cx="2253.9" cy="533.9" r="12.4"/><circle cx="2255.1" cy="525.0" r="12.4"/><circle cx="2256.3" cy="574.0" r="12.4"/><circle cx="2257.5" cy="481.0" r="12.4"/><circle cx="2258.7" cy="608.2" r="12.4"/><circle cx="2259.9" cy="543.1" r="12.4"/><circle cx="2261.1" cy="533.1" r="12.4"/><circle cx="2262.2" cy="578.3" r="12.4"/><circle cx="2263.4" cy="608.0" r="12.4"/><circle cx="2264.6" cy="582.0" r="12.4"/><circle cx="2265.8" cy="614.1" r="12.4"/><circle cx="2267.0" cy="578.1" r="12.4"/><circle cx="2268.2" cy="630.7" r="12.4"/><circle cx="2269.4" cy="631.2" r="12.4"/><circle cx="2270.6" cy="570.1" r="12.4"/><circle cx="2271.8" cy="636.9" r="12.4"/><circle cx="2272.9" cy="579.0" r="12.4"/><circle cx="2274.1" cy="575.0" r="12.4"/><circle cx="2275.3" cy="535.8" r="12.4"/><circle cx="2276.5" cy="560.9" r="12.4"/><circle cx="2277.7" cy="600.4" r="12.4"/><circle cx="2278.9" cy="518.3" r="12.4"/><circle cx="2280.1" cy="593.3" r="12.4"/><circle cx="2281.3" cy="581.4" r="12.4"/><circle cx="2282.4" cy="578.5" r="12.4"/><circle cx="2283.6" cy="483.0" r="12.4"/><circle cx="2284.8" cy="564.3" r="12.4"/><circle cx="2286.0" cy="590.8" r="12.4"/><circle cx="2287.2" cy="536.9" r="12.4"/><circle cx="2288.4" cy="569.3" r="12.4"/><circle cx="2289.6" cy="476.4" r="12.4"/><circle cx="2290.8" cy="589.8" r="12.4"/><circle cx="2292.0" cy="538.5" r="12.4"/><circle cx="2293.1" cy="596.1" r="12.4"/><circle cx="2294.3" cy="491.6" r="12.4"/><circle cx="2295.5" cy="584.5" r="12.4"/><circle cx="2296.7" cy="549.0" r="12.4"/><circle cx="2297.9" cy="585.8" r="12.4"/><circle cx="2299.1" cy="518.4" r="12.4"/><circle cx="2300.3" cy="528.3" r="12.4"/><circle cx="2301.5" cy="648.3" r="12.4"/><circle cx="2302.7" cy="517.1" r="12.4"/><circle cx="2303.8" cy="521.1" r="12.4"/><circle cx="2305.0" cy="536.2" r="12.4"/><circle cx="2306.2" cy="504.5" r="12.4"/><circle cx="2307.4" cy="588.5" r="12.4"/><circle cx="2308.6" cy="613.2" r="12.4"/><circle cx="2309.8" cy="519.1" r="12.4"/><circle cx="2311.0" cy="483.3" r="12.4"/><circle cx="2312.2" cy="596.5" r="12.4"/><circle cx="2313.4" cy="596.2" r="12.4"/><circle cx="2314.5" cy="585.5" r="12.4"/><circle cx="2315.7" cy="598.7" r="12.4"/><circle cx="2316.9" cy="517.0" r="12.4"/><circle cx="2318.1" cy="542.6" r="12.4"/><circle cx="2319.3" cy="492.9" r="12.4"/><circle cx="2320.5" cy="490.9" r="12.4"/><circle cx="2321.7" cy="578.6" r="12.4"/><circle cx="2322.9" cy="511.4" r="12.4"/><circle cx="2324.0" cy="632.2" r="12.4"/><circle cx="2325.2" cy="535.9" r="12.4"/><circle cx="2326.4" cy="504.0" r="12.4"/><circle cx="2327.6" cy="563.7" r="12.4"/><circle cx="2328.8" cy="603.4" r="12.4"/><circle cx="2330.0" cy="553.7" r="12.4"/><circle cx="2331.2" cy="490.6" r="12.4"/><circle cx="2332.4" cy="551.3" r="12.4"/><circle cx="2333.6" cy="590.4" r="12.4"/><circle cx="2334.7" cy="520.2" r="12.4"/><circle cx="2335.9" cy="510.4" r="12.4"/><circle cx="2337.1" cy="581.0" r="12.4"/><circle cx="2338.3" cy="549.9" r="12.4"/><circle cx="2339.5" cy="506.5" r="12.4"/><circle cx="2340.7" cy="542.0" r="12.4"/><circle cx="2341.9" cy="533.0" r="12.4"/><circle cx="2343.1" cy="579.5" r="12.4"/><circle cx="2344.3" cy="578.2" r="12.4"/><circle cx="2345.4" cy="632.9" r="12.4"/><circle cx="2346.6" cy="617.2" r="12.4"/><circle cx="2347.8" cy="528.0" r="12.4"/><circle cx="2349.0" cy="603.5" r="12.4"/><circle cx="2350.2" cy="625.0" r="12.4"/><circle cx="2351.4" cy="599.3" r="12.4"/><circle cx="2352.6" cy="624.9" r="12.4"/><circle cx="2353.8" cy="555.5" r="12.4"/><circle cx="2355.0" cy="537.2" r="12.4"/><circle cx="2356.1" cy="607.8" r="12.4"/><circle cx="2357.3" cy="526.5" r="12.4"/><circle cx="2358.5" cy="483.6" r="12.4"/><circle cx="2359.7" cy="604.5" r="12.4"/><circle cx="2360.9" cy="534.5" r="12.4"/><circle cx="2362.1" cy="549.8" r="12.4"/><circle cx="2363.3" cy="504.7" r="12.4"/><circle cx="2364.5" cy="506.6" r="12.4"/><circle cx="2365.6" cy="511.9" r="12.4"/><circle cx="2366.8" cy="542.6" r="12.4"/><circle cx="2368.0" cy="569.3" r="12.4"/><circle cx="2369.2" cy="469.1" r="12.4"/><circle cx="2370.4" cy="581.3" r="12.4"/><circle cx="2371.6" cy="503.8" r="12.4"/><circle cx="2372.8" cy="507.8" r="12.4"/><circle cx="2374.0" cy="575.4" r="12.4"/><circle cx="2375.2" cy="547.0" r="12.4"/><circle cx="2376.3" cy="491.4" r="12.4"/><circle cx="2377.5" cy="626.9" r="12.4"/><circle cx="2378.7" cy="514.2" r="12.4"/><circle cx="2379.9" cy="559.1" r="12.4"/><circle cx="2381.1" cy="556.4" r="12.4"/><circle cx="2382.3" cy="603.3" r="12.4"/><circle cx="2383.5" cy="529.5" r="12.4"/><circle cx="2384.7" cy="584.8" r="12.4"/><circle cx="2385.9" cy="519.8" r="12.4"/><circle cx="2387.0" cy="593.1" r="12.4"/><circle cx="2388.2" cy="522.0" r="12.4"/><circle cx="2389.4" cy="539.5" r="12.4"/><circle cx="2390.6" cy="635.2" r="12.4"/><circle cx="2391.8" cy="568.6" r="12.4"/><circle cx="2393.0" cy="563.1" r="12.4"/><circle cx="2394.2" cy="656.3" r="12.4"/><circle cx="2395.4" cy="574.1" r="12.4"/><circle cx="2396.6" cy="530.0" r="12.4"/><circle cx="2397.7" cy="591.1" r="12.4"/><circle cx="2398.9" cy="517.6" r="12.4"/><circle cx="2400.1" cy="605.7" r="12.4"/><circle cx="2401.3" cy="606.2" r="12.4"/><circle cx="2402.5" cy="533.4" r="12.4"/><circle cx="2403.7" cy="528.2" r="12.4"/><circle cx="2404.9" cy="558.2" r="12.4"/><circle cx="2406.1" cy="549.0" r="12.4"/><circle cx="2407.3" cy="506.9" r="12.4"/><circle cx="2408.4" cy="565.6" r="12.4"/><circle cx="2409.6" cy="465.0" r="12.4"/><circle cx="2410.8" cy="520.8" r="12.4"/><circle cx="2412.0" cy="518.6" r="12.4"/><circle cx="2413.2" cy="521.5" r="12.4"/><circle cx="2414.4" cy="541.7" r="12.4"/><circle cx="2415.6" cy="484.7" r="12.4"/><circle cx="2416.8" cy="558.1" r="12.4"/><circle cx="2417.9" cy="532.2" r="12.4"/><circle cx="2419.1" cy="517.4" r="12.4"/><circle cx="2420.3" cy="494.4" r="12.4"/><circle cx="2421.5" cy="505.3" r="12.4"/><circle cx="2422.7" cy="570.4" r="12.4"/><circle cx="2423.9" cy="523.8" r="12.4"/><circle cx="2425.1" cy="564.6" r="12.4"/><circle cx="2426.3" cy="600.2" r="12.4"/><circle cx="2427.5" cy="596.6" r="12.4"/><circle cx="2428.6" cy="619.4" r="12.4"/><circle cx="2429.8" cy="541.1" r="12.4"/><circle cx="2431.0" cy="507.4" r="12.4"/><circle cx="2432.2" cy="589.9" r="12.4"/><circle cx="2433.4" cy="566.5" r="12.4"/><circle cx="2434.6" cy="599.7" r="12.4"/><circle cx="2435.8" cy="560.0" r="12.4"/><circle cx="2437.0" cy="607.7" r="12.4"/><circle cx="2438.2" cy="595.7" r="12.4"/><circle cx="2439.3" cy="592.6" r="12.4"/><circle cx="2440.5" cy="585.6" r="12.4"/><circle cx="2441.7" cy="584.2" r="12.4"/><circle cx="2442.9" cy="581.3" r="12.4"/><circle cx="2444.1" cy="582.8" r="12.4"/><circle cx="2445.3" cy="620.4" r="12.4"/><circle cx="2446.5" cy="561.2" r="12.4"/><circle cx="2447.7" cy="660.8" r="12.4"/><circle cx="2448.9" cy="574.4" r="12.4"/><circle cx="2450.0" cy="618.4" r="12.4"/><circle cx="2451.2" cy="570.1" r="12.4"/><circle cx="2452.4" cy="563.1" r="12.4"/><circle cx="2453.6" cy="658.0" r="12.4"/><circle cx="2454.8" cy="554.6" r="12.4"/><circle cx="2456.0" cy="513.4" r="12.4"/><circle cx="2457.2" cy="532.9" r="12.4"/><circle cx="2458.4" cy="546.3" r="12.4"/><circle cx="2459.5" cy="650.2" r="12.4"/><circle cx="2460.7" cy="568.8" r="12.4"/><circle cx="2461.9" cy="600.9" r="12.4"/><circle cx="2463.1" cy="528.5" r="12.4"/><circle cx="2464.3" cy="584.1" r="12.4"/><circle cx="2465.5" cy="602.0" r="12.4"/><circle cx="2466.7" cy="661.6" r="12.4"/><circle cx="2467.9" cy="556.6" r="12.4"/><circle cx="2469.1" cy="611.0" r="12.4"/><circle cx="2470.2" cy="602.4" r="12.4"/><circle cx="2471.4" cy="551.1" r="12.4"/><circle cx="2472.6" cy="583.7" r="12.4"/><circle cx="2473.8" cy="570.6" r="12.4"/><circle cx="2475.0" cy="488.9" r="12.4"/><circle cx="2476.2" cy="594.1" r="12.4"/><circle cx="2477.4" cy="585.8" r="12.4"/><circle cx="2478.6" cy="549.3" r="12.4"/><circle cx="2479.8" cy="515.0" r="12.4"/><circle cx="2480.9" cy="634.9" r="12.4"/><circle cx="2482.1" cy="582.1" r="12.4"/><circle cx="2483.3" cy="617.9" r="12.4"/><circle cx="2484.5" cy="639.2" r="12.4"/><circle cx="2485.7" cy="559.9" r="12.4"/><circle cx="2486.9" cy="615.3" r="12.4"/><circle cx="2488.1" cy="571.3" r="12.4"/><circle cx="2489.3" cy="576.4" r="12.4"/><circle cx="2490.5" cy="573.6" r="12.4"/><circle cx="2491.6" cy="575.3" r="12.4"/><circle cx="2492.8" cy="621.8" r="12.4"/><circle cx="2494.0" cy="576.9" r="12.4"/><circle cx="2495.2" cy="565.6" r="12.4"/><circle cx="2496.4" cy="559.5" r="12.4"/><circle cx="2497.6" cy="580.3" r="12.4"/><circle cx="2498.8" cy="530.9" r="12.4"/><circle cx="2500.0" cy="545.1" r="12.4"/><circle cx="2501.1" cy="562.1" r="12.4"/><circle cx="2502.3" cy="540.3" r="12.4"/><circle cx="2503.5" cy="557.4" r="12.4"/><circle cx="2504.7" cy="537.4" r="12.4"/><circle cx="2505.9" cy="647.5" r="12.4"/><circle cx="2507.1" cy="613.0" r="12.4"/><circle cx="2508.3" cy="576.5" r="12.4"/><circle cx="2509.5" cy="557.0" r="12.4"/><circle cx="2510.7" cy="654.0" r="12.4"/><circle cx="2511.8" cy="569.9" r="12.4"/><circle cx="2513.0" cy="554.4" r="12.4"/><circle cx="2514.2" cy="568.3" r="12.4"/><circle cx="2515.4" cy="568.4" r="12.4"/><circle cx="2516.6" cy="615.6" r="12.4"/><circle cx="2517.8" cy="561.1" r="12.4"/><circle cx="2519.0" cy="655.2" r="12.4"/><circle cx="2520.2" cy="529.7" r="12.4"/><circle cx="2521.4" cy="592.6" r="12.4"/><circle cx="2522.5" cy="528.6" r="12.4"/><circle cx="2523.7" cy="651.0" r="12.4"/><circle cx="2524.9" cy="560.7" r="12.4"/><circle cx="2526.1" cy="571.8" r="12.4"/><circle cx="2527.3" cy="610.9" r="12.4"/><circle cx="2528.5" cy="627.9" r="12.4"/><circle cx="2529.7" cy="525.8" r="12.4"/><circle cx="2530.9" cy="554.4" r="12.4"/><circle cx="2532.1" cy="510.3" r="12.4"/><circle cx="2533.2" cy="567.8" r="12.4"/><circle cx="2534.4" cy="556.4" r="12.4"/><circle cx="2535.6" cy="544.5" r="12.4"/><circle cx="2536.8" cy="527.7" r="12.4"/><circle cx="2538.0" cy="538.0" r="12.4"/><circle cx="2539.2" cy="523.7" r="12.4"/><circle cx="2540.4" cy="573.9" r="12.4"/><circle cx="2541.6" cy="616.4" r="12.4"/><circle cx="2542.8" cy="482.4" r="12.4"/><circle cx="2543.9" cy="553.8" r="12.4"/><circle cx="2545.1" cy="542.8" r="12.4"/><circle cx="2546.3" cy="578.9" r="12.4"/><circle cx="2547.5" cy="524.3" r="12.4"/><circle cx="2548.7" cy="557.5" r="12.4"/><circle cx="2549.9" cy="523.5" r="12.4"/><circle cx="2551.1" cy="591.3" r="12.4"/><circle cx="2552.3" cy="570.0" r="12.4"/><circle cx="2553.4" cy="562.7" r="12.4"/><circle cx="2554.6" cy="582.3" r="12.4"/><circle cx="2555.8" cy="557.9" r="12.4"/><circle cx="2557.0" cy="502.8" r="12.4"/><circle cx="2558.2" cy="583.9" r="12.4"/><circle cx="2559.4" cy="571.0" r="12.4"/><circle cx="2560.6" cy="551.5" r="12.4"/><circle cx="2561.8" cy="592.4" r="12.4"/><circle cx="2563.0" cy="599.9" r="12.4"/><circle cx="2564.1" cy="507.3" r="12.4"/><circle cx="2565.3" cy="516.8" r="12.4"/><circle cx="2566.5" cy="606.5" r="12.4"/><circle cx="2567.7" cy="597.8" r="12.4"/><circle cx="2568.9" cy="511.6" r="12.4"/><circle cx="2570.1" cy="493.2" r="12.4"/><circle cx="2571.3" cy="511.5" r="12.4"/><circle cx="2572.5" cy="519.2" r="12.4"/><circle cx="2573.7" cy="481.3" r="12.4"/><circle cx="2574.8" cy="543.9" r="12.4"/><circle cx="2576.0" cy="493.9" r="12.4"/><circle cx="2577.2" cy="498.1" r="12.4"/><circle cx="2578.4" cy="582.2" r="12.4"/><circle cx="2579.6" cy="523.0" r="12.4"/><circle cx="2580.8" cy="548.8" r="12.4"/><circle cx="2582.0" cy="577.0" r="12.4"/><circle cx="2583.2" cy="582.9" r="12.4"/><circle cx="2584.4" cy="534.8" r="12.4"/><circle cx="2585.5" cy="545.6" r="12.4"/><circle cx="2586.7" cy="506.0" r="12.4"/><circle cx="2587.9" cy="602.5" r="12.4"/><circle cx="2589.1" cy="556.0" r="12.4"/><circle cx="2590.3" cy="488.7" r="12.4"/><circle cx="2591.5" cy="528.9" r="12.4"/><circle cx="2592.7" cy="559.2" r="12.4"/><circle cx="2593.9" cy="550.4" r="12.4"/><circle cx="2595.0" cy="603.9" r="12.4"/><circle cx="2596.2" cy="584.6" r="12.4"/><circle cx="2597.4" cy="512.8" r="12.4"/><circle cx="2598.6" cy="531.5" r="12.4"/><circle cx="2599.8" cy="489.1" r="12.4"/><circle cx="2601.0" cy="547.2" r="12.4"/><circle cx="2602.2" cy="543.9" r="12.4"/><circle cx="2603.4" cy="654.8" r="12.4"/><circle cx="2604.6" cy="543.8" r="12.4"/><circle cx="2605.7" cy="461.3" r="12.4"/><circle cx="2606.9" cy="514.4" r="12.4"/><circle cx="2608.1" cy="547.5" r="12.4"/><circle cx="2609.3" cy="494.1" r="12.4"/><circle cx="2610.5" cy="510.0" r="12.4"/>
</g>
<g clip-path="url(#cT)"><polyline points="234.0,579.7 236.0,579.1 238.0,576.3 240.0,572.0 242.0,567.8 244.0,564.9 246.0,563.2 248.0,561.9 250.0,567.1 252.0,572.6 254.0,578.5 256.0,584.2 258.0,589.1 260.0,592.5 262.0,591.0 264.0,589.8 266.0,588.1 268.0,585.5 270.0,581.7 272.0,577.1 274.0,572.3 276.0,567.8 278.0,563.8 280.0,560.2 282.0,557.2 284.0,558.1 286.0,562.8 288.0,568.8 290.0,576.3 292.0,584.4 294.0,591.9 296.0,598.3 298.0,603.9 300.0,606.2 302.0,603.3 304.0,600.1 306.0,595.9 308.0,590.6 310.0,584.7 312.0,584.5 314.0,588.9 316.0,592.8 318.0,595.2 320.0,596.3 322.0,594.4 324.0,594.3 326.0,597.2 328.0,602.5 330.0,609.1 332.0,615.4 334.0,620.6 336.0,614.1 338.0,604.6 340.0,593.3 342.0,581.0 344.0,568.7 346.0,557.0 348.0,545.9 350.0,547.4 352.0,550.8 354.0,555.0 356.0,559.0 358.0,565.4 360.0,579.7 362.0,594.0 364.0,608.9 366.0,624.2 368.0,629.7 370.0,628.9 372.0,628.2 374.0,627.6 376.0,626.9 378.0,626.2 380.0,625.1 382.0,622.9 384.0,617.7 386.0,609.9 388.0,601.9 390.0,594.4 392.0,587.5 394.0,581.3 396.0,575.8 398.0,577.8 400.0,587.3 402.0,595.7 404.0,603.8 406.0,613.4 408.0,625.8 410.0,631.6 412.0,631.9 414.0,629.7 416.0,625.9 418.0,622.8 420.0,620.9 422.0,623.1 424.0,624.6 426.0,624.8 428.0,624.8 430.0,625.6 432.0,627.2 434.0,625.7 436.0,624.3 438.0,622.4 440.0,619.5 442.0,616.5 444.0,614.0 446.0,609.9 448.0,606.6 450.0,603.9 452.0,601.8 454.0,600.1 456.0,597.5 458.0,592.3 460.0,585.1 462.0,583.0 464.0,583.0 466.0,584.2 468.0,588.5 470.0,594.1 472.0,598.4 474.0,603.2 476.0,609.6 478.0,617.9 480.0,627.7 482.0,628.6 484.0,620.6 486.0,610.6 488.0,598.1 490.0,583.6 492.0,580.3 494.0,580.3 496.0,583.7 498.0,590.2 500.0,598.5 502.0,606.7 504.0,612.3 506.0,615.6 508.0,616.1 510.0,613.6 512.0,609.4 514.0,605.1 516.0,602.6 518.0,605.8 520.0,611.1 522.0,617.6 524.0,624.1 526.0,629.9 528.0,635.2 530.0,640.7 532.0,637.9 534.0,636.1 536.0,633.4 538.0,629.4 540.0,625.4 542.0,625.9 544.0,636.0 546.0,645.5 548.0,652.2 550.0,655.8 552.0,657.8 554.0,654.9 556.0,646.5 558.0,638.6 560.0,630.1 562.0,620.4 564.0,610.2 566.0,605.7 568.0,606.2 570.0,608.9 572.0,613.2 574.0,618.3 576.0,623.0 578.0,613.2 580.0,598.1 582.0,581.4 584.0,564.0 586.0,549.1 588.0,549.0 590.0,550.0 592.0,551.4 594.0,552.5 596.0,552.6 598.0,551.2 600.0,547.6 602.0,544.2 604.0,541.3 606.0,539.0 608.0,537.0 610.0,534.8 612.0,532.7 614.0,532.1 616.0,536.8 618.0,541.1 620.0,544.3 622.0,546.6 624.0,549.3 626.0,550.4 628.0,546.6 630.0,542.8 632.0,538.4 634.0,534.1 636.0,539.6 638.0,550.4 640.0,561.6 642.0,572.1 644.0,581.3 646.0,589.2 648.0,582.7 650.0,573.4 652.0,564.0 654.0,554.7 656.0,547.9 658.0,551.0 660.0,555.4 662.0,561.6 664.0,568.9 666.0,575.6 668.0,580.0 670.0,580.6 672.0,573.9 674.0,566.8 676.0,559.6 678.0,552.6 680.0,546.4 682.0,541.0 684.0,536.2 686.0,532.1 688.0,529.7 690.0,530.1 692.0,533.2 694.0,540.9 696.0,549.2 698.0,553.6 700.0,554.6 702.0,554.4 704.0,555.4 706.0,558.8 708.0,563.7 710.0,566.2 712.0,564.1 714.0,560.4 716.0,556.3 718.0,553.5 720.0,553.2 722.0,555.4 724.0,560.0 726.0,565.8 728.0,570.0 730.0,572.7 732.0,574.5 734.0,576.0 736.0,577.4 738.0,578.7 740.0,580.4 742.0,582.0 744.0,581.0 746.0,579.0 748.0,576.5 750.0,574.2 752.0,572.1 754.0,569.7 756.0,566.7 758.0,563.5 760.0,560.5 762.0,558.1 764.0,556.6 766.0,555.8 768.0,554.9 770.0,553.0 772.0,549.6 774.0,545.5 776.0,541.8 778.0,540.0 780.0,540.7 782.0,543.2 784.0,545.4 786.0,545.4 788.0,544.2 790.0,542.5 792.0,540.6 794.0,538.3 796.0,534.9 798.0,530.5 800.0,525.9 802.0,535.1 804.0,546.1 806.0,557.8 808.0,568.7 810.0,578.3 812.0,584.7 814.0,577.9 816.0,571.3 818.0,565.2 820.0,559.4 822.0,553.8 824.0,547.9 826.0,543.1 828.0,545.6 830.0,549.2 832.0,554.6 834.0,561.6 836.0,568.2 838.0,574.3 840.0,577.9 842.0,578.1 844.0,571.8 846.0,557.2 848.0,543.6 850.0,532.5 852.0,524.6 854.0,519.1 856.0,519.9 858.0,525.1 860.0,528.8 862.0,530.7 864.0,530.7 866.0,529.1 868.0,527.5 870.0,530.0 872.0,536.1 874.0,543.1 876.0,550.4 878.0,558.0 880.0,565.1 882.0,562.4 884.0,553.5 886.0,543.6 888.0,536.0 890.0,532.5 892.0,532.1 894.0,532.5 896.0,531.5 898.0,533.3 900.0,537.2 902.0,540.2 904.0,543.9 906.0,548.5 908.0,553.6 910.0,558.1 912.0,561.8 914.0,562.0 916.0,557.5 918.0,551.9 920.0,546.1 922.0,541.5 924.0,539.5 926.0,540.7 928.0,546.9 930.0,557.1 932.0,565.6 934.0,571.1 936.0,574.1 938.0,576.4 940.0,575.7 942.0,575.2 944.0,577.3 946.0,578.3 948.0,574.8 950.0,566.6 952.0,556.9 954.0,549.3 956.0,544.6 958.0,540.8 960.0,536.4 962.0,530.2 964.0,522.8 966.0,516.0 968.0,510.6 970.0,506.4 972.0,507.1 974.0,518.6 976.0,529.5 978.0,540.2 980.0,550.5 982.0,550.8 984.0,545.1 986.0,539.8 988.0,536.4 990.0,540.2 992.0,543.1 994.0,544.2 996.0,543.9 998.0,543.5 1000.0,544.2 1002.0,546.6 1004.0,552.3 1006.0,557.5 1008.0,562.6 1010.0,568.2 1012.0,574.3 1014.0,580.3 1016.0,584.2 1018.0,579.0 1020.0,574.9 1022.0,571.9 1024.0,569.6 1026.0,567.2 1028.0,564.9 1030.0,563.7 1032.0,560.6 1034.0,556.6 1036.0,552.6 1038.0,549.3 1040.0,548.7 1042.0,551.3 1044.0,555.0 1046.0,559.7 1048.0,564.9 1050.0,570.5 1052.0,576.5 1054.0,582.4 1056.0,584.2 1058.0,578.2 1060.0,570.1 1062.0,561.2 1064.0,553.0 1066.0,545.9 1068.0,538.8 1070.0,531.0 1072.0,525.4 1074.0,531.2 1076.0,538.0 1078.0,545.7 1080.0,554.4 1082.0,560.7 1084.0,565.2 1086.0,570.8 1088.0,577.1 1090.0,583.4 1092.0,588.3 1094.0,590.9 1096.0,587.7 1098.0,580.6 1100.0,574.1 1102.0,569.2 1104.0,565.8 1106.0,562.7 1108.0,558.2 1110.0,555.4 1112.0,554.7 1114.0,555.2 1116.0,557.0 1118.0,559.8 1120.0,563.5 1122.0,568.4 1124.0,574.0 1126.0,578.5 1128.0,579.4 1130.0,574.2 1132.0,568.7 1134.0,564.8 1136.0,563.0 1138.0,565.8 1140.0,570.6 1142.0,573.3 1144.0,573.2 1146.0,571.0 1148.0,568.8 1150.0,568.9 1152.0,572.3 1154.0,578.0 1156.0,581.8 1158.0,578.9 1160.0,573.0 1162.0,566.7 1164.0,562.8 1166.0,561.5 1168.0,561.3 1170.0,561.3 1172.0,563.6 1174.0,565.5 1176.0,568.0 1178.0,571.3 1180.0,574.1 1182.0,575.3 1184.0,575.1 1186.0,574.5 1188.0,574.7 1190.0,570.3 1192.0,565.9 1194.0,560.8 1196.0,554.4 1198.0,547.4 1200.0,541.1 1202.0,536.7 1204.0,539.6 1206.0,543.7 1208.0,547.7 1210.0,551.1 1212.0,553.7 1214.0,556.1 1216.0,558.7 1218.0,557.3 1220.0,555.4 1222.0,552.7 1224.0,549.7 1226.0,550.1 1228.0,556.5 1230.0,561.9 1232.0,565.5 1234.0,567.8 1236.0,570.5 1238.0,575.1 1240.0,577.9 1242.0,574.2 1244.0,571.0 1246.0,567.6 1248.0,563.8 1250.0,565.6 1252.0,569.0 1254.0,571.2 1256.0,572.8 1258.0,574.6 1260.0,576.9 1262.0,579.4 1264.0,577.2 1266.0,572.7 1268.0,567.9 1270.0,563.4 1272.0,560.1 1274.0,558.9 1276.0,559.1 1278.0,562.6 1280.0,564.6 1282.0,563.3 1284.0,560.9 1286.0,560.3 1288.0,562.9 1290.0,567.9 1292.0,573.4 1294.0,573.4 1296.0,568.0 1298.0,561.0 1300.0,554.0 1302.0,548.8 1304.0,554.1 1306.0,561.9 1308.0,569.1 1310.0,574.1 1312.0,576.5 1314.0,577.3 1316.0,575.1 1318.0,575.0 1320.0,577.5 1322.0,582.4 1324.0,587.9 1326.0,592.1 1328.0,593.7 1330.0,593.4 1332.0,587.6 1334.0,581.9 1336.0,576.7 1338.0,571.4 1340.0,565.5 1342.0,560.1 1344.0,563.2 1346.0,567.4 1348.0,572.0 1350.0,575.7 1352.0,571.6 1354.0,558.4 1356.0,544.9 1358.0,532.2 1360.0,520.2 1362.0,522.5 1364.0,529.3 1366.0,537.7 1368.0,548.0 1370.0,558.7 1372.0,558.6 1374.0,558.7 1376.0,557.3 1378.0,553.1 1380.0,550.3 1382.0,550.5 1384.0,550.6 1386.0,552.3 1388.0,556.2 1390.0,552.2 1392.0,546.1 1394.0,539.5 1396.0,532.0 1398.0,527.3 1400.0,538.6 1402.0,549.1 1404.0,557.9 1406.0,564.9 1408.0,565.1 1410.0,559.1 1412.0,553.9 1414.0,549.9 1416.0,548.2 1418.0,549.8 1420.0,553.7 1422.0,559.5 1424.0,564.8 1426.0,567.6 1428.0,569.2 1430.0,570.9 1432.0,572.6 1434.0,573.8 1436.0,565.2 1438.0,557.0 1440.0,550.3 1442.0,550.4 1444.0,556.3 1446.0,561.4 1448.0,564.9 1450.0,567.4 1452.0,569.8 1454.0,572.8 1456.0,574.6 1458.0,574.9 1460.0,574.9 1462.0,573.3 1464.0,569.2 1466.0,562.8 1468.0,556.2 1470.0,554.4 1472.0,557.6 1474.0,561.8 1476.0,566.1 1478.0,570.7 1480.0,576.1 1482.0,582.3 1484.0,582.9 1486.0,578.0 1488.0,572.7 1490.0,566.8 1492.0,560.5 1494.0,554.3 1496.0,554.4 1498.0,557.5 1500.0,560.7 1502.0,563.2 1504.0,564.9 1506.0,566.3 1508.0,567.8 1510.0,565.1 1512.0,561.4 1514.0,558.8 1516.0,557.5 1518.0,556.7 1520.0,556.7 1522.0,553.9 1524.0,548.2 1526.0,540.8 1528.0,534.2 1530.0,531.4 1532.0,534.1 1534.0,545.1 1536.0,555.0 1538.0,560.3 1540.0,560.1 1542.0,557.4 1544.0,553.9 1546.0,548.5 1548.0,546.7 1550.0,546.2 1552.0,545.3 1554.0,543.8 1556.0,542.0 1558.0,539.4 1560.0,535.1 1562.0,529.3 1564.0,528.6 1566.0,529.0 1568.0,530.5 1570.0,532.6 1572.0,536.5 1574.0,545.2 1576.0,552.7 1578.0,559.3 1580.0,565.5 1582.0,572.6 1584.0,575.6 1586.0,574.0 1588.0,573.6 1590.0,573.4 1592.0,572.8 1594.0,571.4 1596.0,574.1 1598.0,579.4 1600.0,584.1 1602.0,587.2 1604.0,588.2 1606.0,588.7 1608.0,583.0 1610.0,578.0 1612.0,574.8 1614.0,571.6 1616.0,569.4 1618.0,577.2 1620.0,584.7 1622.0,592.4 1624.0,600.5 1626.0,602.8 1628.0,599.1 1630.0,595.9 1632.0,592.3 1634.0,587.5 1636.0,580.9 1638.0,572.8 1640.0,564.7 1642.0,557.7 1644.0,551.6 1646.0,546.9 1648.0,543.2 1650.0,548.4 1652.0,555.0 1654.0,561.8 1656.0,569.5 1658.0,578.1 1660.0,587.5 1662.0,597.3 1664.0,599.0 1666.0,599.3 1668.0,598.7 1670.0,596.0 1672.0,591.1 1674.0,585.4 1676.0,581.1 1678.0,579.2 1680.0,579.0 1682.0,578.9 1684.0,577.6 1686.0,574.9 1688.0,570.8 1690.0,565.9 1692.0,567.4 1694.0,570.4 1696.0,574.4 1698.0,579.0 1700.0,583.0 1702.0,584.8 1704.0,576.0 1706.0,567.4 1708.0,559.7 1710.0,552.7 1712.0,546.1 1714.0,540.1 1716.0,535.4 1718.0,542.0 1720.0,548.9 1722.0,556.4 1724.0,564.4 1726.0,572.0 1728.0,574.0 1730.0,561.4 1732.0,549.6 1734.0,539.0 1736.0,528.9 1738.0,529.3 1740.0,535.9 1742.0,541.4 1744.0,547.0 1746.0,553.3 1748.0,560.8 1750.0,569.2 1752.0,578.1 1754.0,583.4 1756.0,583.3 1758.0,581.6 1760.0,578.5 1762.0,575.7 1764.0,574.7 1766.0,575.7 1768.0,576.6 1770.0,576.1 1772.0,574.1 1774.0,571.6 1776.0,569.9 1778.0,568.7 1780.0,566.6 1782.0,562.1 1784.0,555.3 1786.0,548.0 1788.0,542.2 1790.0,539.1 1792.0,538.4 1794.0,539.3 1796.0,540.7 1798.0,544.3 1800.0,552.0 1802.0,559.1 1804.0,565.4 1806.0,570.8 1808.0,574.8 1810.0,577.2 1812.0,577.4 1814.0,576.1 1816.0,576.8 1818.0,579.1 1820.0,581.4 1822.0,583.1 1824.0,583.9 1826.0,582.2 1828.0,577.1 1830.0,574.0 1832.0,573.5 1834.0,573.6 1836.0,571.1 1838.0,564.2 1840.0,553.9 1842.0,543.0 1844.0,532.8 1846.0,524.5 1848.0,518.6 1850.0,526.5 1852.0,541.8 1854.0,558.5 1856.0,574.7 1858.0,589.1 1860.0,601.6 1862.0,593.5 1864.0,581.9 1866.0,569.2 1868.0,555.4 1870.0,541.9 1872.0,531.7 1874.0,540.0 1876.0,549.9 1878.0,558.7 1880.0,565.1 1882.0,569.5 1884.0,572.6 1886.0,574.6 1888.0,567.7 1890.0,560.8 1892.0,554.7 1894.0,549.9 1896.0,547.2 1898.0,546.5 1900.0,546.7 1902.0,546.9 1904.0,556.0 1906.0,565.5 1908.0,573.9 1910.0,580.9 1912.0,586.6 1914.0,590.5 1916.0,583.0 1918.0,576.0 1920.0,569.3 1922.0,561.8 1924.0,552.9 1926.0,542.9 1928.0,533.9 1930.0,536.2 1932.0,538.6 1934.0,540.8 1936.0,543.0 1938.0,546.2 1940.0,551.4 1942.0,558.8 1944.0,567.5 1946.0,576.5 1948.0,577.5 1950.0,576.4 1952.0,575.9 1954.0,575.4 1956.0,573.5 1958.0,569.2 1960.0,563.1 1962.0,556.5 1964.0,556.2 1966.0,560.1 1968.0,564.4 1970.0,569.1 1972.0,574.6 1974.0,580.7 1976.0,587.0 1978.0,586.2 1980.0,580.8 1982.0,575.3 1984.0,570.0 1986.0,564.9 1988.0,558.9 1990.0,551.5 1992.0,549.2 1994.0,550.1 1996.0,551.8 1998.0,554.8 2000.0,559.6 2002.0,566.2 2004.0,574.9 2006.0,585.0 2008.0,583.9 2010.0,569.0 2012.0,550.6 2014.0,546.2 2016.0,541.3 2018.0,539.0 2020.0,541.1 2022.0,548.7 2024.0,561.0 2026.0,572.2 2028.0,581.7 2030.0,589.7 2032.0,596.4 2034.0,601.5 2036.0,602.0 2038.0,595.2 2040.0,587.1 2042.0,578.9 2044.0,572.0 2046.0,567.6 2048.0,569.2 2050.0,575.2 2052.0,580.8 2054.0,585.4 2056.0,580.1 2058.0,574.3 2060.0,568.0 2062.0,561.2 2064.0,554.4 2066.0,547.6 2068.0,540.8 2070.0,535.9 2072.0,531.0 2074.0,527.4 2076.0,525.5 2078.0,525.9 2080.0,528.0 2082.0,529.0 2084.0,530.4 2086.0,533.9 2088.0,535.4 2090.0,536.8 2092.0,538.6 2094.0,540.3 2096.0,542.6 2098.0,542.2 2100.0,540.0 2102.0,537.8 2104.0,536.9 2106.0,540.2 2108.0,548.3 2110.0,557.4 2112.0,566.9 2114.0,576.1 2116.0,584.0 2118.0,589.7 2120.0,588.1 2122.0,578.6 2124.0,569.3 2126.0,561.8 2128.0,556.4 2130.0,555.8 2132.0,557.5 2134.0,560.0 2136.0,561.7 2138.0,561.5 2140.0,559.2 2142.0,563.8 2144.0,569.1 2146.0,575.0 2148.0,581.3 2150.0,587.4 2152.0,591.6 2154.0,584.9 2156.0,577.6 2158.0,569.4 2160.0,560.5 2162.0,551.4 2164.0,543.9 2166.0,540.1 2168.0,539.0 2170.0,540.3 2172.0,542.8 2174.0,544.3 2176.0,543.6 2178.0,542.9 2180.0,545.9 2182.0,548.3 2184.0,551.3 2186.0,555.3 2188.0,559.8 2190.0,559.6 2192.0,554.1 2194.0,548.8 2196.0,545.5 2198.0,544.9 2200.0,546.1 2202.0,545.2 2204.0,540.9 2206.0,535.4 2208.0,532.2 2210.0,532.7 2212.0,539.9 2214.0,547.2 2216.0,552.7 2218.0,556.7 2220.0,560.5 2222.0,563.8 2224.0,560.4 2226.0,557.8 2228.0,554.4 2230.0,548.6 2232.0,540.1 2234.0,536.8 2236.0,546.0 2238.0,557.1 2240.0,569.3 2242.0,581.1 2244.0,590.7 2246.0,588.5 2248.0,577.0 2250.0,567.5 2252.0,561.7 2254.0,557.6 2256.0,552.3 2258.0,551.5 2260.0,552.2 2262.0,553.5 2264.0,556.7 2266.0,562.3 2268.0,569.7 2270.0,574.0 2272.0,577.3 2274.0,578.8 2276.0,577.9 2278.0,574.9 2280.0,571.3 2282.0,569.4 2284.0,569.5 2286.0,570.4 2288.0,570.5 2290.0,569.3 2292.0,568.0 2294.0,566.7 2296.0,566.4 2298.0,564.4 2300.0,558.8 2302.0,550.5 2304.0,542.5 2306.0,537.3 2308.0,535.6 2310.0,541.1 2312.0,546.0 2314.0,550.2 2316.0,549.4 2318.0,545.5 2320.0,541.8 2322.0,538.0 2324.0,534.0 2326.0,529.5 2328.0,529.7 2330.0,530.7 2332.0,531.0 2334.0,531.2 2336.0,532.0 2338.0,534.4 2340.0,546.7 2342.0,560.4 2344.0,573.4 2346.0,585.0 2348.0,590.7 2350.0,584.2 2352.0,577.4 2354.0,571.1 2356.0,565.8 2358.0,561.6 2360.0,559.7 2362.0,560.1 2364.0,561.4 2366.0,563.0 2368.0,564.4 2370.0,565.0 2372.0,564.4 2374.0,562.7 2376.0,559.6 2378.0,554.7 2380.0,549.9 2382.0,547.0 2384.0,546.2 2386.0,548.5 2388.0,552.0 2390.0,555.4 2392.0,559.8 2394.0,565.7 2396.0,571.9 2398.0,576.3 2400.0,572.6 2402.0,563.8 2404.0,554.1 2406.0,544.9 2408.0,536.8 2410.0,530.6 2412.0,526.2 2414.0,523.6 2416.0,528.8 2418.0,540.7 2420.0,551.4 2422.0,559.5 2424.0,564.7 2426.0,558.4 2428.0,551.3 2430.0,546.4 2432.0,546.2 2434.0,552.2 2436.0,557.8 2438.0,562.0 2440.0,564.6 2442.0,566.3 2444.0,568.5 2446.0,571.8 2448.0,574.6 2450.0,571.0 2452.0,567.6 2454.0,563.7 2456.0,559.0 2458.0,554.1 2460.0,554.7 2462.0,563.5 2464.0,572.2 2466.0,579.8 2468.0,586.8 2470.0,594.0 2472.0,592.9 2474.0,584.5 2476.0,574.8 2478.0,564.9 2480.0,567.3 2482.0,570.7 2484.0,574.1 2486.0,576.3 2488.0,575.1 2490.0,571.6 2492.0,572.0 2494.0,576.2 2496.0,581.7 2498.0,585.6 2500.0,586.0 2502.0,583.3 2504.0,578.3 2506.0,571.9 2508.0,566.1 2510.0,562.3 2512.0,560.0 2514.0,558.3 2516.0,558.5 2518.0,560.9 2520.0,563.1 2522.0,565.5 2524.0,568.1 2526.0,570.6 2528.0,567.3 2530.0,560.0 2532.0,552.7 2534.0,547.0 2536.0,543.8 2538.0,542.6 2540.0,547.5 2542.0,553.4 2544.0,558.1 2546.0,561.5 2548.0,563.1 2550.0,563.1 2552.0,562.4 2554.0,562.3 2556.0,559.6 2558.0,555.9 2560.0,552.7 2562.0,549.1 2564.0,544.3 2566.0,538.1 2568.0,531.3 2570.0,525.1 2572.0,524.4 2574.0,530.0 2576.0,537.4 2578.0,545.4 2580.0,553.1 2582.0,559.9 2584.0,558.5 2586.0,552.4 2588.0,545.4 2590.0,539.7 2592.0,542.0 2594.0,543.6 2596.0,542.7 2598.0,538.4 2600.0,531.9 2602.0,526.4 2604.0,525.2 2606.0,529.0 2608.0,535.2 2610.0,540.8 2612.0,544.2" fill="none" stroke="#4477AA" stroke-width="13.5" stroke-linejoin="round" stroke-linecap="square"/></g>
<g clip-path="url(#cB)" fill="none" stroke="#AA3377" stroke-opacity="0.5" stroke-width="4.0">
<circle cx="234.5" cy="1315.3" r="12.4"/><circle cx="235.7" cy="1356.5" r="12.4"/><circle cx="236.9" cy="1331.8" r="12.4"/><circle cx="238.1" cy="1293.4" r="12.4"/><circle cx="239.3" cy="1386.1" r="12.4"/><circle cx="240.4" cy="1318.9" r="12.4"/><circle cx="241.6" cy="1323.1" r="12.4"/><circle cx="242.8" cy="1277.6" r="12.4"/><circle cx="244.0" cy="1310.6" r="12.4"/><circle cx="245.2" cy="1389.3" r="12.4"/><circle cx="246.4" cy="1269.8" r="12.4"/><circle cx="247.6" cy="1355.8" r="12.4"/><circle cx="248.8" cy="1396.2" r="12.4"/><circle cx="250.0" cy="1344.5" r="12.4"/><circle cx="251.1" cy="1377.4" r="12.4"/><circle cx="252.3" cy="1305.4" r="12.4"/><circle cx="253.5" cy="1433.6" r="12.4"/><circle cx="254.7" cy="1418.1" r="12.4"/><circle cx="255.9" cy="1384.4" r="12.4"/><circle cx="257.1" cy="1279.1" r="12.4"/><circle cx="258.3" cy="1320.4" r="12.4"/><circle cx="259.5" cy="1418.8" r="12.4"/><circle cx="260.6" cy="1470.6" r="12.4"/><circle cx="261.8" cy="1395.2" r="12.4"/><circle cx="263.0" cy="1437.5" r="12.4"/><circle cx="264.2" cy="1340.0" r="12.4"/><circle cx="265.4" cy="1354.3" r="12.4"/><circle cx="266.6" cy="1359.6" r="12.4"/><circle cx="267.8" cy="1376.2" r="12.4"/><circle cx="269.0" cy="1264.7" r="12.4"/><circle cx="270.2" cy="1391.3" r="12.4"/><circle cx="271.3" cy="1402.7" r="12.4"/><circle cx="272.5" cy="1277.0" r="12.4"/><circle cx="273.7" cy="1267.8" r="12.4"/><circle cx="274.9" cy="1364.2" r="12.4"/><circle cx="276.1" cy="1309.7" r="12.4"/><circle cx="277.3" cy="1225.5" r="12.4"/><circle cx="278.5" cy="1393.1" r="12.4"/><circle cx="279.7" cy="1361.8" r="12.4"/><circle cx="280.9" cy="1329.6" r="12.4"/><circle cx="282.0" cy="1468.0" r="12.4"/><circle cx="283.2" cy="1365.7" r="12.4"/><circle cx="284.4" cy="1314.0" r="12.4"/><circle cx="285.6" cy="1357.0" r="12.4"/><circle cx="286.8" cy="1290.9" r="12.4"/><circle cx="288.0" cy="1301.7" r="12.4"/><circle cx="289.2" cy="1362.6" r="12.4"/><circle cx="290.4" cy="1306.6" r="12.4"/><circle cx="291.6" cy="1308.7" r="12.4"/><circle cx="292.7" cy="1410.9" r="12.4"/><circle cx="293.9" cy="1373.4" r="12.4"/><circle cx="295.1" cy="1366.6" r="12.4"/><circle cx="296.3" cy="1349.6" r="12.4"/><circle cx="297.5" cy="1347.7" r="12.4"/><circle cx="298.7" cy="1399.3" r="12.4"/><circle cx="299.9" cy="1326.9" r="12.4"/><circle cx="301.1" cy="1420.3" r="12.4"/><circle cx="302.2" cy="1284.7" r="12.4"/><circle cx="303.4" cy="1325.6" r="12.4"/><circle cx="304.6" cy="1264.3" r="12.4"/><circle cx="305.8" cy="1318.8" r="12.4"/><circle cx="307.0" cy="1363.8" r="12.4"/><circle cx="308.2" cy="1404.1" r="12.4"/><circle cx="309.4" cy="1292.1" r="12.4"/><circle cx="310.6" cy="1327.2" r="12.4"/><circle cx="311.8" cy="1303.4" r="12.4"/><circle cx="312.9" cy="1282.1" r="12.4"/><circle cx="314.1" cy="1255.0" r="12.4"/><circle cx="315.3" cy="1321.2" r="12.4"/><circle cx="316.5" cy="1229.7" r="12.4"/><circle cx="317.7" cy="1329.2" r="12.4"/><circle cx="318.9" cy="1328.2" r="12.4"/><circle cx="320.1" cy="1294.4" r="12.4"/><circle cx="321.3" cy="1280.2" r="12.4"/><circle cx="322.5" cy="1262.8" r="12.4"/><circle cx="323.6" cy="1434.9" r="12.4"/><circle cx="324.8" cy="1273.6" r="12.4"/><circle cx="326.0" cy="1426.8" r="12.4"/><circle cx="327.2" cy="1384.6" r="12.4"/><circle cx="328.4" cy="1330.0" r="12.4"/><circle cx="329.6" cy="1283.8" r="12.4"/><circle cx="330.8" cy="1395.7" r="12.4"/><circle cx="332.0" cy="1421.0" r="12.4"/><circle cx="333.2" cy="1285.6" r="12.4"/><circle cx="334.3" cy="1317.0" r="12.4"/><circle cx="335.5" cy="1392.3" r="12.4"/><circle cx="336.7" cy="1359.5" r="12.4"/><circle cx="337.9" cy="1441.9" r="12.4"/><circle cx="339.1" cy="1317.5" r="12.4"/><circle cx="340.3" cy="1380.5" r="12.4"/><circle cx="341.5" cy="1288.5" r="12.4"/><circle cx="342.7" cy="1476.1" r="12.4"/><circle cx="343.9" cy="1323.9" r="12.4"/><circle cx="345.0" cy="1248.5" r="12.4"/><circle cx="346.2" cy="1364.0" r="12.4"/><circle cx="347.4" cy="1363.3" r="12.4"/><circle cx="348.6" cy="1492.8" r="12.4"/><circle cx="349.8" cy="1352.0" r="12.4"/><circle cx="351.0" cy="1369.1" r="12.4"/><circle cx="352.2" cy="1399.0" r="12.4"/><circle cx="353.4" cy="1446.3" r="12.4"/><circle cx="354.5" cy="1367.6" r="12.4"/><circle cx="355.7" cy="1415.2" r="12.4"/><circle cx="356.9" cy="1395.9" r="12.4"/><circle cx="358.1" cy="1356.2" r="12.4"/><circle cx="359.3" cy="1376.4" r="12.4"/><circle cx="360.5" cy="1374.8" r="12.4"/><circle cx="361.7" cy="1324.0" r="12.4"/><circle cx="362.9" cy="1428.3" r="12.4"/><circle cx="364.1" cy="1290.4" r="12.4"/><circle cx="365.2" cy="1412.2" r="12.4"/><circle cx="366.4" cy="1402.0" r="12.4"/><circle cx="367.6" cy="1347.1" r="12.4"/><circle cx="368.8" cy="1302.4" r="12.4"/><circle cx="370.0" cy="1328.0" r="12.4"/><circle cx="371.2" cy="1360.6" r="12.4"/><circle cx="372.4" cy="1369.8" r="12.4"/><circle cx="373.6" cy="1342.7" r="12.4"/><circle cx="374.8" cy="1379.1" r="12.4"/><circle cx="375.9" cy="1297.0" r="12.4"/><circle cx="377.1" cy="1345.0" r="12.4"/><circle cx="378.3" cy="1248.7" r="12.4"/><circle cx="379.5" cy="1375.7" r="12.4"/><circle cx="380.7" cy="1346.8" r="12.4"/><circle cx="381.9" cy="1315.8" r="12.4"/><circle cx="383.1" cy="1400.0" r="12.4"/><circle cx="384.3" cy="1374.7" r="12.4"/><circle cx="385.5" cy="1194.9" r="12.4"/><circle cx="386.6" cy="1332.2" r="12.4"/><circle cx="387.8" cy="1248.0" r="12.4"/><circle cx="389.0" cy="1378.8" r="12.4"/><circle cx="390.2" cy="1443.0" r="12.4"/><circle cx="391.4" cy="1293.6" r="12.4"/><circle cx="392.6" cy="1331.1" r="12.4"/><circle cx="393.8" cy="1316.4" r="12.4"/><circle cx="395.0" cy="1352.9" r="12.4"/><circle cx="396.1" cy="1372.4" r="12.4"/><circle cx="397.3" cy="1403.4" r="12.4"/><circle cx="398.5" cy="1283.3" r="12.4"/><circle cx="399.7" cy="1410.5" r="12.4"/><circle cx="400.9" cy="1278.8" r="12.4"/><circle cx="402.1" cy="1342.3" r="12.4"/><circle cx="403.3" cy="1384.2" r="12.4"/><circle cx="404.5" cy="1357.2" r="12.4"/><circle cx="405.7" cy="1263.1" r="12.4"/><circle cx="406.8" cy="1275.9" r="12.4"/><circle cx="408.0" cy="1292.0" r="12.4"/><circle cx="409.2" cy="1320.6" r="12.4"/><circle cx="410.4" cy="1387.1" r="12.4"/><circle cx="411.6" cy="1260.5" r="12.4"/><circle cx="412.8" cy="1360.0" r="12.4"/><circle cx="414.0" cy="1371.0" r="12.4"/><circle cx="415.2" cy="1372.9" r="12.4"/><circle cx="416.4" cy="1372.2" r="12.4"/><circle cx="417.5" cy="1425.3" r="12.4"/><circle cx="418.7" cy="1377.7" r="12.4"/><circle cx="419.9" cy="1394.4" r="12.4"/><circle cx="421.1" cy="1377.9" r="12.4"/><circle cx="422.3" cy="1438.7" r="12.4"/><circle cx="423.5" cy="1244.5" r="12.4"/><circle cx="424.7" cy="1406.8" r="12.4"/><circle cx="425.9" cy="1327.4" r="12.4"/><circle cx="427.1" cy="1325.1" r="12.4"/><circle cx="428.2" cy="1286.2" r="12.4"/><circle cx="429.4" cy="1237.5" r="12.4"/><circle cx="430.6" cy="1314.1" r="12.4"/><circle cx="431.8" cy="1294.6" r="12.4"/><circle cx="433.0" cy="1361.2" r="12.4"/><circle cx="434.2" cy="1256.7" r="12.4"/><circle cx="435.4" cy="1408.8" r="12.4"/><circle cx="436.6" cy="1355.5" r="12.4"/><circle cx="437.7" cy="1329.4" r="12.4"/><circle cx="438.9" cy="1305.6" r="12.4"/><circle cx="440.1" cy="1301.4" r="12.4"/><circle cx="441.3" cy="1285.1" r="12.4"/><circle cx="442.5" cy="1316.3" r="12.4"/><circle cx="443.7" cy="1348.0" r="12.4"/><circle cx="444.9" cy="1339.7" r="12.4"/><circle cx="446.1" cy="1270.8" r="12.4"/><circle cx="447.3" cy="1334.8" r="12.4"/><circle cx="448.4" cy="1298.5" r="12.4"/><circle cx="449.6" cy="1357.8" r="12.4"/><circle cx="450.8" cy="1439.8" r="12.4"/><circle cx="452.0" cy="1385.9" r="12.4"/><circle cx="453.2" cy="1342.8" r="12.4"/><circle cx="454.4" cy="1274.5" r="12.4"/><circle cx="455.6" cy="1290.1" r="12.4"/><circle cx="456.8" cy="1279.2" r="12.4"/><circle cx="458.0" cy="1407.1" r="12.4"/><circle cx="459.1" cy="1339.5" r="12.4"/><circle cx="460.3" cy="1382.0" r="12.4"/><circle cx="461.5" cy="1340.3" r="12.4"/><circle cx="462.7" cy="1369.0" r="12.4"/><circle cx="463.9" cy="1423.8" r="12.4"/><circle cx="465.1" cy="1312.6" r="12.4"/><circle cx="466.3" cy="1324.7" r="12.4"/><circle cx="467.5" cy="1291.3" r="12.4"/><circle cx="468.7" cy="1375.5" r="12.4"/><circle cx="469.8" cy="1268.1" r="12.4"/><circle cx="471.0" cy="1260.7" r="12.4"/><circle cx="472.2" cy="1246.8" r="12.4"/><circle cx="473.4" cy="1244.9" r="12.4"/><circle cx="474.6" cy="1344.2" r="12.4"/><circle cx="475.8" cy="1445.2" r="12.4"/><circle cx="477.0" cy="1259.5" r="12.4"/><circle cx="478.2" cy="1364.7" r="12.4"/><circle cx="479.4" cy="1324.4" r="12.4"/><circle cx="480.5" cy="1249.9" r="12.4"/><circle cx="481.7" cy="1293.3" r="12.4"/><circle cx="482.9" cy="1296.7" r="12.4"/><circle cx="484.1" cy="1274.6" r="12.4"/><circle cx="485.3" cy="1410.2" r="12.4"/><circle cx="486.5" cy="1217.4" r="12.4"/><circle cx="487.7" cy="1338.5" r="12.4"/><circle cx="488.9" cy="1336.4" r="12.4"/><circle cx="490.0" cy="1287.2" r="12.4"/><circle cx="491.2" cy="1329.5" r="12.4"/><circle cx="492.4" cy="1371.2" r="12.4"/><circle cx="493.6" cy="1338.2" r="12.4"/><circle cx="494.8" cy="1353.3" r="12.4"/><circle cx="496.0" cy="1370.9" r="12.4"/><circle cx="497.2" cy="1230.8" r="12.4"/><circle cx="498.4" cy="1411.2" r="12.4"/><circle cx="499.6" cy="1462.8" r="12.4"/><circle cx="500.7" cy="1396.6" r="12.4"/><circle cx="501.9" cy="1400.7" r="12.4"/><circle cx="503.1" cy="1278.4" r="12.4"/><circle cx="504.3" cy="1350.5" r="12.4"/><circle cx="505.5" cy="1305.5" r="12.4"/><circle cx="506.7" cy="1311.5" r="12.4"/><circle cx="507.9" cy="1388.2" r="12.4"/><circle cx="509.1" cy="1288.8" r="12.4"/><circle cx="510.3" cy="1319.3" r="12.4"/><circle cx="511.4" cy="1221.8" r="12.4"/><circle cx="512.6" cy="1302.9" r="12.4"/><circle cx="513.8" cy="1310.8" r="12.4"/><circle cx="515.0" cy="1262.0" r="12.4"/><circle cx="516.2" cy="1257.8" r="12.4"/><circle cx="517.4" cy="1398.3" r="12.4"/><circle cx="518.6" cy="1240.0" r="12.4"/><circle cx="519.8" cy="1251.3" r="12.4"/><circle cx="521.0" cy="1267.2" r="12.4"/><circle cx="522.1" cy="1378.1" r="12.4"/><circle cx="523.3" cy="1417.4" r="12.4"/><circle cx="524.5" cy="1333.7" r="12.4"/><circle cx="525.7" cy="1274.7" r="12.4"/><circle cx="526.9" cy="1289.4" r="12.4"/><circle cx="528.1" cy="1367.9" r="12.4"/><circle cx="529.3" cy="1259.6" r="12.4"/><circle cx="530.5" cy="1385.1" r="12.4"/><circle cx="531.6" cy="1383.2" r="12.4"/><circle cx="532.8" cy="1313.0" r="12.4"/><circle cx="534.0" cy="1350.6" r="12.4"/><circle cx="535.2" cy="1362.2" r="12.4"/><circle cx="536.4" cy="1404.4" r="12.4"/><circle cx="537.6" cy="1275.6" r="12.4"/><circle cx="538.8" cy="1397.6" r="12.4"/><circle cx="540.0" cy="1323.8" r="12.4"/><circle cx="541.2" cy="1307.1" r="12.4"/><circle cx="542.3" cy="1353.9" r="12.4"/><circle cx="543.5" cy="1335.7" r="12.4"/><circle cx="544.7" cy="1289.5" r="12.4"/><circle cx="545.9" cy="1253.7" r="12.4"/><circle cx="547.1" cy="1286.0" r="12.4"/><circle cx="548.3" cy="1405.4" r="12.4"/><circle cx="549.5" cy="1429.8" r="12.4"/><circle cx="550.7" cy="1363.0" r="12.4"/><circle cx="551.9" cy="1390.8" r="12.4"/><circle cx="553.0" cy="1301.7" r="12.4"/><circle cx="554.2" cy="1329.1" r="12.4"/><circle cx="555.4" cy="1351.6" r="12.4"/><circle cx="556.6" cy="1280.0" r="12.4"/><circle cx="557.8" cy="1287.0" r="12.4"/><circle cx="559.0" cy="1348.8" r="12.4"/><circle cx="560.2" cy="1327.3" r="12.4"/><circle cx="561.4" cy="1285.8" r="12.4"/><circle cx="562.6" cy="1362.3" r="12.4"/><circle cx="563.7" cy="1324.6" r="12.4"/><circle cx="564.9" cy="1389.5" r="12.4"/><circle cx="566.1" cy="1335.9" r="12.4"/><circle cx="567.3" cy="1315.5" r="12.4"/><circle cx="568.5" cy="1339.4" r="12.4"/><circle cx="569.7" cy="1320.9" r="12.4"/><circle cx="570.9" cy="1294.7" r="12.4"/><circle cx="572.1" cy="1312.5" r="12.4"/><circle cx="573.2" cy="1377.6" r="12.4"/><circle cx="574.4" cy="1375.3" r="12.4"/><circle cx="575.6" cy="1406.5" r="12.4"/><circle cx="576.8" cy="1251.9" r="12.4"/><circle cx="578.0" cy="1314.3" r="12.4"/><circle cx="579.2" cy="1306.2" r="12.4"/><circle cx="580.4" cy="1333.2" r="12.4"/><circle cx="581.6" cy="1291.1" r="12.4"/><circle cx="582.8" cy="1281.9" r="12.4"/><circle cx="583.9" cy="1346.9" r="12.4"/><circle cx="585.1" cy="1304.8" r="12.4"/><circle cx="586.3" cy="1230.1" r="12.4"/><circle cx="587.5" cy="1355.1" r="12.4"/><circle cx="588.7" cy="1335.9" r="12.4"/><circle cx="589.9" cy="1250.3" r="12.4"/><circle cx="591.1" cy="1326.1" r="12.4"/><circle cx="592.3" cy="1244.0" r="12.4"/><circle cx="593.5" cy="1344.9" r="12.4"/><circle cx="594.6" cy="1271.1" r="12.4"/><circle cx="595.8" cy="1241.3" r="12.4"/><circle cx="597.0" cy="1263.1" r="12.4"/><circle cx="598.2" cy="1245.1" r="12.4"/><circle cx="599.4" cy="1294.6" r="12.4"/><circle cx="600.6" cy="1294.0" r="12.4"/><circle cx="601.8" cy="1288.2" r="12.4"/><circle cx="603.0" cy="1255.8" r="12.4"/><circle cx="604.2" cy="1153.4" r="12.4"/><circle cx="605.3" cy="1291.5" r="12.4"/><circle cx="606.5" cy="1197.5" r="12.4"/><circle cx="607.7" cy="1300.4" r="12.4"/><circle cx="608.9" cy="1350.3" r="12.4"/><circle cx="610.1" cy="1302.8" r="12.4"/><circle cx="611.3" cy="1268.8" r="12.4"/><circle cx="612.5" cy="1280.9" r="12.4"/><circle cx="613.7" cy="1284.4" r="12.4"/><circle cx="614.9" cy="1261.6" r="12.4"/><circle cx="616.0" cy="1259.9" r="12.4"/><circle cx="617.2" cy="1246.3" r="12.4"/><circle cx="618.4" cy="1360.7" r="12.4"/><circle cx="619.6" cy="1296.9" r="12.4"/><circle cx="620.8" cy="1352.8" r="12.4"/><circle cx="622.0" cy="1290.2" r="12.4"/><circle cx="623.2" cy="1308.8" r="12.4"/><circle cx="624.4" cy="1297.5" r="12.4"/><circle cx="625.5" cy="1337.0" r="12.4"/><circle cx="626.7" cy="1358.0" r="12.4"/><circle cx="627.9" cy="1326.2" r="12.4"/><circle cx="629.1" cy="1271.9" r="12.4"/><circle cx="630.3" cy="1260.4" r="12.4"/><circle cx="631.5" cy="1385.7" r="12.4"/><circle cx="632.7" cy="1277.5" r="12.4"/><circle cx="633.9" cy="1271.8" r="12.4"/><circle cx="635.1" cy="1362.0" r="12.4"/><circle cx="636.2" cy="1337.7" r="12.4"/><circle cx="637.4" cy="1299.4" r="12.4"/><circle cx="638.6" cy="1246.7" r="12.4"/><circle cx="639.8" cy="1388.8" r="12.4"/><circle cx="641.0" cy="1286.0" r="12.4"/><circle cx="642.2" cy="1292.9" r="12.4"/><circle cx="643.4" cy="1255.7" r="12.4"/><circle cx="644.6" cy="1199.8" r="12.4"/><circle cx="645.8" cy="1201.9" r="12.4"/><circle cx="646.9" cy="1288.3" r="12.4"/><circle cx="648.1" cy="1287.9" r="12.4"/><circle cx="649.3" cy="1253.9" r="12.4"/><circle cx="650.5" cy="1208.6" r="12.4"/><circle cx="651.7" cy="1200.3" r="12.4"/><circle cx="652.9" cy="1250.3" r="12.4"/><circle cx="654.1" cy="1200.5" r="12.4"/><circle cx="655.3" cy="1317.8" r="12.4"/><circle cx="656.5" cy="1333.5" r="12.4"/><circle cx="657.6" cy="1413.0" r="12.4"/><circle cx="658.8" cy="1319.9" r="12.4"/><circle cx="660.0" cy="1241.7" r="12.4"/><circle cx="661.2" cy="1229.8" r="12.4"/><circle cx="662.4" cy="1138.8" r="12.4"/><circle cx="663.6" cy="1245.0" r="12.4"/><circle cx="664.8" cy="1265.9" r="12.4"/><circle cx="666.0" cy="1331.3" r="12.4"/><circle cx="667.1" cy="1314.1" r="12.4"/><circle cx="668.3" cy="1315.2" r="12.4"/><circle cx="669.5" cy="1297.2" r="12.4"/><circle cx="670.7" cy="1325.7" r="12.4"/><circle cx="671.9" cy="1370.2" r="12.4"/><circle cx="673.1" cy="1239.1" r="12.4"/><circle cx="674.3" cy="1274.3" r="12.4"/><circle cx="675.5" cy="1229.9" r="12.4"/><circle cx="676.7" cy="1389.8" r="12.4"/><circle cx="677.8" cy="1373.8" r="12.4"/><circle cx="679.0" cy="1345.4" r="12.4"/><circle cx="680.2" cy="1238.7" r="12.4"/><circle cx="681.4" cy="1309.8" r="12.4"/><circle cx="682.6" cy="1288.7" r="12.4"/><circle cx="683.8" cy="1303.0" r="12.4"/><circle cx="685.0" cy="1289.6" r="12.4"/><circle cx="686.2" cy="1326.8" r="12.4"/><circle cx="687.4" cy="1276.4" r="12.4"/><circle cx="688.5" cy="1345.5" r="12.4"/><circle cx="689.7" cy="1308.8" r="12.4"/><circle cx="690.9" cy="1280.5" r="12.4"/><circle cx="692.1" cy="1289.9" r="12.4"/><circle cx="693.3" cy="1271.2" r="12.4"/><circle cx="694.5" cy="1340.4" r="12.4"/><circle cx="695.7" cy="1279.2" r="12.4"/><circle cx="696.9" cy="1308.3" r="12.4"/><circle cx="698.1" cy="1271.9" r="12.4"/><circle cx="699.2" cy="1218.1" r="12.4"/><circle cx="700.4" cy="1341.9" r="12.4"/><circle cx="701.6" cy="1234.9" r="12.4"/><circle cx="702.8" cy="1324.0" r="12.4"/><circle cx="704.0" cy="1306.8" r="12.4"/><circle cx="705.2" cy="1201.7" r="12.4"/><circle cx="706.4" cy="1233.5" r="12.4"/><circle cx="707.6" cy="1251.7" r="12.4"/><circle cx="708.7" cy="1235.1" r="12.4"/><circle cx="709.9" cy="1216.4" r="12.4"/><circle cx="711.1" cy="1311.7" r="12.4"/><circle cx="712.3" cy="1257.2" r="12.4"/><circle cx="713.5" cy="1289.5" r="12.4"/><circle cx="714.7" cy="1247.8" r="12.4"/><circle cx="715.9" cy="1290.2" r="12.4"/><circle cx="717.1" cy="1238.4" r="12.4"/><circle cx="718.3" cy="1278.9" r="12.4"/><circle cx="719.4" cy="1314.6" r="12.4"/><circle cx="720.6" cy="1289.8" r="12.4"/><circle cx="721.8" cy="1265.3" r="12.4"/><circle cx="723.0" cy="1237.3" r="12.4"/><circle cx="724.2" cy="1301.1" r="12.4"/><circle cx="725.4" cy="1309.9" r="12.4"/><circle cx="726.6" cy="1277.2" r="12.4"/><circle cx="727.8" cy="1249.5" r="12.4"/><circle cx="729.0" cy="1319.3" r="12.4"/><circle cx="730.1" cy="1411.9" r="12.4"/><circle cx="731.3" cy="1270.5" r="12.4"/><circle cx="732.5" cy="1302.6" r="12.4"/><circle cx="733.7" cy="1303.8" r="12.4"/><circle cx="734.9" cy="1176.2" r="12.4"/><circle cx="736.1" cy="1290.0" r="12.4"/><circle cx="737.3" cy="1245.7" r="12.4"/><circle cx="738.5" cy="1358.1" r="12.4"/><circle cx="739.7" cy="1269.0" r="12.4"/><circle cx="740.8" cy="1243.9" r="12.4"/><circle cx="742.0" cy="1273.0" r="12.4"/><circle cx="743.2" cy="1293.0" r="12.4"/><circle cx="744.4" cy="1255.5" r="12.4"/><circle cx="745.6" cy="1283.8" r="12.4"/><circle cx="746.8" cy="1220.2" r="12.4"/><circle cx="748.0" cy="1275.3" r="12.4"/><circle cx="749.2" cy="1329.7" r="12.4"/><circle cx="750.3" cy="1390.3" r="12.4"/><circle cx="751.5" cy="1323.0" r="12.4"/><circle cx="752.7" cy="1295.4" r="12.4"/><circle cx="753.9" cy="1346.4" r="12.4"/><circle cx="755.1" cy="1335.6" r="12.4"/><circle cx="756.3" cy="1366.7" r="12.4"/><circle cx="757.5" cy="1335.5" r="12.4"/><circle cx="758.7" cy="1267.3" r="12.4"/><circle cx="759.9" cy="1286.3" r="12.4"/><circle cx="761.0" cy="1280.3" r="12.4"/><circle cx="762.2" cy="1285.3" r="12.4"/><circle cx="763.4" cy="1278.0" r="12.4"/><circle cx="764.6" cy="1227.8" r="12.4"/><circle cx="765.8" cy="1179.8" r="12.4"/><circle cx="767.0" cy="1228.9" r="12.4"/><circle cx="768.2" cy="1181.7" r="12.4"/><circle cx="769.4" cy="1261.5" r="12.4"/><circle cx="770.6" cy="1260.2" r="12.4"/><circle cx="771.7" cy="1191.1" r="12.4"/><circle cx="772.9" cy="1305.1" r="12.4"/><circle cx="774.1" cy="1321.2" r="12.4"/><circle cx="775.3" cy="1282.9" r="12.4"/><circle cx="776.5" cy="1371.6" r="12.4"/><circle cx="777.7" cy="1385.5" r="12.4"/><circle cx="778.9" cy="1229.0" r="12.4"/><circle cx="780.1" cy="1351.3" r="12.4"/><circle cx="781.3" cy="1323.7" r="12.4"/><circle cx="782.4" cy="1325.8" r="12.4"/><circle cx="783.6" cy="1358.5" r="12.4"/><circle cx="784.8" cy="1273.6" r="12.4"/><circle cx="786.0" cy="1284.8" r="12.4"/><circle cx="787.2" cy="1265.8" r="12.4"/><circle cx="788.4" cy="1263.6" r="12.4"/><circle cx="789.6" cy="1292.2" r="12.4"/><circle cx="790.8" cy="1220.8" r="12.4"/><circle cx="792.0" cy="1233.8" r="12.4"/><circle cx="793.1" cy="1311.4" r="12.4"/><circle cx="794.3" cy="1271.3" r="12.4"/><circle cx="795.5" cy="1290.5" r="12.4"/><circle cx="796.7" cy="1190.0" r="12.4"/><circle cx="797.9" cy="1236.4" r="12.4"/><circle cx="799.1" cy="1250.1" r="12.4"/><circle cx="800.3" cy="1284.9" r="12.4"/><circle cx="801.5" cy="1254.2" r="12.4"/><circle cx="802.6" cy="1339.9" r="12.4"/><circle cx="803.8" cy="1280.8" r="12.4"/><circle cx="805.0" cy="1281.5" r="12.4"/><circle cx="806.2" cy="1278.2" r="12.4"/><circle cx="807.4" cy="1311.2" r="12.4"/><circle cx="808.6" cy="1246.6" r="12.4"/><circle cx="809.8" cy="1327.7" r="12.4"/><circle cx="811.0" cy="1289.1" r="12.4"/><circle cx="812.2" cy="1271.4" r="12.4"/><circle cx="813.3" cy="1268.3" r="12.4"/><circle cx="814.5" cy="1296.4" r="12.4"/><circle cx="815.7" cy="1327.9" r="12.4"/><circle cx="816.9" cy="1327.5" r="12.4"/><circle cx="818.1" cy="1298.7" r="12.4"/><circle cx="819.3" cy="1331.2" r="12.4"/><circle cx="820.5" cy="1291.7" r="12.4"/><circle cx="821.7" cy="1355.7" r="12.4"/><circle cx="822.9" cy="1286.1" r="12.4"/><circle cx="824.0" cy="1191.4" r="12.4"/><circle cx="825.2" cy="1358.9" r="12.4"/><circle cx="826.4" cy="1290.6" r="12.4"/><circle cx="827.6" cy="1227.0" r="12.4"/><circle cx="828.8" cy="1273.9" r="12.4"/><circle cx="830.0" cy="1238.0" r="12.4"/><circle cx="831.2" cy="1394.7" r="12.4"/><circle cx="832.4" cy="1308.6" r="12.4"/><circle cx="833.6" cy="1204.0" r="12.4"/><circle cx="834.7" cy="1308.1" r="12.4"/><circle cx="835.9" cy="1254.4" r="12.4"/><circle cx="837.1" cy="1375.9" r="12.4"/><circle cx="838.3" cy="1218.4" r="12.4"/><circle cx="839.5" cy="1174.6" r="12.4"/><circle cx="840.7" cy="1265.2" r="12.4"/><circle cx="841.9" cy="1240.8" r="12.4"/><circle cx="843.1" cy="1241.1" r="12.4"/><circle cx="844.2" cy="1186.3" r="12.4"/><circle cx="845.4" cy="1296.3" r="12.4"/><circle cx="846.6" cy="1370.5" r="12.4"/><circle cx="847.8" cy="1196.1" r="12.4"/><circle cx="849.0" cy="1356.9" r="12.4"/><circle cx="850.2" cy="1268.5" r="12.4"/><circle cx="851.4" cy="1422.3" r="12.4"/><circle cx="852.6" cy="1337.4" r="12.4"/><circle cx="853.8" cy="1304.6" r="12.4"/><circle cx="854.9" cy="1378.6" r="12.4"/><circle cx="856.1" cy="1351.9" r="12.4"/><circle cx="857.3" cy="1294.2" r="12.4"/><circle cx="858.5" cy="1368.3" r="12.4"/><circle cx="859.7" cy="1306.1" r="12.4"/><circle cx="860.9" cy="1243.1" r="12.4"/><circle cx="862.1" cy="1440.9" r="12.4"/><circle cx="863.3" cy="1326.7" r="12.4"/><circle cx="864.5" cy="1315.8" r="12.4"/><circle cx="865.6" cy="1370.4" r="12.4"/><circle cx="866.8" cy="1272.7" r="12.4"/><circle cx="868.0" cy="1287.6" r="12.4"/><circle cx="869.2" cy="1336.9" r="12.4"/><circle cx="870.4" cy="1330.8" r="12.4"/><circle cx="871.6" cy="1359.2" r="12.4"/><circle cx="872.8" cy="1405.8" r="12.4"/><circle cx="874.0" cy="1322.3" r="12.4"/><circle cx="875.2" cy="1369.5" r="12.4"/><circle cx="876.3" cy="1372.1" r="12.4"/><circle cx="877.5" cy="1277.5" r="12.4"/><circle cx="878.7" cy="1346.6" r="12.4"/><circle cx="879.9" cy="1277.8" r="12.4"/><circle cx="881.1" cy="1381.8" r="12.4"/><circle cx="882.3" cy="1347.3" r="12.4"/><circle cx="883.5" cy="1318.6" r="12.4"/><circle cx="884.7" cy="1242.7" r="12.4"/><circle cx="885.8" cy="1315.3" r="12.4"/><circle cx="887.0" cy="1264.1" r="12.4"/><circle cx="888.2" cy="1346.5" r="12.4"/><circle cx="889.4" cy="1302.4" r="12.4"/><circle cx="890.6" cy="1270.1" r="12.4"/><circle cx="891.8" cy="1367.8" r="12.4"/><circle cx="893.0" cy="1361.4" r="12.4"/><circle cx="894.2" cy="1292.8" r="12.4"/><circle cx="895.4" cy="1391.1" r="12.4"/><circle cx="896.5" cy="1318.3" r="12.4"/><circle cx="897.7" cy="1321.9" r="12.4"/><circle cx="898.9" cy="1349.2" r="12.4"/><circle cx="900.1" cy="1296.0" r="12.4"/><circle cx="901.3" cy="1307.4" r="12.4"/><circle cx="902.5" cy="1317.6" r="12.4"/><circle cx="903.7" cy="1398.6" r="12.4"/><circle cx="904.9" cy="1393.6" r="12.4"/><circle cx="906.1" cy="1293.0" r="12.4"/><circle cx="907.2" cy="1387.3" r="12.4"/><circle cx="908.4" cy="1292.5" r="12.4"/><circle cx="909.6" cy="1309.6" r="12.4"/><circle cx="910.8" cy="1332.4" r="12.4"/><circle cx="912.0" cy="1292.4" r="12.4"/><circle cx="913.2" cy="1397.9" r="12.4"/><circle cx="914.4" cy="1288.1" r="12.4"/><circle cx="915.6" cy="1218.6" r="12.4"/><circle cx="916.8" cy="1350.2" r="12.4"/><circle cx="917.9" cy="1259.4" r="12.4"/><circle cx="919.1" cy="1268.0" r="12.4"/><circle cx="920.3" cy="1164.1" r="12.4"/><circle cx="921.5" cy="1345.9" r="12.4"/><circle cx="922.7" cy="1338.0" r="12.4"/><circle cx="923.9" cy="1333.0" r="12.4"/><circle cx="925.1" cy="1341.1" r="12.4"/><circle cx="926.3" cy="1375.0" r="12.4"/><circle cx="927.5" cy="1278.3" r="12.4"/><circle cx="928.6" cy="1328.5" r="12.4"/><circle cx="929.8" cy="1236.9" r="12.4"/><circle cx="931.0" cy="1253.5" r="12.4"/><circle cx="932.2" cy="1326.3" r="12.4"/><circle cx="933.4" cy="1288.1" r="12.4"/><circle cx="934.6" cy="1201.2" r="12.4"/><circle cx="935.8" cy="1280.6" r="12.4"/><circle cx="937.0" cy="1248.8" r="12.4"/><circle cx="938.1" cy="1216.6" r="12.4"/><circle cx="939.3" cy="1281.7" r="12.4"/><circle cx="940.5" cy="1247.7" r="12.4"/><circle cx="941.7" cy="1202.4" r="12.4"/><circle cx="942.9" cy="1233.6" r="12.4"/><circle cx="944.1" cy="1393.9" r="12.4"/><circle cx="945.3" cy="1232.6" r="12.4"/><circle cx="946.5" cy="1335.2" r="12.4"/><circle cx="947.7" cy="1365.4" r="12.4"/><circle cx="948.8" cy="1376.7" r="12.4"/><circle cx="950.0" cy="1287.3" r="12.4"/><circle cx="951.2" cy="1339.3" r="12.4"/><circle cx="952.4" cy="1358.4" r="12.4"/><circle cx="953.6" cy="1388.0" r="12.4"/><circle cx="954.8" cy="1306.3" r="12.4"/><circle cx="956.0" cy="1275.0" r="12.4"/><circle cx="957.2" cy="1386.7" r="12.4"/><circle cx="958.4" cy="1387.5" r="12.4"/><circle cx="959.5" cy="1347.2" r="12.4"/><circle cx="960.7" cy="1293.1" r="12.4"/><circle cx="961.9" cy="1352.1" r="12.4"/><circle cx="963.1" cy="1341.3" r="12.4"/><circle cx="964.3" cy="1380.9" r="12.4"/><circle cx="965.5" cy="1272.4" r="12.4"/><circle cx="966.7" cy="1349.8" r="12.4"/><circle cx="967.9" cy="1325.9" r="12.4"/><circle cx="969.1" cy="1265.6" r="12.4"/><circle cx="970.2" cy="1328.7" r="12.4"/><circle cx="971.4" cy="1309.0" r="12.4"/><circle cx="972.6" cy="1276.7" r="12.4"/><circle cx="973.8" cy="1310.5" r="12.4"/><circle cx="975.0" cy="1209.6" r="12.4"/><circle cx="976.2" cy="1268.9" r="12.4"/><circle cx="977.4" cy="1286.8" r="12.4"/><circle cx="978.6" cy="1272.0" r="12.4"/><circle cx="979.7" cy="1322.7" r="12.4"/><circle cx="980.9" cy="1211.2" r="12.4"/><circle cx="982.1" cy="1203.6" r="12.4"/><circle cx="983.3" cy="1297.7" r="12.4"/><circle cx="984.5" cy="1319.1" r="12.4"/><circle cx="985.7" cy="1408.5" r="12.4"/><circle cx="986.9" cy="1343.6" r="12.4"/><circle cx="988.1" cy="1268.4" r="12.4"/><circle cx="989.3" cy="1366.9" r="12.4"/><circle cx="990.4" cy="1281.2" r="12.4"/><circle cx="991.6" cy="1242.9" r="12.4"/><circle cx="992.8" cy="1448.6" r="12.4"/><circle cx="994.0" cy="1328.7" r="12.4"/><circle cx="995.2" cy="1346.0" r="12.4"/><circle cx="996.4" cy="1330.7" r="12.4"/><circle cx="997.6" cy="1390.6" r="12.4"/><circle cx="998.8" cy="1303.1" r="12.4"/><circle cx="1000.0" cy="1349.9" r="12.4"/><circle cx="1001.1" cy="1228.0" r="12.4"/><circle cx="1002.3" cy="1206.4" r="12.4"/><circle cx="1003.5" cy="1349.7" r="12.4"/><circle cx="1004.7" cy="1349.5" r="12.4"/><circle cx="1005.9" cy="1292.7" r="12.4"/><circle cx="1007.1" cy="1275.8" r="12.4"/><circle cx="1008.3" cy="1269.2" r="12.4"/><circle cx="1009.5" cy="1226.4" r="12.4"/><circle cx="1010.7" cy="1340.7" r="12.4"/><circle cx="1011.8" cy="1289.1" r="12.4"/><circle cx="1013.0" cy="1277.8" r="12.4"/><circle cx="1014.2" cy="1272.8" r="12.4"/><circle cx="1015.4" cy="1312.0" r="12.4"/><circle cx="1016.6" cy="1287.4" r="12.4"/><circle cx="1017.8" cy="1302.3" r="12.4"/><circle cx="1019.0" cy="1209.4" r="12.4"/><circle cx="1020.2" cy="1297.4" r="12.4"/><circle cx="1021.3" cy="1391.6" r="12.4"/><circle cx="1022.5" cy="1251.4" r="12.4"/><circle cx="1023.7" cy="1275.6" r="12.4"/><circle cx="1024.9" cy="1336.0" r="12.4"/><circle cx="1026.1" cy="1343.2" r="12.4"/><circle cx="1027.3" cy="1327.9" r="12.4"/><circle cx="1028.5" cy="1209.2" r="12.4"/><circle cx="1029.7" cy="1315.6" r="12.4"/><circle cx="1030.9" cy="1227.6" r="12.4"/><circle cx="1032.0" cy="1240.7" r="12.4"/><circle cx="1033.2" cy="1310.0" r="12.4"/><circle cx="1034.4" cy="1262.3" r="12.4"/><circle cx="1035.6" cy="1320.8" r="12.4"/><circle cx="1036.8" cy="1436.2" r="12.4"/><circle cx="1038.0" cy="1312.4" r="12.4"/><circle cx="1039.2" cy="1306.5" r="12.4"/><circle cx="1040.4" cy="1222.9" r="12.4"/><circle cx="1041.6" cy="1233.4" r="12.4"/><circle cx="1042.7" cy="1215.6" r="12.4"/><circle cx="1043.9" cy="1244.6" r="12.4"/><circle cx="1045.1" cy="1221.5" r="12.4"/><circle cx="1046.3" cy="1244.7" r="12.4"/><circle cx="1047.5" cy="1269.9" r="12.4"/><circle cx="1048.7" cy="1234.1" r="12.4"/><circle cx="1049.9" cy="1217.9" r="12.4"/><circle cx="1051.1" cy="1223.6" r="12.4"/><circle cx="1052.3" cy="1321.0" r="12.4"/><circle cx="1053.4" cy="1301.0" r="12.4"/><circle cx="1054.6" cy="1358.3" r="12.4"/><circle cx="1055.8" cy="1361.1" r="12.4"/><circle cx="1057.0" cy="1287.4" r="12.4"/><circle cx="1058.2" cy="1344.0" r="12.4"/><circle cx="1059.4" cy="1233.3" r="12.4"/><circle cx="1060.6" cy="1419.6" r="12.4"/><circle cx="1061.8" cy="1373.1" r="12.4"/><circle cx="1063.0" cy="1296.8" r="12.4"/><circle cx="1064.1" cy="1248.6" r="12.4"/><circle cx="1065.3" cy="1332.7" r="12.4"/><circle cx="1066.5" cy="1216.9" r="12.4"/><circle cx="1067.7" cy="1267.8" r="12.4"/><circle cx="1068.9" cy="1348.2" r="12.4"/><circle cx="1070.1" cy="1306.4" r="12.4"/><circle cx="1071.3" cy="1273.4" r="12.4"/><circle cx="1072.5" cy="1348.5" r="12.4"/><circle cx="1073.6" cy="1238.5" r="12.4"/><circle cx="1074.8" cy="1302.8" r="12.4"/><circle cx="1076.0" cy="1258.1" r="12.4"/><circle cx="1077.2" cy="1238.1" r="12.4"/><circle cx="1078.4" cy="1301.9" r="12.4"/><circle cx="1079.6" cy="1229.2" r="12.4"/><circle cx="1080.8" cy="1383.0" r="12.4"/><circle cx="1082.0" cy="1251.1" r="12.4"/><circle cx="1083.2" cy="1389.0" r="12.4"/><circle cx="1084.3" cy="1229.5" r="12.4"/><circle cx="1085.5" cy="1320.1" r="12.4"/><circle cx="1086.7" cy="1228.2" r="12.4"/><circle cx="1087.9" cy="1222.2" r="12.4"/><circle cx="1089.1" cy="1297.9" r="12.4"/><circle cx="1090.3" cy="1328.8" r="12.4"/><circle cx="1091.5" cy="1226.9" r="12.4"/><circle cx="1092.7" cy="1352.7" r="12.4"/><circle cx="1093.9" cy="1246.0" r="12.4"/><circle cx="1095.0" cy="1291.6" r="12.4"/><circle cx="1096.2" cy="1303.3" r="12.4"/><circle cx="1097.4" cy="1314.4" r="12.4"/><circle cx="1098.6" cy="1195.9" r="12.4"/><circle cx="1099.8" cy="1367.3" r="12.4"/><circle cx="1101.0" cy="1312.1" r="12.4"/><circle cx="1102.2" cy="1261.1" r="12.4"/><circle cx="1103.4" cy="1234.3" r="12.4"/><circle cx="1104.6" cy="1203.4" r="12.4"/><circle cx="1105.7" cy="1222.6" r="12.4"/><circle cx="1106.9" cy="1323.0" r="12.4"/><circle cx="1108.1" cy="1276.2" r="12.4"/><circle cx="1109.3" cy="1237.9" r="12.4"/><circle cx="1110.5" cy="1270.3" r="12.4"/><circle cx="1111.7" cy="1379.9" r="12.4"/><circle cx="1112.9" cy="1267.6" r="12.4"/><circle cx="1114.1" cy="1245.6" r="12.4"/><circle cx="1115.2" cy="1340.1" r="12.4"/><circle cx="1116.4" cy="1286.3" r="12.4"/><circle cx="1117.6" cy="1265.8" r="12.4"/><circle cx="1118.8" cy="1236.0" r="12.4"/><circle cx="1120.0" cy="1197.0" r="12.4"/><circle cx="1121.2" cy="1213.9" r="12.4"/><circle cx="1122.4" cy="1249.7" r="12.4"/><circle cx="1123.6" cy="1265.4" r="12.4"/><circle cx="1124.8" cy="1298.3" r="12.4"/><circle cx="1125.9" cy="1312.2" r="12.4"/><circle cx="1127.1" cy="1296.6" r="12.4"/><circle cx="1128.3" cy="1299.3" r="12.4"/><circle cx="1129.5" cy="1238.6" r="12.4"/><circle cx="1130.7" cy="1194.1" r="12.4"/><circle cx="1131.9" cy="1272.1" r="12.4"/><circle cx="1133.1" cy="1253.6" r="12.4"/><circle cx="1134.3" cy="1274.0" r="12.4"/><circle cx="1135.5" cy="1297.3" r="12.4"/><circle cx="1136.6" cy="1251.6" r="12.4"/><circle cx="1137.8" cy="1262.2" r="12.4"/><circle cx="1139.0" cy="1322.5" r="12.4"/><circle cx="1140.2" cy="1340.2" r="12.4"/><circle cx="1141.4" cy="1299.5" r="12.4"/><circle cx="1142.6" cy="1367.1" r="12.4"/><circle cx="1143.8" cy="1334.9" r="12.4"/><circle cx="1145.0" cy="1293.5" r="12.4"/><circle cx="1146.2" cy="1356.6" r="12.4"/><circle cx="1147.3" cy="1453.6" r="12.4"/><circle cx="1148.5" cy="1326.2" r="12.4"/><circle cx="1149.7" cy="1408.2" r="12.4"/><circle cx="1150.9" cy="1409.9" r="12.4"/><circle cx="1152.1" cy="1407.5" r="12.4"/><circle cx="1153.3" cy="1278.7" r="12.4"/><circle cx="1154.5" cy="1411.6" r="12.4"/><circle cx="1155.7" cy="1308.0" r="12.4"/><circle cx="1156.8" cy="1279.4" r="12.4"/><circle cx="1158.0" cy="1270.3" r="12.4"/><circle cx="1159.2" cy="1304.4" r="12.4"/><circle cx="1160.4" cy="1270.6" r="12.4"/><circle cx="1161.6" cy="1267.1" r="12.4"/><circle cx="1162.8" cy="1354.7" r="12.4"/><circle cx="1164.0" cy="1255.3" r="12.4"/><circle cx="1165.2" cy="1244.1" r="12.4"/><circle cx="1166.4" cy="1338.8" r="12.4"/><circle cx="1167.5" cy="1326.5" r="12.4"/><circle cx="1168.7" cy="1344.4" r="12.4"/><circle cx="1169.9" cy="1225.8" r="12.4"/><circle cx="1171.1" cy="1332.8" r="12.4"/><circle cx="1172.3" cy="1293.4" r="12.4"/><circle cx="1173.5" cy="1359.3" r="12.4"/><circle cx="1174.7" cy="1201.0" r="12.4"/><circle cx="1175.9" cy="1264.8" r="12.4"/><circle cx="1177.1" cy="1235.7" r="12.4"/><circle cx="1178.2" cy="1187.3" r="12.4"/><circle cx="1179.4" cy="1208.0" r="12.4"/><circle cx="1180.6" cy="1301.1" r="12.4"/><circle cx="1181.8" cy="1221.7" r="12.4"/><circle cx="1183.0" cy="1207.4" r="12.4"/><circle cx="1184.2" cy="1288.9" r="12.4"/><circle cx="1185.4" cy="1293.9" r="12.4"/><circle cx="1186.6" cy="1293.5" r="12.4"/><circle cx="1187.8" cy="1206.0" r="12.4"/><circle cx="1188.9" cy="1244.3" r="12.4"/><circle cx="1190.1" cy="1305.7" r="12.4"/><circle cx="1191.3" cy="1226.1" r="12.4"/><circle cx="1192.5" cy="1226.5" r="12.4"/><circle cx="1193.7" cy="1310.8" r="12.4"/><circle cx="1194.9" cy="1357.7" r="12.4"/><circle cx="1196.1" cy="1221.3" r="12.4"/><circle cx="1197.3" cy="1173.0" r="12.4"/><circle cx="1198.4" cy="1212.4" r="12.4"/><circle cx="1199.6" cy="1235.9" r="12.4"/><circle cx="1200.8" cy="1283.5" r="12.4"/><circle cx="1202.0" cy="1326.0" r="12.4"/><circle cx="1203.2" cy="1287.6" r="12.4"/><circle cx="1204.4" cy="1259.1" r="12.4"/><circle cx="1205.6" cy="1307.2" r="12.4"/><circle cx="1206.8" cy="1250.4" r="12.4"/><circle cx="1208.0" cy="1300.4" r="12.4"/><circle cx="1209.1" cy="1272.2" r="12.4"/><circle cx="1210.3" cy="1444.1" r="12.4"/><circle cx="1211.5" cy="1355.4" r="12.4"/><circle cx="1212.7" cy="1267.9" r="12.4"/><circle cx="1213.9" cy="1261.4" r="12.4"/><circle cx="1215.1" cy="1293.2" r="12.4"/><circle cx="1216.3" cy="1234.4" r="12.4"/><circle cx="1217.5" cy="1283.4" r="12.4"/><circle cx="1218.7" cy="1285.5" r="12.4"/><circle cx="1219.8" cy="1375.2" r="12.4"/><circle cx="1221.0" cy="1303.7" r="12.4"/><circle cx="1222.2" cy="1284.7" r="12.4"/><circle cx="1223.4" cy="1253.7" r="12.4"/><circle cx="1224.6" cy="1260.4" r="12.4"/><circle cx="1225.8" cy="1320.5" r="12.4"/><circle cx="1227.0" cy="1309.2" r="12.4"/><circle cx="1228.2" cy="1381.1" r="12.4"/><circle cx="1229.4" cy="1285.7" r="12.4"/><circle cx="1230.5" cy="1373.6" r="12.4"/><circle cx="1231.7" cy="1325.5" r="12.4"/><circle cx="1232.9" cy="1306.0" r="12.4"/><circle cx="1234.1" cy="1202.1" r="12.4"/><circle cx="1235.3" cy="1230.9" r="12.4"/><circle cx="1236.5" cy="1334.6" r="12.4"/><circle cx="1237.7" cy="1364.8" r="12.4"/><circle cx="1238.9" cy="1294.1" r="12.4"/><circle cx="1240.1" cy="1321.3" r="12.4"/><circle cx="1241.2" cy="1252.7" r="12.4"/><circle cx="1242.4" cy="1250.2" r="12.4"/><circle cx="1243.6" cy="1233.0" r="12.4"/><circle cx="1244.8" cy="1312.7" r="12.4"/><circle cx="1246.0" cy="1274.5" r="12.4"/><circle cx="1247.2" cy="1239.3" r="12.4"/><circle cx="1248.4" cy="1232.1" r="12.4"/><circle cx="1249.6" cy="1277.4" r="12.4"/><circle cx="1250.7" cy="1267.0" r="12.4"/><circle cx="1251.9" cy="1211.9" r="12.4"/><circle cx="1253.1" cy="1348.3" r="12.4"/><circle cx="1254.3" cy="1270.4" r="12.4"/><circle cx="1255.5" cy="1259.2" r="12.4"/><circle cx="1256.7" cy="1342.9" r="12.4"/><circle cx="1257.9" cy="1320.2" r="12.4"/><circle cx="1259.1" cy="1261.1" r="12.4"/><circle cx="1260.3" cy="1295.9" r="12.4"/><circle cx="1261.4" cy="1219.3" r="12.4"/><circle cx="1262.6" cy="1239.8" r="12.4"/><circle cx="1263.8" cy="1186.6" r="12.4"/><circle cx="1265.0" cy="1345.8" r="12.4"/><circle cx="1266.2" cy="1193.4" r="12.4"/><circle cx="1267.4" cy="1316.5" r="12.4"/><circle cx="1268.6" cy="1238.2" r="12.4"/><circle cx="1269.8" cy="1232.8" r="12.4"/><circle cx="1271.0" cy="1272.9" r="12.4"/><circle cx="1272.1" cy="1297.1" r="12.4"/><circle cx="1273.3" cy="1319.0" r="12.4"/><circle cx="1274.5" cy="1381.6" r="12.4"/><circle cx="1275.7" cy="1305.9" r="12.4"/><circle cx="1276.9" cy="1339.2" r="12.4"/><circle cx="1278.1" cy="1260.1" r="12.4"/><circle cx="1279.3" cy="1337.2" r="12.4"/><circle cx="1280.5" cy="1308.0" r="12.4"/><circle cx="1281.7" cy="1280.0" r="12.4"/><circle cx="1282.8" cy="1302.1" r="12.4"/><circle cx="1284.0" cy="1308.4" r="12.4"/><circle cx="1285.2" cy="1326.9" r="12.4"/><circle cx="1286.4" cy="1343.8" r="12.4"/><circle cx="1287.6" cy="1295.3" r="12.4"/><circle cx="1288.8" cy="1284.1" r="12.4"/><circle cx="1290.0" cy="1358.7" r="12.4"/><circle cx="1291.2" cy="1225.1" r="12.4"/><circle cx="1292.3" cy="1272.8" r="12.4"/><circle cx="1293.5" cy="1383.4" r="12.4"/><circle cx="1294.7" cy="1177.0" r="12.4"/><circle cx="1295.9" cy="1250.8" r="12.4"/><circle cx="1297.1" cy="1319.7" r="12.4"/><circle cx="1298.3" cy="1198.2" r="12.4"/><circle cx="1299.5" cy="1403.7" r="12.4"/><circle cx="1300.7" cy="1171.5" r="12.4"/><circle cx="1301.9" cy="1351.4" r="12.4"/><circle cx="1303.0" cy="1360.3" r="12.4"/><circle cx="1304.2" cy="1329.3" r="12.4"/><circle cx="1305.4" cy="1271.1" r="12.4"/><circle cx="1306.6" cy="1304.5" r="12.4"/><circle cx="1307.8" cy="1242.8" r="12.4"/><circle cx="1309.0" cy="1339.1" r="12.4"/><circle cx="1310.2" cy="1237.6" r="12.4"/><circle cx="1311.4" cy="1285.2" r="12.4"/><circle cx="1312.6" cy="1356.8" r="12.4"/><circle cx="1313.7" cy="1247.1" r="12.4"/><circle cx="1314.9" cy="1282.7" r="12.4"/><circle cx="1316.1" cy="1305.3" r="12.4"/><circle cx="1317.3" cy="1225.7" r="12.4"/><circle cx="1318.5" cy="1351.8" r="12.4"/><circle cx="1319.7" cy="1300.7" r="12.4"/><circle cx="1320.9" cy="1203.2" r="12.4"/><circle cx="1322.1" cy="1271.6" r="12.4"/><circle cx="1323.3" cy="1230.6" r="12.4"/><circle cx="1324.4" cy="1233.2" r="12.4"/><circle cx="1325.6" cy="1263.8" r="12.4"/><circle cx="1326.8" cy="1222.5" r="12.4"/><circle cx="1328.0" cy="1302.7" r="12.4"/><circle cx="1329.2" cy="1223.1" r="12.4"/><circle cx="1330.4" cy="1311.9" r="12.4"/><circle cx="1331.6" cy="1260.6" r="12.4"/><circle cx="1332.8" cy="1312.9" r="12.4"/><circle cx="1333.9" cy="1243.3" r="12.4"/><circle cx="1335.1" cy="1248.2" r="12.4"/><circle cx="1336.3" cy="1221.6" r="12.4"/><circle cx="1337.5" cy="1312.8" r="12.4"/><circle cx="1338.7" cy="1338.6" r="12.4"/><circle cx="1339.9" cy="1397.3" r="12.4"/><circle cx="1341.1" cy="1354.9" r="12.4"/><circle cx="1342.3" cy="1295.2" r="12.4"/><circle cx="1343.5" cy="1269.1" r="12.4"/><circle cx="1344.6" cy="1298.6" r="12.4"/><circle cx="1345.8" cy="1275.4" r="12.4"/><circle cx="1347.0" cy="1353.6" r="12.4"/><circle cx="1348.2" cy="1324.4" r="12.4"/><circle cx="1349.4" cy="1229.4" r="12.4"/><circle cx="1350.6" cy="1234.5" r="12.4"/><circle cx="1351.8" cy="1342.6" r="12.4"/><circle cx="1353.0" cy="1282.3" r="12.4"/><circle cx="1354.2" cy="1252.4" r="12.4"/><circle cx="1355.3" cy="1326.5" r="12.4"/><circle cx="1356.5" cy="1241.4" r="12.4"/><circle cx="1357.7" cy="1246.2" r="12.4"/><circle cx="1358.9" cy="1235.6" r="12.4"/><circle cx="1360.1" cy="1182.7" r="12.4"/><circle cx="1361.3" cy="1300.6" r="12.4"/><circle cx="1362.5" cy="1199.6" r="12.4"/><circle cx="1363.7" cy="1226.7" r="12.4"/><circle cx="1364.9" cy="1216.1" r="12.4"/><circle cx="1366.0" cy="1289.0" r="12.4"/><circle cx="1367.2" cy="1245.8" r="12.4"/><circle cx="1368.4" cy="1252.8" r="12.4"/><circle cx="1369.6" cy="1188.7" r="12.4"/><circle cx="1370.8" cy="1256.4" r="12.4"/><circle cx="1372.0" cy="1198.7" r="12.4"/><circle cx="1373.2" cy="1288.6" r="12.4"/><circle cx="1374.4" cy="1295.0" r="12.4"/><circle cx="1375.6" cy="1280.7" r="12.4"/><circle cx="1376.7" cy="1394.9" r="12.4"/><circle cx="1377.9" cy="1320.8" r="12.4"/><circle cx="1379.1" cy="1328.4" r="12.4"/><circle cx="1380.3" cy="1298.2" r="12.4"/><circle cx="1381.5" cy="1277.3" r="12.4"/><circle cx="1382.7" cy="1337.6" r="12.4"/><circle cx="1383.9" cy="1341.2" r="12.4"/><circle cx="1385.1" cy="1209.8" r="12.4"/><circle cx="1386.2" cy="1328.1" r="12.4"/><circle cx="1387.4" cy="1293.8" r="12.4"/><circle cx="1388.6" cy="1316.1" r="12.4"/><circle cx="1389.8" cy="1292.8" r="12.4"/><circle cx="1391.0" cy="1210.4" r="12.4"/><circle cx="1392.2" cy="1220.3" r="12.4"/><circle cx="1393.4" cy="1379.5" r="12.4"/><circle cx="1394.6" cy="1298.4" r="12.4"/><circle cx="1395.8" cy="1220.0" r="12.4"/><circle cx="1396.9" cy="1313.1" r="12.4"/><circle cx="1398.1" cy="1279.3" r="12.4"/><circle cx="1399.3" cy="1208.4" r="12.4"/><circle cx="1400.5" cy="1195.6" r="12.4"/><circle cx="1401.7" cy="1228.8" r="12.4"/><circle cx="1402.9" cy="1331.4" r="12.4"/><circle cx="1404.1" cy="1318.0" r="12.4"/><circle cx="1405.3" cy="1304.9" r="12.4"/><circle cx="1406.5" cy="1329.0" r="12.4"/><circle cx="1407.6" cy="1342.0" r="12.4"/><circle cx="1408.8" cy="1199.4" r="12.4"/><circle cx="1410.0" cy="1279.6" r="12.4"/><circle cx="1411.2" cy="1246.5" r="12.4"/><circle cx="1412.4" cy="1222.4" r="12.4"/><circle cx="1413.6" cy="1248.9" r="12.4"/><circle cx="1414.8" cy="1264.5" r="12.4"/><circle cx="1416.0" cy="1252.0" r="12.4"/><circle cx="1417.2" cy="1197.3" r="12.4"/><circle cx="1418.3" cy="1239.6" r="12.4"/><circle cx="1419.5" cy="1374.1" r="12.4"/><circle cx="1420.7" cy="1213.4" r="12.4"/><circle cx="1421.9" cy="1191.7" r="12.4"/><circle cx="1423.1" cy="1281.8" r="12.4"/><circle cx="1424.3" cy="1298.4" r="12.4"/><circle cx="1425.5" cy="1291.8" r="12.4"/><circle cx="1426.7" cy="1212.7" r="12.4"/><circle cx="1427.8" cy="1323.6" r="12.4"/><circle cx="1429.0" cy="1230.4" r="12.4"/><circle cx="1430.2" cy="1213.7" r="12.4"/><circle cx="1431.4" cy="1238.9" r="12.4"/><circle cx="1432.6" cy="1264.9" r="12.4"/><circle cx="1433.8" cy="1309.4" r="12.4"/><circle cx="1435.0" cy="1306.1" r="12.4"/><circle cx="1436.2" cy="1273.9" r="12.4"/><circle cx="1437.4" cy="1326.6" r="12.4"/><circle cx="1438.5" cy="1282.5" r="12.4"/><circle cx="1439.7" cy="1327.8" r="12.4"/><circle cx="1440.9" cy="1210.0" r="12.4"/><circle cx="1442.1" cy="1203.8" r="12.4"/><circle cx="1443.3" cy="1325.8" r="12.4"/><circle cx="1444.5" cy="1215.9" r="12.4"/><circle cx="1445.7" cy="1270.7" r="12.4"/><circle cx="1446.9" cy="1283.6" r="12.4"/><circle cx="1448.1" cy="1263.0" r="12.4"/><circle cx="1449.2" cy="1263.3" r="12.4"/><circle cx="1450.4" cy="1363.1" r="12.4"/><circle cx="1451.6" cy="1177.8" r="12.4"/><circle cx="1452.8" cy="1332.0" r="12.4"/><circle cx="1454.0" cy="1401.7" r="12.4"/><circle cx="1455.2" cy="1282.0" r="12.4"/><circle cx="1456.4" cy="1278.4" r="12.4"/><circle cx="1457.6" cy="1317.6" r="12.4"/><circle cx="1458.8" cy="1378.3" r="12.4"/><circle cx="1459.9" cy="1223.4" r="12.4"/><circle cx="1461.1" cy="1289.7" r="12.4"/><circle cx="1462.3" cy="1276.4" r="12.4"/><circle cx="1463.5" cy="1319.8" r="12.4"/><circle cx="1464.7" cy="1295.8" r="12.4"/><circle cx="1465.9" cy="1321.7" r="12.4"/><circle cx="1467.1" cy="1258.6" r="12.4"/><circle cx="1468.3" cy="1281.1" r="12.4"/><circle cx="1469.4" cy="1240.1" r="12.4"/><circle cx="1470.6" cy="1237.8" r="12.4"/><circle cx="1471.8" cy="1259.8" r="12.4"/><circle cx="1473.0" cy="1256.9" r="12.4"/><circle cx="1474.2" cy="1204.2" r="12.4"/><circle cx="1475.4" cy="1344.3" r="12.4"/><circle cx="1476.6" cy="1248.1" r="12.4"/><circle cx="1477.8" cy="1193.1" r="12.4"/><circle cx="1479.0" cy="1308.4" r="12.4"/><circle cx="1480.1" cy="1215.4" r="12.4"/><circle cx="1481.3" cy="1278.9" r="12.4"/><circle cx="1482.5" cy="1252.3" r="12.4"/><circle cx="1483.7" cy="1266.5" r="12.4"/><circle cx="1484.9" cy="1262.6" r="12.4"/><circle cx="1486.1" cy="1228.4" r="12.4"/><circle cx="1487.3" cy="1257.3" r="12.4"/><circle cx="1488.5" cy="1368.5" r="12.4"/><circle cx="1489.7" cy="1173.8" r="12.4"/><circle cx="1490.8" cy="1273.1" r="12.4"/><circle cx="1492.0" cy="1296.1" r="12.4"/><circle cx="1493.2" cy="1227.3" r="12.4"/><circle cx="1494.4" cy="1214.7" r="12.4"/><circle cx="1495.6" cy="1401.0" r="12.4"/><circle cx="1496.8" cy="1274.4" r="12.4"/><circle cx="1498.0" cy="1404.7" r="12.4"/><circle cx="1499.2" cy="1334.4" r="12.4"/><circle cx="1500.4" cy="1304.6" r="12.4"/><circle cx="1501.5" cy="1324.8" r="12.4"/><circle cx="1502.7" cy="1330.4" r="12.4"/><circle cx="1503.9" cy="1357.3" r="12.4"/><circle cx="1505.1" cy="1313.6" r="12.4"/><circle cx="1506.3" cy="1294.3" r="12.4"/><circle cx="1507.5" cy="1292.7" r="12.4"/><circle cx="1508.7" cy="1355.0" r="12.4"/><circle cx="1509.9" cy="1326.4" r="12.4"/><circle cx="1511.1" cy="1231.8" r="12.4"/><circle cx="1512.2" cy="1249.6" r="12.4"/><circle cx="1513.4" cy="1300.0" r="12.4"/><circle cx="1514.6" cy="1250.7" r="12.4"/><circle cx="1515.8" cy="1263.5" r="12.4"/><circle cx="1517.0" cy="1235.5" r="12.4"/><circle cx="1518.2" cy="1270.9" r="12.4"/><circle cx="1519.4" cy="1307.3" r="12.4"/><circle cx="1520.6" cy="1341.7" r="12.4"/><circle cx="1521.7" cy="1286.8" r="12.4"/><circle cx="1522.9" cy="1395.4" r="12.4"/><circle cx="1524.1" cy="1283.0" r="12.4"/><circle cx="1525.3" cy="1451.1" r="12.4"/><circle cx="1526.5" cy="1343.4" r="12.4"/><circle cx="1527.7" cy="1313.9" r="12.4"/><circle cx="1528.9" cy="1257.5" r="12.4"/><circle cx="1530.1" cy="1170.7" r="12.4"/><circle cx="1531.3" cy="1271.7" r="12.4"/><circle cx="1532.4" cy="1287.7" r="12.4"/><circle cx="1533.6" cy="1378.4" r="12.4"/><circle cx="1534.8" cy="1205.0" r="12.4"/><circle cx="1536.0" cy="1374.0" r="12.4"/><circle cx="1537.2" cy="1254.5" r="12.4"/><circle cx="1538.4" cy="1303.6" r="12.4"/><circle cx="1539.6" cy="1169.9" r="12.4"/><circle cx="1540.8" cy="1268.6" r="12.4"/><circle cx="1542.0" cy="1242.0" r="12.4"/><circle cx="1543.1" cy="1292.3" r="12.4"/><circle cx="1544.3" cy="1258.7" r="12.4"/><circle cx="1545.5" cy="1200.7" r="12.4"/><circle cx="1546.7" cy="1305.2" r="12.4"/><circle cx="1547.9" cy="1295.7" r="12.4"/><circle cx="1549.1" cy="1295.3" r="12.4"/><circle cx="1550.3" cy="1324.3" r="12.4"/><circle cx="1551.5" cy="1335.1" r="12.4"/><circle cx="1552.7" cy="1277.9" r="12.4"/><circle cx="1553.8" cy="1214.9" r="12.4"/><circle cx="1555.0" cy="1219.8" r="12.4"/><circle cx="1556.2" cy="1366.1" r="12.4"/><circle cx="1557.4" cy="1338.3" r="12.4"/><circle cx="1558.6" cy="1307.0" r="12.4"/><circle cx="1559.8" cy="1284.0" r="12.4"/><circle cx="1561.0" cy="1313.4" r="12.4"/><circle cx="1562.2" cy="1317.9" r="12.4"/><circle cx="1563.3" cy="1294.5" r="12.4"/><circle cx="1564.5" cy="1273.1" r="12.4"/><circle cx="1565.7" cy="1413.7" r="12.4"/><circle cx="1566.9" cy="1316.7" r="12.4"/><circle cx="1568.1" cy="1268.7" r="12.4"/><circle cx="1569.3" cy="1231.4" r="12.4"/><circle cx="1570.5" cy="1255.9" r="12.4"/><circle cx="1571.7" cy="1332.6" r="12.4"/><circle cx="1572.9" cy="1331.6" r="12.4"/><circle cx="1574.0" cy="1275.2" r="12.4"/><circle cx="1575.2" cy="1287.1" r="12.4"/><circle cx="1576.4" cy="1264.4" r="12.4"/><circle cx="1577.6" cy="1223.9" r="12.4"/><circle cx="1578.8" cy="1348.4" r="12.4"/><circle cx="1580.0" cy="1293.7" r="12.4"/><circle cx="1581.2" cy="1401.3" r="12.4"/><circle cx="1582.4" cy="1233.1" r="12.4"/><circle cx="1583.6" cy="1259.7" r="12.4"/><circle cx="1584.7" cy="1313.0" r="12.4"/><circle cx="1585.9" cy="1250.5" r="12.4"/><circle cx="1587.1" cy="1197.7" r="12.4"/><circle cx="1588.3" cy="1212.2" r="12.4"/><circle cx="1589.5" cy="1261.7" r="12.4"/><circle cx="1590.7" cy="1275.5" r="12.4"/><circle cx="1591.9" cy="1254.4" r="12.4"/><circle cx="1593.1" cy="1316.2" r="12.4"/><circle cx="1594.3" cy="1319.4" r="12.4"/><circle cx="1595.4" cy="1285.7" r="12.4"/><circle cx="1596.6" cy="1272.2" r="12.4"/><circle cx="1597.8" cy="1259.0" r="12.4"/><circle cx="1599.0" cy="1304.1" r="12.4"/><circle cx="1600.2" cy="1328.3" r="12.4"/><circle cx="1601.4" cy="1284.9" r="12.4"/><circle cx="1602.6" cy="1304.0" r="12.4"/><circle cx="1603.8" cy="1261.9" r="12.4"/><circle cx="1604.9" cy="1207.6" r="12.4"/><circle cx="1606.1" cy="1228.3" r="12.4"/><circle cx="1607.3" cy="1317.7" r="12.4"/><circle cx="1608.5" cy="1297.8" r="12.4"/><circle cx="1609.7" cy="1359.9" r="12.4"/><circle cx="1610.9" cy="1275.7" r="12.4"/><circle cx="1612.1" cy="1318.7" r="12.4"/><circle cx="1613.3" cy="1343.1" r="12.4"/><circle cx="1614.5" cy="1323.2" r="12.4"/><circle cx="1615.6" cy="1237.0" r="12.4"/><circle cx="1616.8" cy="1259.1" r="12.4"/><circle cx="1618.0" cy="1278.6" r="12.4"/><circle cx="1619.2" cy="1224.8" r="12.4"/><circle cx="1620.4" cy="1299.4" r="12.4"/><circle cx="1621.6" cy="1333.3" r="12.4"/><circle cx="1622.8" cy="1252.9" r="12.4"/><circle cx="1624.0" cy="1385.3" r="12.4"/><circle cx="1625.2" cy="1266.4" r="12.4"/><circle cx="1626.3" cy="1273.3" r="12.4"/><circle cx="1627.5" cy="1273.2" r="12.4"/><circle cx="1628.7" cy="1250.0" r="12.4"/><circle cx="1629.9" cy="1311.1" r="12.4"/><circle cx="1631.1" cy="1291.4" r="12.4"/><circle cx="1632.3" cy="1382.6" r="12.4"/><circle cx="1633.5" cy="1327.6" r="12.4"/><circle cx="1634.7" cy="1324.9" r="12.4"/><circle cx="1635.9" cy="1281.0" r="12.4"/><circle cx="1637.0" cy="1220.5" r="12.4"/><circle cx="1638.2" cy="1283.7" r="12.4"/><circle cx="1639.4" cy="1241.2" r="12.4"/><circle cx="1640.6" cy="1336.2" r="12.4"/><circle cx="1641.8" cy="1279.5" r="12.4"/><circle cx="1643.0" cy="1368.1" r="12.4"/><circle cx="1644.2" cy="1315.1" r="12.4"/><circle cx="1645.4" cy="1319.6" r="12.4"/><circle cx="1646.6" cy="1284.1" r="12.4"/><circle cx="1647.7" cy="1280.4" r="12.4"/><circle cx="1648.9" cy="1301.5" r="12.4"/><circle cx="1650.1" cy="1317.3" r="12.4"/><circle cx="1651.3" cy="1232.4" r="12.4"/><circle cx="1652.5" cy="1292.3" r="12.4"/><circle cx="1653.7" cy="1403.0" r="12.4"/><circle cx="1654.9" cy="1261.3" r="12.4"/><circle cx="1656.1" cy="1253.0" r="12.4"/><circle cx="1657.2" cy="1232.3" r="12.4"/><circle cx="1658.4" cy="1198.9" r="12.4"/><circle cx="1659.6" cy="1330.2" r="12.4"/><circle cx="1660.8" cy="1271.0" r="12.4"/><circle cx="1662.0" cy="1286.7" r="12.4"/><circle cx="1663.2" cy="1372.6" r="12.4"/><circle cx="1664.4" cy="1405.1" r="12.4"/><circle cx="1665.6" cy="1234.0" r="12.4"/><circle cx="1666.8" cy="1340.5" r="12.4"/><circle cx="1667.9" cy="1318.5" r="12.4"/><circle cx="1669.1" cy="1307.6" r="12.4"/><circle cx="1670.3" cy="1315.0" r="12.4"/><circle cx="1671.5" cy="1290.7" r="12.4"/><circle cx="1672.7" cy="1380.7" r="12.4"/><circle cx="1673.9" cy="1331.7" r="12.4"/><circle cx="1675.1" cy="1311.9" r="12.4"/><circle cx="1676.3" cy="1357.6" r="12.4"/><circle cx="1677.5" cy="1335.0" r="12.4"/><circle cx="1678.6" cy="1303.9" r="12.4"/><circle cx="1679.8" cy="1292.5" r="12.4"/><circle cx="1681.0" cy="1366.4" r="12.4"/><circle cx="1682.2" cy="1300.8" r="12.4"/><circle cx="1683.4" cy="1272.3" r="12.4"/><circle cx="1684.6" cy="1235.2" r="12.4"/><circle cx="1685.8" cy="1262.4" r="12.4"/><circle cx="1687.0" cy="1230.5" r="12.4"/><circle cx="1688.2" cy="1291.3" r="12.4"/><circle cx="1689.3" cy="1301.2" r="12.4"/><circle cx="1690.5" cy="1193.8" r="12.4"/><circle cx="1691.7" cy="1285.2" r="12.4"/><circle cx="1692.9" cy="1313.5" r="12.4"/><circle cx="1694.1" cy="1282.6" r="12.4"/><circle cx="1695.3" cy="1222.1" r="12.4"/><circle cx="1696.5" cy="1332.1" r="12.4"/><circle cx="1697.7" cy="1225.6" r="12.4"/><circle cx="1698.8" cy="1198.0" r="12.4"/><circle cx="1700.0" cy="1200.1" r="12.4"/><circle cx="1701.2" cy="1243.4" r="12.4"/><circle cx="1702.4" cy="1294.8" r="12.4"/><circle cx="1703.6" cy="1313.8" r="12.4"/><circle cx="1704.8" cy="1269.3" r="12.4"/><circle cx="1706.0" cy="1207.0" r="12.4"/><circle cx="1707.2" cy="1240.2" r="12.4"/><circle cx="1708.4" cy="1236.3" r="12.4"/><circle cx="1709.5" cy="1280.8" r="12.4"/><circle cx="1710.7" cy="1207.2" r="12.4"/><circle cx="1711.9" cy="1310.9" r="12.4"/><circle cx="1713.1" cy="1349.4" r="12.4"/><circle cx="1714.3" cy="1305.3" r="12.4"/><circle cx="1715.5" cy="1338.1" r="12.4"/><circle cx="1716.7" cy="1256.8" r="12.4"/><circle cx="1717.9" cy="1229.6" r="12.4"/><circle cx="1719.1" cy="1266.6" r="12.4"/><circle cx="1720.2" cy="1360.2" r="12.4"/><circle cx="1721.4" cy="1350.4" r="12.4"/><circle cx="1722.6" cy="1266.3" r="12.4"/><circle cx="1723.8" cy="1352.5" r="12.4"/><circle cx="1725.0" cy="1266.9" r="12.4"/><circle cx="1726.2" cy="1368.6" r="12.4"/><circle cx="1727.4" cy="1318.1" r="12.4"/><circle cx="1728.6" cy="1271.5" r="12.4"/><circle cx="1729.8" cy="1344.6" r="12.4"/><circle cx="1730.9" cy="1261.8" r="12.4"/><circle cx="1732.1" cy="1257.4" r="12.4"/><circle cx="1733.3" cy="1236.5" r="12.4"/><circle cx="1734.5" cy="1330.9" r="12.4"/><circle cx="1735.7" cy="1318.1" r="12.4"/><circle cx="1736.9" cy="1321.4" r="12.4"/><circle cx="1738.1" cy="1298.1" r="12.4"/><circle cx="1739.3" cy="1394.1" r="12.4"/><circle cx="1740.4" cy="1291.9" r="12.4"/><circle cx="1741.6" cy="1274.2" r="12.4"/><circle cx="1742.8" cy="1377.1" r="12.4"/><circle cx="1744.0" cy="1383.8" r="12.4"/><circle cx="1745.2" cy="1323.3" r="12.4"/><circle cx="1746.4" cy="1213.2" r="12.4"/><circle cx="1747.6" cy="1272.5" r="12.4"/><circle cx="1748.8" cy="1341.6" r="12.4"/><circle cx="1750.0" cy="1308.2" r="12.4"/><circle cx="1751.1" cy="1392.9" r="12.4"/><circle cx="1752.3" cy="1239.2" r="12.4"/><circle cx="1753.5" cy="1351.1" r="12.4"/><circle cx="1754.7" cy="1282.2" r="12.4"/><circle cx="1755.9" cy="1387.7" r="12.4"/><circle cx="1757.1" cy="1314.9" r="12.4"/><circle cx="1758.3" cy="1376.9" r="12.4"/><circle cx="1759.5" cy="1289.3" r="12.4"/><circle cx="1760.7" cy="1246.9" r="12.4"/><circle cx="1761.8" cy="1255.1" r="12.4"/><circle cx="1763.0" cy="1275.9" r="12.4"/><circle cx="1764.2" cy="1247.9" r="12.4"/><circle cx="1765.4" cy="1360.4" r="12.4"/><circle cx="1766.6" cy="1362.8" r="12.4"/><circle cx="1767.8" cy="1296.5" r="12.4"/><circle cx="1769.0" cy="1226.2" r="12.4"/><circle cx="1770.2" cy="1263.2" r="12.4"/><circle cx="1771.4" cy="1230.2" r="12.4"/><circle cx="1772.5" cy="1345.3" r="12.4"/><circle cx="1773.7" cy="1287.0" r="12.4"/><circle cx="1774.9" cy="1299.9" r="12.4"/><circle cx="1776.1" cy="1257.6" r="12.4"/><circle cx="1777.3" cy="1192.4" r="12.4"/><circle cx="1778.5" cy="1248.6" r="12.4"/><circle cx="1779.7" cy="1236.2" r="12.4"/><circle cx="1780.9" cy="1319.9" r="12.4"/><circle cx="1782.0" cy="1307.9" r="12.4"/><circle cx="1783.2" cy="1265.1" r="12.4"/><circle cx="1784.4" cy="1291.6" r="12.4"/><circle cx="1785.6" cy="1399.6" r="12.4"/><circle cx="1786.8" cy="1271.7" r="12.4"/><circle cx="1788.0" cy="1278.7" r="12.4"/><circle cx="1789.2" cy="1310.1" r="12.4"/><circle cx="1790.4" cy="1280.1" r="12.4"/><circle cx="1791.6" cy="1289.3" r="12.4"/><circle cx="1792.7" cy="1336.5" r="12.4"/><circle cx="1793.9" cy="1392.6" r="12.4"/><circle cx="1795.1" cy="1205.8" r="12.4"/><circle cx="1796.3" cy="1288.8" r="12.4"/><circle cx="1797.5" cy="1286.5" r="12.4"/><circle cx="1798.7" cy="1281.1" r="12.4"/><circle cx="1799.9" cy="1277.1" r="12.4"/><circle cx="1801.1" cy="1270.0" r="12.4"/><circle cx="1802.3" cy="1346.7" r="12.4"/><circle cx="1803.4" cy="1266.7" r="12.4"/><circle cx="1804.6" cy="1286.6" r="12.4"/><circle cx="1805.8" cy="1294.2" r="12.4"/><circle cx="1807.0" cy="1299.7" r="12.4"/><circle cx="1808.2" cy="1281.4" r="12.4"/><circle cx="1809.4" cy="1342.1" r="12.4"/><circle cx="1810.6" cy="1281.4" r="12.4"/><circle cx="1811.8" cy="1286.9" r="12.4"/><circle cx="1813.0" cy="1269.6" r="12.4"/><circle cx="1814.1" cy="1220.7" r="12.4"/><circle cx="1815.3" cy="1224.2" r="12.4"/><circle cx="1816.5" cy="1211.0" r="12.4"/><circle cx="1817.7" cy="1276.6" r="12.4"/><circle cx="1818.9" cy="1234.2" r="12.4"/><circle cx="1820.1" cy="1221.2" r="12.4"/><circle cx="1821.3" cy="1289.7" r="12.4"/><circle cx="1822.5" cy="1307.3" r="12.4"/><circle cx="1823.7" cy="1199.1" r="12.4"/><circle cx="1824.8" cy="1377.2" r="12.4"/><circle cx="1826.0" cy="1290.8" r="12.4"/><circle cx="1827.2" cy="1287.9" r="12.4"/><circle cx="1828.4" cy="1353.7" r="12.4"/><circle cx="1829.6" cy="1302.0" r="12.4"/><circle cx="1830.8" cy="1270.2" r="12.4"/><circle cx="1832.0" cy="1414.4" r="12.4"/><circle cx="1833.2" cy="1252.6" r="12.4"/><circle cx="1834.3" cy="1306.9" r="12.4"/><circle cx="1835.5" cy="1363.6" r="12.4"/><circle cx="1836.7" cy="1261.7" r="12.4"/><circle cx="1837.9" cy="1310.2" r="12.4"/><circle cx="1839.1" cy="1333.8" r="12.4"/><circle cx="1840.3" cy="1432.4" r="12.4"/><circle cx="1841.5" cy="1254.1" r="12.4"/><circle cx="1842.7" cy="1293.9" r="12.4"/><circle cx="1843.9" cy="1328.3" r="12.4"/><circle cx="1845.0" cy="1295.6" r="12.4"/><circle cx="1846.2" cy="1232.5" r="12.4"/><circle cx="1847.4" cy="1316.4" r="12.4"/><circle cx="1848.6" cy="1300.2" r="12.4"/><circle cx="1849.8" cy="1321.5" r="12.4"/><circle cx="1851.0" cy="1359.1" r="12.4"/><circle cx="1852.2" cy="1353.0" r="12.4"/><circle cx="1853.4" cy="1321.9" r="12.4"/><circle cx="1854.6" cy="1316.6" r="12.4"/><circle cx="1855.7" cy="1243.8" r="12.4"/><circle cx="1856.9" cy="1293.7" r="12.4"/><circle cx="1858.1" cy="1314.2" r="12.4"/><circle cx="1859.3" cy="1282.4" r="12.4"/><circle cx="1860.5" cy="1309.1" r="12.4"/><circle cx="1861.7" cy="1260.9" r="12.4"/><circle cx="1862.9" cy="1386.9" r="12.4"/><circle cx="1864.1" cy="1409.5" r="12.4"/><circle cx="1865.3" cy="1274.9" r="12.4"/><circle cx="1866.4" cy="1312.4" r="12.4"/><circle cx="1867.6" cy="1274.2" r="12.4"/><circle cx="1868.8" cy="1350.7" r="12.4"/><circle cx="1870.0" cy="1299.6" r="12.4"/><circle cx="1871.2" cy="1276.5" r="12.4"/><circle cx="1872.4" cy="1257.1" r="12.4"/><circle cx="1873.6" cy="1274.8" r="12.4"/><circle cx="1874.8" cy="1219.1" r="12.4"/><circle cx="1875.9" cy="1300.7" r="12.4"/><circle cx="1877.1" cy="1229.3" r="12.4"/><circle cx="1878.3" cy="1291.0" r="12.4"/><circle cx="1879.5" cy="1268.2" r="12.4"/><circle cx="1880.7" cy="1320.4" r="12.4"/><circle cx="1881.9" cy="1257.7" r="12.4"/><circle cx="1883.1" cy="1312.3" r="12.4"/><circle cx="1884.3" cy="1211.5" r="12.4"/><circle cx="1885.5" cy="1288.4" r="12.4"/><circle cx="1886.6" cy="1243.5" r="12.4"/><circle cx="1887.8" cy="1262.4" r="12.4"/><circle cx="1889.0" cy="1254.8" r="12.4"/><circle cx="1890.2" cy="1299.1" r="12.4"/><circle cx="1891.4" cy="1175.4" r="12.4"/><circle cx="1892.6" cy="1276.7" r="12.4"/><circle cx="1893.8" cy="1196.3" r="12.4"/><circle cx="1895.0" cy="1338.4" r="12.4"/><circle cx="1896.2" cy="1189.7" r="12.4"/><circle cx="1897.3" cy="1231.3" r="12.4"/><circle cx="1898.5" cy="1204.4" r="12.4"/><circle cx="1899.7" cy="1382.2" r="12.4"/><circle cx="1900.9" cy="1233.7" r="12.4"/><circle cx="1902.1" cy="1311.0" r="12.4"/><circle cx="1903.3" cy="1273.8" r="12.4"/><circle cx="1904.5" cy="1206.8" r="12.4"/><circle cx="1905.7" cy="1275.3" r="12.4"/><circle cx="1906.9" cy="1325.4" r="12.4"/><circle cx="1908.0" cy="1275.0" r="12.4"/><circle cx="1909.2" cy="1331.9" r="12.4"/><circle cx="1910.4" cy="1256.0" r="12.4"/><circle cx="1911.6" cy="1272.6" r="12.4"/><circle cx="1912.8" cy="1247.6" r="12.4"/><circle cx="1914.0" cy="1283.1" r="12.4"/><circle cx="1915.2" cy="1372.8" r="12.4"/><circle cx="1916.4" cy="1294.8" r="12.4"/><circle cx="1917.5" cy="1291.8" r="12.4"/><circle cx="1918.7" cy="1255.0" r="12.4"/><circle cx="1919.9" cy="1254.0" r="12.4"/><circle cx="1921.1" cy="1379.0" r="12.4"/><circle cx="1922.3" cy="1247.5" r="12.4"/><circle cx="1923.5" cy="1262.7" r="12.4"/><circle cx="1924.7" cy="1313.2" r="12.4"/><circle cx="1925.9" cy="1300.5" r="12.4"/><circle cx="1927.1" cy="1431.1" r="12.4"/><circle cx="1928.2" cy="1209.0" r="12.4"/><circle cx="1929.4" cy="1345.7" r="12.4"/><circle cx="1930.6" cy="1355.3" r="12.4"/><circle cx="1931.8" cy="1249.4" r="12.4"/><circle cx="1933.0" cy="1266.4" r="12.4"/><circle cx="1934.2" cy="1316.8" r="12.4"/><circle cx="1935.4" cy="1374.3" r="12.4"/><circle cx="1936.6" cy="1231.9" r="12.4"/><circle cx="1937.8" cy="1196.8" r="12.4"/><circle cx="1938.9" cy="1314.8" r="12.4"/><circle cx="1940.1" cy="1343.7" r="12.4"/><circle cx="1941.3" cy="1244.4" r="12.4"/><circle cx="1942.5" cy="1172.3" r="12.4"/><circle cx="1943.7" cy="1341.8" r="12.4"/><circle cx="1944.9" cy="1252.1" r="12.4"/><circle cx="1946.1" cy="1323.7" r="12.4"/><circle cx="1947.3" cy="1260.0" r="12.4"/><circle cx="1948.5" cy="1245.4" r="12.4"/><circle cx="1949.6" cy="1240.9" r="12.4"/><circle cx="1950.8" cy="1346.1" r="12.4"/><circle cx="1952.0" cy="1344.1" r="12.4"/><circle cx="1953.2" cy="1180.7" r="12.4"/><circle cx="1954.4" cy="1224.3" r="12.4"/><circle cx="1955.6" cy="1370.7" r="12.4"/><circle cx="1956.8" cy="1261.0" r="12.4"/><circle cx="1958.0" cy="1219.6" r="12.4"/><circle cx="1959.2" cy="1291.4" r="12.4"/><circle cx="1960.3" cy="1291.1" r="12.4"/><circle cx="1961.5" cy="1296.7" r="12.4"/><circle cx="1962.7" cy="1283.0" r="12.4"/><circle cx="1963.9" cy="1296.0" r="12.4"/><circle cx="1965.1" cy="1294.4" r="12.4"/><circle cx="1966.3" cy="1345.1" r="12.4"/><circle cx="1967.5" cy="1286.6" r="12.4"/><circle cx="1968.7" cy="1309.5" r="12.4"/><circle cx="1969.8" cy="1313.7" r="12.4"/><circle cx="1971.0" cy="1386.5" r="12.4"/><circle cx="1972.2" cy="1334.3" r="12.4"/><circle cx="1973.4" cy="1301.3" r="12.4"/><circle cx="1974.6" cy="1334.0" r="12.4"/><circle cx="1975.8" cy="1322.0" r="12.4"/><circle cx="1977.0" cy="1353.4" r="12.4"/><circle cx="1978.2" cy="1318.4" r="12.4"/><circle cx="1979.4" cy="1382.8" r="12.4"/><circle cx="1980.5" cy="1354.1" r="12.4"/><circle cx="1981.7" cy="1275.1" r="12.4"/><circle cx="1982.9" cy="1251.0" r="12.4"/><circle cx="1984.1" cy="1319.2" r="12.4"/><circle cx="1985.3" cy="1300.1" r="12.4"/><circle cx="1986.5" cy="1271.4" r="12.4"/><circle cx="1987.7" cy="1206.6" r="12.4"/><circle cx="1988.9" cy="1195.2" r="12.4"/><circle cx="1990.1" cy="1302.2" r="12.4"/><circle cx="1991.2" cy="1329.8" r="12.4"/><circle cx="1992.4" cy="1335.8" r="12.4"/><circle cx="1993.6" cy="1226.6" r="12.4"/><circle cx="1994.8" cy="1346.3" r="12.4"/><circle cx="1996.0" cy="1256.4" r="12.4"/><circle cx="1997.2" cy="1302.5" r="12.4"/><circle cx="1998.4" cy="1301.6" r="12.4"/><circle cx="1999.6" cy="1236.8" r="12.4"/><circle cx="2000.8" cy="1245.5" r="12.4"/><circle cx="2001.9" cy="1188.0" r="12.4"/><circle cx="2003.1" cy="1228.7" r="12.4"/><circle cx="2004.3" cy="1194.7" r="12.4"/><circle cx="2005.5" cy="1303.1" r="12.4"/><circle cx="2006.7" cy="1288.3" r="12.4"/><circle cx="2007.9" cy="1339.8" r="12.4"/><circle cx="2009.1" cy="1310.0" r="12.4"/><circle cx="2010.3" cy="1260.3" r="12.4"/><circle cx="2011.4" cy="1317.4" r="12.4"/><circle cx="2012.6" cy="1280.3" r="12.4"/><circle cx="2013.8" cy="1337.5" r="12.4"/><circle cx="2015.0" cy="1322.2" r="12.4"/><circle cx="2016.2" cy="1253.1" r="12.4"/><circle cx="2017.4" cy="1299.2" r="12.4"/><circle cx="2018.6" cy="1295.1" r="12.4"/><circle cx="2019.8" cy="1269.5" r="12.4"/><circle cx="2021.0" cy="1328.6" r="12.4"/><circle cx="2022.1" cy="1368.8" r="12.4"/><circle cx="2023.3" cy="1255.6" r="12.4"/><circle cx="2024.5" cy="1254.9" r="12.4"/><circle cx="2025.7" cy="1183.7" r="12.4"/><circle cx="2026.9" cy="1263.7" r="12.4"/><circle cx="2028.1" cy="1247.3" r="12.4"/><circle cx="2029.3" cy="1184.7" r="12.4"/><circle cx="2030.5" cy="1282.5" r="12.4"/><circle cx="2031.7" cy="1295.6" r="12.4"/><circle cx="2032.8" cy="1228.6" r="12.4"/><circle cx="2034.0" cy="1247.7" r="12.4"/><circle cx="2035.2" cy="1223.5" r="12.4"/><circle cx="2036.4" cy="1314.7" r="12.4"/><circle cx="2037.6" cy="1202.8" r="12.4"/><circle cx="2038.8" cy="1264.0" r="12.4"/><circle cx="2040.0" cy="1388.5" r="12.4"/><circle cx="2041.2" cy="1290.7" r="12.4"/><circle cx="2042.4" cy="1317.0" r="12.4"/><circle cx="2043.5" cy="1279.9" r="12.4"/><circle cx="2044.7" cy="1224.5" r="12.4"/><circle cx="2045.9" cy="1277.0" r="12.4"/><circle cx="2047.1" cy="1295.1" r="12.4"/><circle cx="2048.3" cy="1220.9" r="12.4"/><circle cx="2049.5" cy="1284.6" r="12.4"/><circle cx="2050.7" cy="1328.9" r="12.4"/><circle cx="2051.9" cy="1314.5" r="12.4"/><circle cx="2053.0" cy="1189.4" r="12.4"/><circle cx="2054.2" cy="1206.2" r="12.4"/><circle cx="2055.4" cy="1190.7" r="12.4"/><circle cx="2056.6" cy="1324.5" r="12.4"/><circle cx="2057.8" cy="1305.8" r="12.4"/><circle cx="2059.0" cy="1320.0" r="12.4"/><circle cx="2060.2" cy="1242.5" r="12.4"/><circle cx="2061.4" cy="1235.4" r="12.4"/><circle cx="2062.6" cy="1306.7" r="12.4"/><circle cx="2063.7" cy="1315.7" r="12.4"/><circle cx="2064.9" cy="1272.5" r="12.4"/><circle cx="2066.1" cy="1334.7" r="12.4"/><circle cx="2067.3" cy="1367.4" r="12.4"/><circle cx="2068.5" cy="1348.9" r="12.4"/><circle cx="2069.7" cy="1277.7" r="12.4"/><circle cx="2070.9" cy="1223.0" r="12.4"/><circle cx="2072.1" cy="1314.7" r="12.4"/><circle cx="2073.3" cy="1338.7" r="12.4"/><circle cx="2074.4" cy="1310.3" r="12.4"/><circle cx="2075.6" cy="1298.7" r="12.4"/><circle cx="2076.8" cy="1284.3" r="12.4"/><circle cx="2078.0" cy="1361.6" r="12.4"/><circle cx="2079.2" cy="1323.4" r="12.4"/><circle cx="2080.4" cy="1337.1" r="12.4"/><circle cx="2081.6" cy="1279.7" r="12.4"/><circle cx="2082.8" cy="1300.3" r="12.4"/><circle cx="2084.0" cy="1348.1" r="12.4"/><circle cx="2085.1" cy="1287.2" r="12.4"/><circle cx="2086.3" cy="1276.1" r="12.4"/><circle cx="2087.5" cy="1325.0" r="12.4"/><circle cx="2088.7" cy="1400.3" r="12.4"/><circle cx="2089.9" cy="1347.5" r="12.4"/><circle cx="2091.1" cy="1406.1" r="12.4"/><circle cx="2092.3" cy="1323.3" r="12.4"/><circle cx="2093.5" cy="1309.2" r="12.4"/><circle cx="2094.7" cy="1249.2" r="12.4"/><circle cx="2095.8" cy="1289.8" r="12.4"/><circle cx="2097.0" cy="1393.4" r="12.4"/><circle cx="2098.2" cy="1333.1" r="12.4"/><circle cx="2099.4" cy="1351.5" r="12.4"/><circle cx="2100.6" cy="1347.4" r="12.4"/><circle cx="2101.8" cy="1301.4" r="12.4"/><circle cx="2103.0" cy="1288.0" r="12.4"/><circle cx="2104.2" cy="1298.9" r="12.4"/><circle cx="2105.3" cy="1325.4" r="12.4"/><circle cx="2106.5" cy="1307.7" r="12.4"/><circle cx="2107.7" cy="1304.9" r="12.4"/><circle cx="2108.9" cy="1283.3" r="12.4"/><circle cx="2110.1" cy="1231.2" r="12.4"/><circle cx="2111.3" cy="1251.8" r="12.4"/><circle cx="2112.5" cy="1217.6" r="12.4"/><circle cx="2113.7" cy="1320.3" r="12.4"/><circle cx="2114.9" cy="1187.0" r="12.4"/><circle cx="2116.0" cy="1257.9" r="12.4"/><circle cx="2117.2" cy="1396.9" r="12.4"/><circle cx="2118.4" cy="1256.5" r="12.4"/><circle cx="2119.6" cy="1222.0" r="12.4"/><circle cx="2120.8" cy="1279.8" r="12.4"/><circle cx="2122.0" cy="1352.3" r="12.4"/><circle cx="2123.2" cy="1276.9" r="12.4"/><circle cx="2124.4" cy="1322.1" r="12.4"/><circle cx="2125.6" cy="1295.0" r="12.4"/><circle cx="2126.7" cy="1274.1" r="12.4"/><circle cx="2127.9" cy="1465.5" r="12.4"/><circle cx="2129.1" cy="1304.2" r="12.4"/><circle cx="2130.3" cy="1276.3" r="12.4"/><circle cx="2131.5" cy="1283.2" r="12.4"/><circle cx="2132.7" cy="1335.4" r="12.4"/><circle cx="2133.9" cy="1341.4" r="12.4"/><circle cx="2135.1" cy="1364.3" r="12.4"/><circle cx="2136.3" cy="1333.6" r="12.4"/><circle cx="2137.4" cy="1252.2" r="12.4"/><circle cx="2138.6" cy="1361.9" r="12.4"/><circle cx="2139.8" cy="1320.7" r="12.4"/><circle cx="2141.0" cy="1325.2" r="12.4"/><circle cx="2142.2" cy="1263.4" r="12.4"/><circle cx="2143.4" cy="1310.7" r="12.4"/><circle cx="2144.6" cy="1299.0" r="12.4"/><circle cx="2145.8" cy="1336.3" r="12.4"/><circle cx="2146.9" cy="1255.4" r="12.4"/><circle cx="2148.1" cy="1335.3" r="12.4"/><circle cx="2149.3" cy="1336.1" r="12.4"/><circle cx="2150.5" cy="1264.2" r="12.4"/><circle cx="2151.7" cy="1289.2" r="12.4"/><circle cx="2152.9" cy="1273.5" r="12.4"/><circle cx="2154.1" cy="1365.5" r="12.4"/><circle cx="2155.3" cy="1192.8" r="12.4"/><circle cx="2156.5" cy="1290.3" r="12.4"/><circle cx="2157.6" cy="1221.1" r="12.4"/><circle cx="2158.8" cy="1278.1" r="12.4"/><circle cx="2160.0" cy="1344.7" r="12.4"/><circle cx="2161.2" cy="1258.8" r="12.4"/><circle cx="2162.4" cy="1295.5" r="12.4"/><circle cx="2163.6" cy="1241.6" r="12.4"/><circle cx="2164.8" cy="1384.8" r="12.4"/><circle cx="2166.0" cy="1327.2" r="12.4"/><circle cx="2167.2" cy="1336.6" r="12.4"/><circle cx="2168.3" cy="1205.4" r="12.4"/><circle cx="2169.5" cy="1211.7" r="12.4"/><circle cx="2170.7" cy="1323.5" r="12.4"/><circle cx="2171.9" cy="1257.1" r="12.4"/><circle cx="2173.1" cy="1256.3" r="12.4"/><circle cx="2174.3" cy="1291.2" r="12.4"/><circle cx="2175.5" cy="1214.2" r="12.4"/><circle cx="2176.7" cy="1322.6" r="12.4"/><circle cx="2177.9" cy="1284.5" r="12.4"/><circle cx="2179.0" cy="1311.3" r="12.4"/><circle cx="2180.2" cy="1251.5" r="12.4"/><circle cx="2181.4" cy="1311.6" r="12.4"/><circle cx="2182.6" cy="1246.1" r="12.4"/><circle cx="2183.8" cy="1332.3" r="12.4"/><circle cx="2185.0" cy="1340.8" r="12.4"/><circle cx="2186.2" cy="1325.1" r="12.4"/><circle cx="2187.4" cy="1299.8" r="12.4"/><circle cx="2188.5" cy="1303.4" r="12.4"/><circle cx="2189.7" cy="1168.2" r="12.4"/><circle cx="2190.9" cy="1322.6" r="12.4"/><circle cx="2192.1" cy="1266.2" r="12.4"/><circle cx="2193.3" cy="1290.4" r="12.4"/><circle cx="2194.5" cy="1274.7" r="12.4"/><circle cx="2195.7" cy="1224.0" r="12.4"/><circle cx="2196.9" cy="1269.1" r="12.4"/><circle cx="2198.1" cy="1340.9" r="12.4"/><circle cx="2199.2" cy="1380.3" r="12.4"/><circle cx="2200.4" cy="1269.7" r="12.4"/><circle cx="2201.6" cy="1254.6" r="12.4"/><circle cx="2202.8" cy="1381.3" r="12.4"/><circle cx="2204.0" cy="1255.7" r="12.4"/><circle cx="2205.2" cy="1407.8" r="12.4"/><circle cx="2206.4" cy="1304.3" r="12.4"/><circle cx="2207.6" cy="1254.7" r="12.4"/><circle cx="2208.8" cy="1356.0" r="12.4"/><circle cx="2209.9" cy="1391.8" r="12.4"/><circle cx="2211.1" cy="1227.1" r="12.4"/><circle cx="2212.3" cy="1379.7" r="12.4"/><circle cx="2213.5" cy="1278.1" r="12.4"/><circle cx="2214.7" cy="1369.7" r="12.4"/><circle cx="2215.9" cy="1266.0" r="12.4"/><circle cx="2217.1" cy="1205.2" r="12.4"/><circle cx="2218.3" cy="1306.9" r="12.4"/><circle cx="2219.5" cy="1327.6" r="12.4"/><circle cx="2220.6" cy="1386.3" r="12.4"/><circle cx="2221.8" cy="1365.0" r="12.4"/><circle cx="2223.0" cy="1304.7" r="12.4"/><circle cx="2224.2" cy="1254.3" r="12.4"/><circle cx="2225.4" cy="1247.4" r="12.4"/><circle cx="2226.6" cy="1265.5" r="12.4"/><circle cx="2227.8" cy="1245.9" r="12.4"/><circle cx="2229.0" cy="1281.3" r="12.4"/><circle cx="2230.1" cy="1189.0" r="12.4"/><circle cx="2231.3" cy="1321.5" r="12.4"/><circle cx="2232.5" cy="1316.0" r="12.4"/><circle cx="2233.7" cy="1457.4" r="12.4"/><circle cx="2234.9" cy="1373.3" r="12.4"/><circle cx="2236.1" cy="1307.5" r="12.4"/><circle cx="2237.3" cy="1359.7" r="12.4"/><circle cx="2238.5" cy="1257.0" r="12.4"/><circle cx="2239.7" cy="1285.5" r="12.4"/><circle cx="2240.8" cy="1217.1" r="12.4"/><circle cx="2242.0" cy="1383.6" r="12.4"/><circle cx="2243.2" cy="1334.1" r="12.4"/><circle cx="2244.4" cy="1234.6" r="12.4"/><circle cx="2245.6" cy="1286.4" r="12.4"/><circle cx="2246.8" cy="1336.8" r="12.4"/><circle cx="2248.0" cy="1303.5" r="12.4"/><circle cx="2249.2" cy="1292.0" r="12.4"/><circle cx="2250.4" cy="1226.0" r="12.4"/><circle cx="2251.5" cy="1230.3" r="12.4"/><circle cx="2252.7" cy="1265.7" r="12.4"/><circle cx="2253.9" cy="1311.8" r="12.4"/><circle cx="2255.1" cy="1224.9" r="12.4"/><circle cx="2256.3" cy="1210.6" r="12.4"/><circle cx="2257.5" cy="1330.6" r="12.4"/><circle cx="2258.7" cy="1225.2" r="12.4"/><circle cx="2259.9" cy="1331.0" r="12.4"/><circle cx="2261.1" cy="1287.8" r="12.4"/><circle cx="2262.2" cy="1324.1" r="12.4"/><circle cx="2263.4" cy="1371.9" r="12.4"/><circle cx="2264.6" cy="1316.9" r="12.4"/><circle cx="2265.8" cy="1324.2" r="12.4"/><circle cx="2267.0" cy="1236.1" r="12.4"/><circle cx="2268.2" cy="1248.3" r="12.4"/><circle cx="2269.4" cy="1321.8" r="12.4"/><circle cx="2270.6" cy="1370.0" r="12.4"/><circle cx="2271.8" cy="1365.2" r="12.4"/><circle cx="2272.9" cy="1409.2" r="12.4"/><circle cx="2274.1" cy="1307.8" r="12.4"/><circle cx="2275.3" cy="1303.2" r="12.4"/><circle cx="2276.5" cy="1350.0" r="12.4"/><circle cx="2277.7" cy="1296.3" r="12.4"/><circle cx="2278.9" cy="1294.1" r="12.4"/><circle cx="2280.1" cy="1245.2" r="12.4"/><circle cx="2281.3" cy="1354.6" r="12.4"/><circle cx="2282.4" cy="1246.4" r="12.4"/><circle cx="2283.6" cy="1332.9" r="12.4"/><circle cx="2284.8" cy="1232.7" r="12.4"/><circle cx="2286.0" cy="1366.2" r="12.4"/><circle cx="2287.2" cy="1253.2" r="12.4"/><circle cx="2288.4" cy="1353.5" r="12.4"/><circle cx="2289.6" cy="1227.5" r="12.4"/><circle cx="2290.8" cy="1285.0" r="12.4"/><circle cx="2292.0" cy="1371.4" r="12.4"/><circle cx="2293.1" cy="1264.4" r="12.4"/><circle cx="2294.3" cy="1311.1" r="12.4"/><circle cx="2295.5" cy="1282.7" r="12.4"/><circle cx="2296.7" cy="1195.4" r="12.4"/><circle cx="2297.9" cy="1325.3" r="12.4"/><circle cx="2299.1" cy="1332.5" r="12.4"/><circle cx="2300.3" cy="1249.3" r="12.4"/><circle cx="2301.5" cy="1340.6" r="12.4"/><circle cx="2302.7" cy="1262.5" r="12.4"/><circle cx="2303.8" cy="1250.6" r="12.4"/><circle cx="2305.0" cy="1301.8" r="12.4"/><circle cx="2306.2" cy="1263.8" r="12.4"/><circle cx="2307.4" cy="1412.6" r="12.4"/><circle cx="2308.6" cy="1220.4" r="12.4"/><circle cx="2309.8" cy="1338.9" r="12.4"/><circle cx="2311.0" cy="1349.0" r="12.4"/><circle cx="2312.2" cy="1198.4" r="12.4"/><circle cx="2313.4" cy="1204.8" r="12.4"/><circle cx="2314.5" cy="1321.6" r="12.4"/><circle cx="2315.7" cy="1265.0" r="12.4"/><circle cx="2316.9" cy="1313.5" r="12.4"/><circle cx="2318.1" cy="1356.1" r="12.4"/><circle cx="2319.3" cy="1276.1" r="12.4"/><circle cx="2320.5" cy="1241.9" r="12.4"/><circle cx="2321.7" cy="1185.6" r="12.4"/><circle cx="2322.9" cy="1311.5" r="12.4"/><circle cx="2324.0" cy="1253.3" r="12.4"/><circle cx="2325.2" cy="1322.2" r="12.4"/><circle cx="2326.4" cy="1319.5" r="12.4"/><circle cx="2327.6" cy="1232.2" r="12.4"/><circle cx="2328.8" cy="1392.1" r="12.4"/><circle cx="2330.0" cy="1356.4" r="12.4"/><circle cx="2331.2" cy="1342.4" r="12.4"/><circle cx="2332.4" cy="1231.1" r="12.4"/><circle cx="2333.6" cy="1267.1" r="12.4"/><circle cx="2334.7" cy="1256.1" r="12.4"/><circle cx="2335.9" cy="1260.8" r="12.4"/><circle cx="2337.1" cy="1224.7" r="12.4"/><circle cx="2338.3" cy="1300.0" r="12.4"/><circle cx="2339.5" cy="1287.5" r="12.4"/><circle cx="2340.7" cy="1290.9" r="12.4"/><circle cx="2341.9" cy="1243.6" r="12.4"/><circle cx="2343.1" cy="1337.9" r="12.4"/><circle cx="2344.3" cy="1273.7" r="12.4"/><circle cx="2345.4" cy="1159.5" r="12.4"/><circle cx="2346.6" cy="1227.9" r="12.4"/><circle cx="2347.8" cy="1253.8" r="12.4"/><circle cx="2349.0" cy="1310.4" r="12.4"/><circle cx="2350.2" cy="1247.0" r="12.4"/><circle cx="2351.4" cy="1252.1" r="12.4"/><circle cx="2352.6" cy="1234.7" r="12.4"/><circle cx="2353.8" cy="1305.0" r="12.4"/><circle cx="2355.0" cy="1249.8" r="12.4"/><circle cx="2356.1" cy="1245.3" r="12.4"/><circle cx="2357.3" cy="1239.5" r="12.4"/><circle cx="2358.5" cy="1310.4" r="12.4"/><circle cx="2359.7" cy="1255.2" r="12.4"/><circle cx="2360.9" cy="1203.0" r="12.4"/><circle cx="2362.1" cy="1321.1" r="12.4"/><circle cx="2363.3" cy="1247.2" r="12.4"/><circle cx="2364.5" cy="1299.0" r="12.4"/><circle cx="2365.6" cy="1297.3" r="12.4"/><circle cx="2366.8" cy="1342.5" r="12.4"/><circle cx="2368.0" cy="1329.9" r="12.4"/><circle cx="2369.2" cy="1240.5" r="12.4"/><circle cx="2370.4" cy="1258.3" r="12.4"/><circle cx="2371.6" cy="1202.6" r="12.4"/><circle cx="2372.8" cy="1352.6" r="12.4"/><circle cx="2374.0" cy="1290.0" r="12.4"/><circle cx="2375.2" cy="1347.6" r="12.4"/><circle cx="2376.3" cy="1258.9" r="12.4"/><circle cx="2377.5" cy="1190.4" r="12.4"/><circle cx="2378.7" cy="1369.3" r="12.4"/><circle cx="2379.9" cy="1296.2" r="12.4"/><circle cx="2381.1" cy="1303.8" r="12.4"/><circle cx="2382.3" cy="1305.7" r="12.4"/><circle cx="2383.5" cy="1345.6" r="12.4"/><circle cx="2384.7" cy="1344.8" r="12.4"/><circle cx="2385.9" cy="1227.4" r="12.4"/><circle cx="2387.0" cy="1360.8" r="12.4"/><circle cx="2388.2" cy="1267.4" r="12.4"/><circle cx="2389.4" cy="1263.9" r="12.4"/><circle cx="2390.6" cy="1376.5" r="12.4"/><circle cx="2391.8" cy="1327.1" r="12.4"/><circle cx="2393.0" cy="1253.4" r="12.4"/><circle cx="2394.2" cy="1188.3" r="12.4"/><circle cx="2395.4" cy="1267.5" r="12.4"/><circle cx="2396.6" cy="1283.6" r="12.4"/><circle cx="2397.7" cy="1253.0" r="12.4"/><circle cx="2398.9" cy="1201.4" r="12.4"/><circle cx="2400.1" cy="1225.3" r="12.4"/><circle cx="2401.3" cy="1204.6" r="12.4"/><circle cx="2402.5" cy="1280.6" r="12.4"/><circle cx="2403.7" cy="1315.4" r="12.4"/><circle cx="2404.9" cy="1330.3" r="12.4"/><circle cx="2406.1" cy="1239.0" r="12.4"/><circle cx="2407.3" cy="1292.1" r="12.4"/><circle cx="2408.4" cy="1313.3" r="12.4"/><circle cx="2409.6" cy="1258.4" r="12.4"/><circle cx="2410.8" cy="1281.7" r="12.4"/><circle cx="2412.0" cy="1402.4" r="12.4"/><circle cx="2413.2" cy="1302.1" r="12.4"/><circle cx="2414.4" cy="1339.0" r="12.4"/><circle cx="2415.6" cy="1261.2" r="12.4"/><circle cx="2416.8" cy="1284.2" r="12.4"/><circle cx="2417.9" cy="1196.6" r="12.4"/><circle cx="2419.1" cy="1273.3" r="12.4"/><circle cx="2420.3" cy="1336.7" r="12.4"/><circle cx="2421.5" cy="1380.1" r="12.4"/><circle cx="2422.7" cy="1334.2" r="12.4"/><circle cx="2423.9" cy="1308.5" r="12.4"/><circle cx="2425.1" cy="1279.8" r="12.4"/><circle cx="2426.3" cy="1249.1" r="12.4"/><circle cx="2427.5" cy="1276.0" r="12.4"/><circle cx="2428.6" cy="1322.8" r="12.4"/><circle cx="2429.8" cy="1251.2" r="12.4"/><circle cx="2431.0" cy="1348.7" r="12.4"/><circle cx="2432.2" cy="1249.0" r="12.4"/><circle cx="2433.4" cy="1214.4" r="12.4"/><circle cx="2434.6" cy="1250.9" r="12.4"/><circle cx="2435.8" cy="1219.9" r="12.4"/><circle cx="2437.0" cy="1230.7" r="12.4"/><circle cx="2438.2" cy="1362.5" r="12.4"/><circle cx="2439.3" cy="1288.4" r="12.4"/><circle cx="2440.5" cy="1307.7" r="12.4"/><circle cx="2441.7" cy="1358.8" r="12.4"/><circle cx="2442.9" cy="1363.5" r="12.4"/><circle cx="2444.1" cy="1265.1" r="12.4"/><circle cx="2445.3" cy="1364.5" r="12.4"/><circle cx="2446.5" cy="1309.3" r="12.4"/><circle cx="2447.7" cy="1289.0" r="12.4"/><circle cx="2448.9" cy="1315.9" r="12.4"/><circle cx="2450.0" cy="1224.4" r="12.4"/><circle cx="2451.2" cy="1257.7" r="12.4"/><circle cx="2452.4" cy="1297.7" r="12.4"/><circle cx="2453.6" cy="1343.5" r="12.4"/><circle cx="2454.8" cy="1290.6" r="12.4"/><circle cx="2456.0" cy="1298.0" r="12.4"/><circle cx="2457.2" cy="1353.1" r="12.4"/><circle cx="2458.4" cy="1371.7" r="12.4"/><circle cx="2459.5" cy="1333.4" r="12.4"/><circle cx="2460.7" cy="1353.8" r="12.4"/><circle cx="2461.9" cy="1258.0" r="12.4"/><circle cx="2463.1" cy="1258.2" r="12.4"/><circle cx="2464.3" cy="1287.7" r="12.4"/><circle cx="2465.5" cy="1249.5" r="12.4"/><circle cx="2466.7" cy="1237.4" r="12.4"/><circle cx="2467.9" cy="1354.2" r="12.4"/><circle cx="2469.1" cy="1256.2" r="12.4"/><circle cx="2470.2" cy="1223.3" r="12.4"/><circle cx="2471.4" cy="1297.6" r="12.4"/><circle cx="2472.6" cy="1374.5" r="12.4"/><circle cx="2473.8" cy="1282.2" r="12.4"/><circle cx="2475.0" cy="1347.9" r="12.4"/><circle cx="2476.2" cy="1258.5" r="12.4"/><circle cx="2477.4" cy="1258.4" r="12.4"/><circle cx="2478.6" cy="1251.2" r="12.4"/><circle cx="2479.8" cy="1282.8" r="12.4"/><circle cx="2480.9" cy="1390.0" r="12.4"/><circle cx="2482.1" cy="1235.3" r="12.4"/><circle cx="2483.3" cy="1384.0" r="12.4"/><circle cx="2484.5" cy="1242.2" r="12.4"/><circle cx="2485.7" cy="1281.9" r="12.4"/><circle cx="2486.9" cy="1341.0" r="12.4"/><circle cx="2488.1" cy="1327.0" r="12.4"/><circle cx="2489.3" cy="1306.5" r="12.4"/><circle cx="2490.5" cy="1207.8" r="12.4"/><circle cx="2491.6" cy="1309.6" r="12.4"/><circle cx="2492.8" cy="1237.1" r="12.4"/><circle cx="2494.0" cy="1415.9" r="12.4"/><circle cx="2495.2" cy="1277.3" r="12.4"/><circle cx="2496.4" cy="1297.0" r="12.4"/><circle cx="2497.6" cy="1228.5" r="12.4"/><circle cx="2498.8" cy="1256.6" r="12.4"/><circle cx="2500.0" cy="1215.2" r="12.4"/><circle cx="2501.1" cy="1330.5" r="12.4"/><circle cx="2502.3" cy="1259.7" r="12.4"/><circle cx="2503.5" cy="1300.9" r="12.4"/><circle cx="2504.7" cy="1235.0" r="12.4"/><circle cx="2505.9" cy="1240.3" r="12.4"/><circle cx="2507.1" cy="1334.5" r="12.4"/><circle cx="2508.3" cy="1212.9" r="12.4"/><circle cx="2509.5" cy="1187.6" r="12.4"/><circle cx="2510.7" cy="1278.5" r="12.4"/><circle cx="2511.8" cy="1205.6" r="12.4"/><circle cx="2513.0" cy="1242.4" r="12.4"/><circle cx="2514.2" cy="1318.2" r="12.4"/><circle cx="2515.4" cy="1231.6" r="12.4"/><circle cx="2516.6" cy="1324.7" r="12.4"/><circle cx="2517.8" cy="1246.0" r="12.4"/><circle cx="2519.0" cy="1365.9" r="12.4"/><circle cx="2520.2" cy="1361.0" r="12.4"/><circle cx="2521.4" cy="1267.7" r="12.4"/><circle cx="2522.5" cy="1283.9" r="12.4"/><circle cx="2523.7" cy="1248.4" r="12.4"/><circle cx="2524.9" cy="1298.8" r="12.4"/><circle cx="2526.1" cy="1349.1" r="12.4"/><circle cx="2527.3" cy="1210.2" r="12.4"/><circle cx="2528.5" cy="1330.5" r="12.4"/><circle cx="2529.7" cy="1210.8" r="12.4"/><circle cx="2530.9" cy="1231.5" r="12.4"/><circle cx="2532.1" cy="1192.1" r="12.4"/><circle cx="2533.2" cy="1382.4" r="12.4"/><circle cx="2534.4" cy="1269.8" r="12.4"/><circle cx="2535.6" cy="1279.5" r="12.4"/><circle cx="2536.8" cy="1231.7" r="12.4"/><circle cx="2538.0" cy="1322.4" r="12.4"/><circle cx="2539.2" cy="1178.8" r="12.4"/><circle cx="2540.4" cy="1262.9" r="12.4"/><circle cx="2541.6" cy="1379.3" r="12.4"/><circle cx="2542.8" cy="1240.6" r="12.4"/><circle cx="2543.9" cy="1259.3" r="12.4"/><circle cx="2545.1" cy="1293.2" r="12.4"/><circle cx="2546.3" cy="1222.7" r="12.4"/><circle cx="2547.5" cy="1266.8" r="12.4"/><circle cx="2548.7" cy="1322.9" r="12.4"/><circle cx="2549.9" cy="1285.9" r="12.4"/><circle cx="2551.1" cy="1298.0" r="12.4"/><circle cx="2552.3" cy="1264.6" r="12.4"/><circle cx="2553.4" cy="1304.2" r="12.4"/><circle cx="2554.6" cy="1294.9" r="12.4"/><circle cx="2555.8" cy="1376.0" r="12.4"/><circle cx="2557.0" cy="1343.0" r="12.4"/><circle cx="2558.2" cy="1292.6" r="12.4"/><circle cx="2559.4" cy="1194.5" r="12.4"/><circle cx="2560.6" cy="1354.5" r="12.4"/><circle cx="2561.8" cy="1361.5" r="12.4"/><circle cx="2563.0" cy="1266.1" r="12.4"/><circle cx="2564.1" cy="1208.2" r="12.4"/><circle cx="2565.3" cy="1246.8" r="12.4"/><circle cx="2566.5" cy="1352.2" r="12.4"/><circle cx="2567.7" cy="1241.8" r="12.4"/><circle cx="2568.9" cy="1268.4" r="12.4"/><circle cx="2570.1" cy="1299.7" r="12.4"/><circle cx="2571.3" cy="1351.0" r="12.4"/><circle cx="2572.5" cy="1279.0" r="12.4"/><circle cx="2573.7" cy="1269.4" r="12.4"/><circle cx="2574.8" cy="1243.0" r="12.4"/><circle cx="2576.0" cy="1357.4" r="12.4"/><circle cx="2577.2" cy="1330.1" r="12.4"/><circle cx="2578.4" cy="1270.8" r="12.4"/><circle cx="2579.6" cy="1208.8" r="12.4"/><circle cx="2580.8" cy="1242.3" r="12.4"/><circle cx="2582.0" cy="1318.7" r="12.4"/><circle cx="2583.2" cy="1252.5" r="12.4"/><circle cx="2584.4" cy="1343.9" r="12.4"/><circle cx="2585.5" cy="1317.2" r="12.4"/><circle cx="2586.7" cy="1317.1" r="12.4"/><circle cx="2587.9" cy="1342.2" r="12.4"/><circle cx="2589.1" cy="1337.3" r="12.4"/><circle cx="2590.3" cy="1262.1" r="12.4"/><circle cx="2591.5" cy="1288.6" r="12.4"/><circle cx="2592.7" cy="1416.6" r="12.4"/><circle cx="2593.9" cy="1236.7" r="12.4"/><circle cx="2595.0" cy="1270.5" r="12.4"/><circle cx="2596.2" cy="1351.2" r="12.4"/><circle cx="2597.4" cy="1281.6" r="12.4"/><circle cx="2598.6" cy="1245.1" r="12.4"/><circle cx="2599.8" cy="1218.9" r="12.4"/><circle cx="2601.0" cy="1308.9" r="12.4"/><circle cx="2602.2" cy="1333.9" r="12.4"/><circle cx="2603.4" cy="1350.8" r="12.4"/><circle cx="2604.6" cy="1276.8" r="12.4"/><circle cx="2605.7" cy="1331.5" r="12.4"/><circle cx="2606.9" cy="1223.8" r="12.4"/><circle cx="2608.1" cy="1284.4" r="12.4"/><circle cx="2609.3" cy="1239.7" r="12.4"/><circle cx="2610.5" cy="1285.4" r="12.4"/>
</g>
<g clip-path="url(#cB)"><polyline points="234.0,1349.5 236.0,1356.9 238.0,1362.6 240.0,1365.4 242.0,1365.1 244.0,1363.4 246.0,1362.6 248.0,1365.2 250.0,1370.5 252.0,1376.1 254.0,1379.8 256.0,1382.0 258.0,1384.9 260.0,1390.4 262.0,1398.4 264.0,1392.7 266.0,1385.1 268.0,1374.7 270.0,1361.9 272.0,1353.5 274.0,1354.2 276.0,1354.7 278.0,1355.5 280.0,1357.2 282.0,1360.1 284.0,1358.0 286.0,1351.8 288.0,1345.9 290.0,1339.8 292.0,1333.1 294.0,1325.6 296.0,1317.6 298.0,1317.4 300.0,1324.8 302.0,1333.8 304.0,1343.3 306.0,1342.2 308.0,1341.3 310.0,1340.1 312.0,1337.7 314.0,1333.4 316.0,1330.6 318.0,1336.7 320.0,1342.4 322.0,1347.2 324.0,1350.6 326.0,1353.9 328.0,1353.2 330.0,1347.4 332.0,1344.0 334.0,1341.6 336.0,1351.7 338.0,1362.7 340.0,1374.0 342.0,1385.5 344.0,1396.4 346.0,1405.6 348.0,1407.0 350.0,1406.3 352.0,1403.2 354.0,1397.8 356.0,1390.9 358.0,1383.9 360.0,1378.4 362.0,1375.6 364.0,1365.9 366.0,1356.2 368.0,1345.7 370.0,1334.7 372.0,1325.1 374.0,1320.2 376.0,1329.8 378.0,1339.9 380.0,1348.5 382.0,1353.9 384.0,1350.8 386.0,1339.6 388.0,1329.0 390.0,1321.5 392.0,1331.2 394.0,1342.9 396.0,1353.4 398.0,1354.4 400.0,1344.7 402.0,1333.3 404.0,1322.4 406.0,1313.6 408.0,1319.1 410.0,1328.3 412.0,1337.3 414.0,1346.1 416.0,1354.7 418.0,1363.2 420.0,1360.2 422.0,1356.5 424.0,1352.4 426.0,1347.3 428.0,1341.0 430.0,1333.7 432.0,1326.7 434.0,1329.0 436.0,1333.8 438.0,1340.4 440.0,1346.0 442.0,1350.1 444.0,1354.4 446.0,1358.3 448.0,1361.7 450.0,1364.5 452.0,1372.0 454.0,1381.4 456.0,1389.3 458.0,1395.6 460.0,1401.3 462.0,1387.1 464.0,1374.6 466.0,1361.9 468.0,1347.5 470.0,1335.3 472.0,1329.5 474.0,1323.9 476.0,1318.3 478.0,1313.5 480.0,1310.8 482.0,1313.5 484.0,1319.2 486.0,1322.5 488.0,1322.3 490.0,1320.1 492.0,1322.1 494.0,1327.5 496.0,1335.3 498.0,1343.7 500.0,1350.9 502.0,1357.4 504.0,1364.6 506.0,1356.4 508.0,1346.5 510.0,1335.4 512.0,1323.0 514.0,1309.5 516.0,1296.2 518.0,1299.0 520.0,1301.2 522.0,1304.4 524.0,1304.8 526.0,1304.1 528.0,1305.5 530.0,1308.1 532.0,1310.8 534.0,1325.0 536.0,1338.3 538.0,1349.3 540.0,1358.3 542.0,1362.1 544.0,1353.7 546.0,1346.0 548.0,1338.7 550.0,1331.0 552.0,1329.0 554.0,1331.6 556.0,1335.4 558.0,1340.8 560.0,1347.2 562.0,1345.1 564.0,1341.8 566.0,1338.9 568.0,1337.8 570.0,1341.0 572.0,1351.2 574.0,1359.9 576.0,1365.9 578.0,1354.5 580.0,1336.5 582.0,1316.7 584.0,1296.6 586.0,1278.2 588.0,1263.0 590.0,1264.1 592.0,1266.8 594.0,1269.6 596.0,1273.0 598.0,1278.0 600.0,1283.6 602.0,1288.3 604.0,1291.4 606.0,1293.9 608.0,1296.7 610.0,1299.8 612.0,1302.3 614.0,1303.7 616.0,1304.1 618.0,1306.9 620.0,1309.2 622.0,1311.3 624.0,1313.7 626.0,1316.3 628.0,1315.6 630.0,1301.9 632.0,1288.2 634.0,1276.5 636.0,1267.6 638.0,1260.6 640.0,1257.4 642.0,1260.4 644.0,1262.5 646.0,1263.6 648.0,1263.7 650.0,1263.3 652.0,1263.4 654.0,1264.8 656.0,1267.6 658.0,1271.3 660.0,1275.4 662.0,1279.2 664.0,1281.7 666.0,1284.8 668.0,1289.3 670.0,1294.9 672.0,1301.7 674.0,1308.3 676.0,1313.2 678.0,1310.8 680.0,1305.6 682.0,1301.9 684.0,1300.9 686.0,1302.2 688.0,1304.0 690.0,1304.7 692.0,1304.4 694.0,1303.5 696.0,1302.8 698.0,1302.1 700.0,1300.6 702.0,1294.7 704.0,1287.6 706.0,1279.9 708.0,1272.0 710.0,1264.4 712.0,1257.6 714.0,1252.8 716.0,1258.6 718.0,1265.1 720.0,1272.9 722.0,1282.8 724.0,1290.5 726.0,1292.3 728.0,1290.9 730.0,1286.4 732.0,1281.9 734.0,1280.3 736.0,1282.9 738.0,1289.5 740.0,1297.9 742.0,1303.9 744.0,1306.1 746.0,1304.2 748.0,1299.5 750.0,1292.0 752.0,1285.1 754.0,1281.9 756.0,1280.9 758.0,1279.9 760.0,1277.0 762.0,1272.9 764.0,1269.2 766.0,1266.9 768.0,1264.3 770.0,1260.7 772.0,1264.7 774.0,1267.8 776.0,1272.1 778.0,1279.1 780.0,1289.1 782.0,1300.7 784.0,1311.9 786.0,1321.3 788.0,1310.9 790.0,1301.4 792.0,1293.8 794.0,1286.2 796.0,1281.9 798.0,1286.4 800.0,1288.8 802.0,1290.9 804.0,1284.7 806.0,1278.9 808.0,1274.4 810.0,1269.3 812.0,1264.3 814.0,1268.4 816.0,1271.8 818.0,1276.3 820.0,1283.1 822.0,1288.8 824.0,1292.2 826.0,1294.9 828.0,1295.3 830.0,1292.4 832.0,1287.2 834.0,1282.0 836.0,1273.4 838.0,1268.2 840.0,1264.9 842.0,1261.0 844.0,1273.2 846.0,1286.4 848.0,1300.4 850.0,1314.7 852.0,1327.2 854.0,1332.8 856.0,1333.4 858.0,1332.2 860.0,1332.2 862.0,1335.5 864.0,1343.3 866.0,1355.3 868.0,1369.3 870.0,1374.8 872.0,1370.7 874.0,1363.9 876.0,1355.7 878.0,1347.2 880.0,1338.3 882.0,1328.7 884.0,1319.1 886.0,1311.0 888.0,1308.3 890.0,1319.0 892.0,1329.7 894.0,1339.0 896.0,1346.4 898.0,1352.2 900.0,1349.0 902.0,1332.9 904.0,1316.5 906.0,1301.1 908.0,1287.4 910.0,1275.8 912.0,1265.4 914.0,1262.7 916.0,1271.4 918.0,1281.4 920.0,1290.7 922.0,1297.2 924.0,1292.7 926.0,1284.0 928.0,1275.9 930.0,1269.4 932.0,1264.3 934.0,1259.8 936.0,1255.1 938.0,1250.0 940.0,1260.7 942.0,1283.2 944.0,1306.6 946.0,1329.2 948.0,1349.9 950.0,1368.4 952.0,1363.6 954.0,1351.5 956.0,1338.8 958.0,1325.8 960.0,1315.4 962.0,1320.6 964.0,1329.8 966.0,1341.7 968.0,1339.7 970.0,1327.2 972.0,1313.3 974.0,1298.4 976.0,1282.8 978.0,1266.5 980.0,1274.2 982.0,1287.1 984.0,1298.2 986.0,1308.1 988.0,1317.7 990.0,1328.1 992.0,1315.8 994.0,1304.2 996.0,1294.7 998.0,1287.5 1000.0,1281.5 1002.0,1275.1 1004.0,1270.3 1006.0,1262.7 1008.0,1253.6 1010.0,1244.9 1012.0,1237.6 1014.0,1236.5 1016.0,1246.8 1018.0,1258.7 1020.0,1270.3 1022.0,1280.2 1024.0,1288.7 1026.0,1297.0 1028.0,1301.3 1030.0,1297.4 1032.0,1293.8 1034.0,1291.2 1036.0,1289.4 1038.0,1286.7 1040.0,1280.8 1042.0,1274.9 1044.0,1274.2 1046.0,1273.6 1048.0,1275.3 1050.0,1279.8 1052.0,1286.7 1054.0,1294.8 1056.0,1301.3 1058.0,1304.2 1060.0,1307.2 1062.0,1311.0 1064.0,1315.2 1066.0,1318.7 1068.0,1316.4 1070.0,1309.2 1072.0,1301.5 1074.0,1293.3 1076.0,1284.4 1078.0,1274.7 1080.0,1271.7 1082.0,1272.5 1084.0,1275.1 1086.0,1279.8 1088.0,1285.8 1090.0,1291.7 1092.0,1291.4 1094.0,1289.3 1096.0,1286.6 1098.0,1284.0 1100.0,1283.3 1102.0,1287.4 1104.0,1290.2 1106.0,1292.2 1108.0,1295.0 1110.0,1299.4 1112.0,1294.5 1114.0,1274.4 1116.0,1255.1 1118.0,1258.2 1120.0,1260.2 1122.0,1260.7 1124.0,1260.5 1126.0,1261.4 1128.0,1264.4 1130.0,1270.2 1132.0,1281.5 1134.0,1295.2 1136.0,1310.5 1138.0,1325.3 1140.0,1337.5 1142.0,1346.4 1144.0,1354.0 1146.0,1362.5 1148.0,1373.0 1150.0,1362.7 1152.0,1344.7 1154.0,1324.4 1156.0,1302.4 1158.0,1280.0 1160.0,1258.3 1162.0,1272.3 1164.0,1289.8 1166.0,1292.3 1168.0,1285.2 1170.0,1277.4 1172.0,1268.1 1174.0,1257.3 1176.0,1246.4 1178.0,1237.1 1180.0,1235.8 1182.0,1239.3 1184.0,1242.9 1186.0,1245.2 1188.0,1245.1 1190.0,1252.8 1192.0,1259.7 1194.0,1267.6 1196.0,1278.0 1198.0,1288.2 1200.0,1293.6 1202.0,1296.8 1204.0,1298.2 1206.0,1300.2 1208.0,1304.9 1210.0,1312.1 1212.0,1319.6 1214.0,1324.8 1216.0,1327.3 1218.0,1329.1 1220.0,1332.5 1222.0,1333.5 1224.0,1333.1 1226.0,1331.8 1228.0,1329.1 1230.0,1325.9 1232.0,1317.3 1234.0,1309.9 1236.0,1302.8 1238.0,1294.9 1240.0,1285.8 1242.0,1276.4 1244.0,1267.7 1246.0,1260.1 1248.0,1252.6 1250.0,1253.1 1252.0,1255.8 1254.0,1257.4 1256.0,1259.6 1258.0,1263.8 1260.0,1269.9 1262.0,1276.5 1264.0,1281.5 1266.0,1282.8 1268.0,1281.9 1270.0,1282.4 1272.0,1286.1 1274.0,1292.8 1276.0,1299.8 1278.0,1308.5 1280.0,1315.7 1282.0,1320.5 1284.0,1324.3 1286.0,1328.9 1288.0,1335.0 1290.0,1325.6 1292.0,1314.4 1294.0,1302.5 1296.0,1289.7 1298.0,1276.3 1300.0,1263.8 1302.0,1268.1 1304.0,1272.7 1306.0,1277.9 1308.0,1283.8 1310.0,1290.2 1312.0,1296.1 1314.0,1300.1 1316.0,1291.0 1318.0,1285.8 1320.0,1285.4 1322.0,1287.5 1324.0,1287.7 1326.0,1282.9 1328.0,1274.2 1330.0,1277.0 1332.0,1279.0 1334.0,1281.5 1336.0,1285.0 1338.0,1289.8 1340.0,1293.6 1342.0,1290.4 1344.0,1286.8 1346.0,1281.5 1348.0,1275.6 1350.0,1271.2 1352.0,1269.5 1354.0,1268.5 1356.0,1265.2 1358.0,1259.0 1360.0,1251.9 1362.0,1245.9 1364.0,1241.9 1366.0,1238.8 1368.0,1239.8 1370.0,1249.7 1372.0,1259.6 1374.0,1269.0 1376.0,1278.0 1378.0,1287.4 1380.0,1289.8 1382.0,1283.1 1384.0,1275.5 1386.0,1266.5 1388.0,1257.2 1390.0,1262.1 1392.0,1271.0 1394.0,1279.6 1396.0,1287.3 1398.0,1294.0 1400.0,1300.4 1402.0,1306.7 1404.0,1313.3 1406.0,1307.0 1408.0,1294.1 1410.0,1282.0 1412.0,1271.3 1414.0,1262.2 1416.0,1253.7 1418.0,1255.6 1420.0,1259.8 1422.0,1263.7 1424.0,1266.5 1426.0,1266.5 1428.0,1264.4 1430.0,1262.6 1432.0,1263.5 1434.0,1267.2 1436.0,1273.8 1438.0,1279.9 1440.0,1285.0 1442.0,1288.8 1444.0,1291.3 1446.0,1292.4 1448.0,1292.6 1450.0,1287.3 1452.0,1283.0 1454.0,1280.1 1456.0,1278.5 1458.0,1280.2 1460.0,1286.4 1462.0,1292.0 1464.0,1296.8 1466.0,1292.0 1468.0,1285.4 1470.0,1278.4 1472.0,1270.6 1474.0,1261.9 1476.0,1252.0 1478.0,1241.3 1480.0,1238.1 1482.0,1237.3 1484.0,1237.9 1486.0,1238.9 1488.0,1241.6 1490.0,1250.5 1492.0,1259.2 1494.0,1267.6 1496.0,1277.5 1498.0,1290.1 1500.0,1299.5 1502.0,1299.8 1504.0,1297.6 1506.0,1292.9 1508.0,1286.7 1510.0,1285.1 1512.0,1286.9 1514.0,1291.2 1516.0,1297.8 1518.0,1304.5 1520.0,1308.0 1522.0,1306.7 1524.0,1301.8 1526.0,1295.6 1528.0,1287.9 1530.0,1278.3 1532.0,1269.9 1534.0,1263.9 1536.0,1261.0 1538.0,1260.6 1540.0,1260.9 1542.0,1259.4 1544.0,1254.8 1546.0,1249.6 1548.0,1256.9 1550.0,1266.2 1552.0,1277.1 1554.0,1287.7 1556.0,1296.7 1558.0,1304.1 1560.0,1310.3 1562.0,1315.4 1564.0,1305.9 1566.0,1295.8 1568.0,1287.2 1570.0,1281.6 1572.0,1279.8 1574.0,1280.6 1576.0,1281.2 1578.0,1279.4 1580.0,1273.4 1582.0,1265.1 1584.0,1257.7 1586.0,1252.3 1588.0,1248.0 1590.0,1243.4 1592.0,1247.7 1594.0,1253.2 1596.0,1260.7 1598.0,1269.4 1600.0,1277.6 1602.0,1282.7 1604.0,1279.4 1606.0,1275.2 1608.0,1271.8 1610.0,1269.8 1612.0,1269.6 1614.0,1270.7 1616.0,1272.9 1618.0,1279.1 1620.0,1283.9 1622.0,1287.5 1624.0,1289.8 1626.0,1290.2 1628.0,1289.1 1630.0,1287.6 1632.0,1288.1 1634.0,1292.3 1636.0,1293.1 1638.0,1293.9 1640.0,1294.2 1642.0,1293.1 1644.0,1290.5 1646.0,1285.8 1648.0,1278.5 1650.0,1273.0 1652.0,1268.0 1654.0,1263.7 1656.0,1260.6 1658.0,1259.0 1660.0,1259.7 1662.0,1267.8 1664.0,1276.0 1666.0,1282.6 1668.0,1287.5 1670.0,1292.3 1672.0,1298.3 1674.0,1305.3 1676.0,1299.8 1678.0,1294.4 1680.0,1287.4 1682.0,1284.6 1684.0,1285.1 1686.0,1284.6 1688.0,1284.8 1690.0,1286.2 1692.0,1275.8 1694.0,1264.5 1696.0,1254.3 1698.0,1246.0 1700.0,1239.5 1702.0,1234.8 1704.0,1251.9 1706.0,1267.2 1708.0,1282.6 1710.0,1299.8 1712.0,1318.0 1714.0,1329.8 1716.0,1321.6 1718.0,1310.2 1720.0,1297.9 1722.0,1287.1 1724.0,1278.2 1726.0,1276.1 1728.0,1282.6 1730.0,1289.8 1732.0,1299.2 1734.0,1311.3 1736.0,1324.8 1738.0,1329.7 1740.0,1326.1 1742.0,1319.0 1744.0,1310.0 1746.0,1301.5 1748.0,1303.5 1750.0,1307.5 1752.0,1311.4 1754.0,1314.8 1756.0,1318.3 1758.0,1322.4 1760.0,1326.9 1762.0,1315.9 1764.0,1303.6 1766.0,1291.3 1768.0,1279.1 1770.0,1267.2 1772.0,1258.2 1774.0,1268.7 1776.0,1278.5 1778.0,1286.5 1780.0,1292.6 1782.0,1298.5 1784.0,1305.6 1786.0,1314.8 1788.0,1325.6 1790.0,1317.3 1792.0,1307.3 1794.0,1295.6 1796.0,1282.7 1798.0,1274.4 1800.0,1277.0 1802.0,1281.2 1804.0,1286.6 1806.0,1293.2 1808.0,1292.8 1810.0,1287.9 1812.0,1281.3 1814.0,1272.3 1816.0,1261.4 1818.0,1264.9 1820.0,1269.5 1822.0,1276.1 1824.0,1284.4 1826.0,1293.0 1828.0,1300.7 1830.0,1306.5 1832.0,1310.9 1834.0,1314.9 1836.0,1319.5 1838.0,1317.2 1840.0,1308.4 1842.0,1300.6 1844.0,1293.7 1846.0,1297.9 1848.0,1300.8 1850.0,1302.0 1852.0,1302.8 1854.0,1304.8 1856.0,1308.2 1858.0,1311.7 1860.0,1313.6 1862.0,1313.5 1864.0,1304.7 1866.0,1292.1 1868.0,1279.9 1870.0,1269.1 1872.0,1260.4 1874.0,1259.3 1876.0,1258.0 1878.0,1255.2 1880.0,1250.8 1882.0,1245.7 1884.0,1241.1 1886.0,1238.0 1888.0,1236.8 1890.0,1236.9 1892.0,1246.5 1894.0,1258.3 1896.0,1268.5 1898.0,1278.7 1900.0,1290.3 1902.0,1304.0 1904.0,1301.7 1906.0,1297.3 1908.0,1290.7 1910.0,1280.7 1912.0,1267.8 1914.0,1255.7 1916.0,1264.2 1918.0,1276.4 1920.0,1291.6 1922.0,1307.8 1924.0,1322.9 1926.0,1336.4 1928.0,1346.6 1930.0,1332.4 1932.0,1318.2 1934.0,1303.5 1936.0,1287.9 1938.0,1271.0 1940.0,1257.0 1942.0,1254.1 1944.0,1251.3 1946.0,1248.9 1948.0,1247.3 1950.0,1247.0 1952.0,1249.4 1954.0,1257.8 1956.0,1275.4 1958.0,1292.5 1960.0,1307.3 1962.0,1319.4 1964.0,1329.9 1966.0,1340.2 1968.0,1346.3 1970.0,1340.3 1972.0,1334.0 1974.0,1325.1 1976.0,1313.1 1978.0,1300.1 1980.0,1289.0 1982.0,1280.4 1984.0,1274.7 1986.0,1280.9 1988.0,1286.2 1990.0,1290.6 1992.0,1294.1 1994.0,1292.9 1996.0,1288.1 1998.0,1286.2 2000.0,1286.1 2002.0,1284.9 2004.0,1290.4 2006.0,1294.9 2008.0,1298.0 2010.0,1301.2 2012.0,1305.5 2014.0,1307.5 2016.0,1310.5 2018.0,1300.2 2020.0,1285.9 2022.0,1273.0 2024.0,1265.4 2026.0,1258.5 2028.0,1253.8 2030.0,1251.9 2032.0,1251.8 2034.0,1257.0 2036.0,1266.0 2038.0,1273.6 2040.0,1280.3 2042.0,1286.5 2044.0,1279.5 2046.0,1271.1 2048.0,1264.4 2050.0,1260.1 2052.0,1256.7 2054.0,1252.8 2056.0,1267.9 2058.0,1280.3 2060.0,1291.6 2062.0,1304.2 2064.0,1319.6 2066.0,1337.3 2068.0,1354.1 2070.0,1351.5 2072.0,1347.1 2074.0,1342.7 2076.0,1340.2 2078.0,1343.2 2080.0,1352.3 2082.0,1359.7 2084.0,1365.4 2086.0,1370.3 2088.0,1365.8 2090.0,1356.3 2092.0,1344.0 2094.0,1329.3 2096.0,1314.9 2098.0,1304.4 2100.0,1299.6 2102.0,1296.1 2104.0,1291.9 2106.0,1284.7 2108.0,1274.0 2110.0,1261.5 2112.0,1249.5 2114.0,1252.2 2116.0,1257.8 2118.0,1264.4 2120.0,1270.8 2122.0,1276.0 2124.0,1279.6 2126.0,1282.4 2128.0,1288.2 2130.0,1296.0 2132.0,1305.5 2134.0,1315.4 2136.0,1324.7 2138.0,1334.1 2140.0,1344.5 2142.0,1355.9 2144.0,1357.0 2146.0,1353.2 2148.0,1347.4 2150.0,1340.7 2152.0,1335.0 2154.0,1331.3 2156.0,1326.9 2158.0,1321.2 2160.0,1311.6 2162.0,1297.6 2164.0,1281.3 2166.0,1266.0 2168.0,1254.2 2170.0,1245.4 2172.0,1249.1 2174.0,1256.6 2176.0,1266.3 2178.0,1278.7 2180.0,1290.3 2182.0,1290.5 2184.0,1286.3 2186.0,1278.1 2188.0,1268.6 2190.0,1267.4 2192.0,1277.2 2194.0,1291.4 2196.0,1306.9 2198.0,1320.0 2200.0,1321.0 2202.0,1316.0 2204.0,1309.6 2206.0,1304.6 2208.0,1302.4 2210.0,1302.3 2212.0,1296.9 2214.0,1290.3 2216.0,1282.7 2218.0,1274.9 2220.0,1267.1 2222.0,1259.7 2224.0,1254.0 2226.0,1270.5 2228.0,1288.7 2230.0,1306.9 2232.0,1323.7 2234.0,1339.1 2236.0,1348.3 2238.0,1335.8 2240.0,1322.2 2242.0,1308.8 2244.0,1296.7 2246.0,1286.5 2248.0,1277.8 2250.0,1270.1 2252.0,1263.2 2254.0,1269.4 2256.0,1273.9 2258.0,1276.9 2260.0,1279.7 2262.0,1283.7 2264.0,1289.6 2266.0,1297.0 2268.0,1303.7 2270.0,1308.5 2272.0,1309.6 2274.0,1307.5 2276.0,1304.7 2278.0,1303.5 2280.0,1304.4 2282.0,1306.7 2284.0,1310.2 2286.0,1315.8 2288.0,1321.4 2290.0,1325.0 2292.0,1325.1 2294.0,1320.9 2296.0,1314.2 2298.0,1307.6 2300.0,1303.3 2302.0,1300.5 2304.0,1299.3 2306.0,1298.9 2308.0,1297.3 2310.0,1293.9 2312.0,1290.2 2314.0,1288.1 2316.0,1291.5 2318.0,1297.9 2320.0,1303.5 2322.0,1307.6 2324.0,1310.9 2326.0,1314.2 2328.0,1311.5 2330.0,1307.7 2332.0,1303.5 2334.0,1297.5 2336.0,1290.0 2338.0,1282.8 2340.0,1277.5 2342.0,1272.9 2344.0,1266.7 2346.0,1258.1 2348.0,1252.1 2350.0,1256.1 2352.0,1263.1 2354.0,1271.5 2356.0,1278.7 2358.0,1283.3 2360.0,1285.9 2362.0,1285.4 2364.0,1279.1 2366.0,1274.6 2368.0,1270.6 2370.0,1265.9 2372.0,1260.9 2374.0,1264.0 2376.0,1276.0 2378.0,1288.0 2380.0,1299.2 2382.0,1310.5 2384.0,1322.8 2386.0,1321.2 2388.0,1311.2 2390.0,1299.6 2392.0,1287.1 2394.0,1274.5 2396.0,1261.5 2398.0,1261.4 2400.0,1261.6 2402.0,1259.7 2404.0,1257.9 2406.0,1258.8 2408.0,1263.9 2410.0,1273.6 2412.0,1286.7 2414.0,1292.7 2416.0,1294.0 2418.0,1292.9 2420.0,1287.6 2422.0,1278.4 2424.0,1281.7 2426.0,1285.6 2428.0,1291.7 2430.0,1300.0 2432.0,1309.0 2434.0,1315.2 2436.0,1310.6 2438.0,1303.8 2440.0,1295.8 2442.0,1288.5 2444.0,1283.8 2446.0,1282.0 2448.0,1284.6 2450.0,1297.1 2452.0,1310.1 2454.0,1322.7 2456.0,1321.3 2458.0,1312.4 2460.0,1301.7 2462.0,1290.6 2464.0,1279.6 2466.0,1268.3 2468.0,1268.8 2470.0,1269.4 2472.0,1268.8 2474.0,1268.2 2476.0,1269.6 2478.0,1274.7 2480.0,1283.8 2482.0,1295.2 2484.0,1302.1 2486.0,1305.1 2488.0,1304.6 2490.0,1300.8 2492.0,1294.7 2494.0,1288.0 2496.0,1282.4 2498.0,1275.7 2500.0,1270.1 2502.0,1265.7 2504.0,1261.0 2506.0,1254.8 2508.0,1246.9 2510.0,1238.4 2512.0,1241.1 2514.0,1249.2 2516.0,1259.6 2518.0,1271.4 2520.0,1283.3 2522.0,1294.1 2524.0,1290.2 2526.0,1283.7 2528.0,1276.4 2530.0,1268.7 2532.0,1260.8 2534.0,1253.4 2536.0,1250.2 2538.0,1249.2 2540.0,1250.8 2542.0,1254.3 2544.0,1258.4 2546.0,1264.6 2548.0,1276.7 2550.0,1286.4 2552.0,1293.7 2554.0,1299.5 2556.0,1304.9 2558.0,1310.5 2560.0,1316.3 2562.0,1319.2 2564.0,1306.9 2566.0,1295.8 2568.0,1286.9 2570.0,1279.9 2572.0,1272.8 2574.0,1264.2 2576.0,1256.3 2578.0,1261.9 2580.0,1269.6 2582.0,1281.0 2584.0,1295.1 2586.0,1309.5 2588.0,1320.9 2590.0,1325.4 2592.0,1314.9 2594.0,1303.3 2596.0,1292.9 2598.0,1284.3 2600.0,1276.4 2602.0,1268.7 2604.0,1262.9 2606.0,1264.5 2608.0,1268.1 2610.0,1272.2 2612.0,1275.2" fill="none" stroke="#AA3377" stroke-width="13.5" stroke-linejoin="round" stroke-linecap="square"/></g>
<g clip-path="url(#hT)" fill="#4477AA" fill-opacity="0.5" stroke="#000" stroke-opacity="0.5" stroke-width="4.17">
<rect x="2733.4" y="409.00" width="3.00" height="7.98"/><rect x="2733.4" y="432.94" width="3.00" height="7.98"/><rect x="2733.4" y="448.90" width="3.00" height="7.98"/><rect x="2733.4" y="456.88" width="20.20" height="7.98"/><rect x="2733.4" y="464.86" width="23.00" height="7.98"/><rect x="2733.4" y="472.84" width="23.00" height="7.98"/><rect x="2733.4" y="480.82" width="66.00" height="7.98"/><rect x="2733.4" y="488.80" width="113.40" height="7.98"/><rect x="2733.4" y="496.78" width="134.30" height="7.98"/><rect x="2733.4" y="504.76" width="170.20" height="7.98"/><rect x="2733.4" y="512.74" width="191.50" height="7.98"/><rect x="2733.4" y="520.72" width="249.20" height="7.98"/><rect x="2733.4" y="528.70" width="275.00" height="7.98"/><rect x="2733.4" y="536.68" width="275.00" height="7.98"/><rect x="2733.4" y="544.66" width="374.20" height="7.98"/><rect x="2733.4" y="552.64" width="303.00" height="7.98"/><rect x="2733.4" y="560.62" width="334.30" height="7.98"/><rect x="2733.4" y="568.60" width="360.30" height="7.98"/><rect x="2733.4" y="576.58" width="346.00" height="7.98"/><rect x="2733.4" y="584.56" width="241.20" height="7.98"/><rect x="2733.4" y="592.54" width="226.90" height="7.98"/><rect x="2733.4" y="600.52" width="172.20" height="7.98"/><rect x="2733.4" y="608.50" width="172.20" height="7.98"/><rect x="2733.4" y="616.48" width="151.10" height="7.98"/><rect x="2733.4" y="624.46" width="113.10" height="7.98"/><rect x="2733.4" y="632.44" width="113.10" height="7.98"/><rect x="2733.4" y="640.42" width="66.20" height="7.98"/><rect x="2733.4" y="648.40" width="49.10" height="7.98"/><rect x="2733.4" y="656.38" width="46.20" height="7.98"/><rect x="2733.4" y="664.36" width="32.00" height="7.98"/><rect x="2733.4" y="672.34" width="23.30" height="7.98"/><rect x="2733.4" y="680.32" width="13.10" height="7.98"/><rect x="2733.4" y="688.30" width="15.90" height="7.98"/><rect x="2733.4" y="696.28" width="6.00" height="7.98"/><rect x="2733.4" y="704.26" width="2.40" height="7.98"/><rect x="2733.4" y="712.24" width="2.40" height="7.98"/><rect x="2733.4" y="728.20" width="2.40" height="7.98"/><rect x="2733.4" y="736.18" width="2.40" height="7.98"/><rect x="2733.4" y="752.14" width="6.00" height="7.98"/>
</g>
<g clip-path="url(#hB)" fill="#AA3377" fill-opacity="0.5" stroke="#000" stroke-opacity="0.5" stroke-width="4.17">
<rect x="2733.4" y="1135.70" width="3.20" height="8.40"/><rect x="2733.4" y="1152.50" width="3.20" height="8.40"/><rect x="2733.4" y="1160.90" width="4.80" height="8.40"/><rect x="2733.4" y="1169.30" width="25.00" height="8.40"/><rect x="2733.4" y="1177.70" width="20.20" height="8.40"/><rect x="2733.4" y="1186.10" width="57.90" height="8.40"/><rect x="2733.4" y="1194.50" width="85.10" height="8.40"/><rect x="2733.4" y="1202.90" width="99.10" height="8.40"/><rect x="2733.4" y="1211.30" width="80.10" height="8.40"/><rect x="2733.4" y="1219.70" width="153.10" height="8.40"/><rect x="2733.4" y="1228.10" width="177.00" height="8.40"/><rect x="2733.4" y="1236.50" width="161.20" height="8.40"/><rect x="2733.4" y="1244.90" width="220.20" height="8.40"/><rect x="2733.4" y="1253.30" width="227.10" height="8.40"/><rect x="2733.4" y="1261.70" width="227.10" height="8.40"/><rect x="2733.4" y="1270.10" width="268.00" height="8.40"/><rect x="2733.4" y="1278.50" width="270.20" height="8.40"/><rect x="2733.4" y="1286.90" width="309.90" height="8.40"/><rect x="2733.4" y="1295.30" width="256.00" height="8.40"/><rect x="2733.4" y="1303.70" width="248.60" height="8.40"/><rect x="2733.4" y="1312.10" width="232.00" height="8.40"/><rect x="2733.4" y="1320.50" width="253.10" height="8.40"/><rect x="2733.4" y="1328.90" width="201.30" height="8.40"/><rect x="2733.4" y="1337.30" width="186.90" height="8.40"/><rect x="2733.4" y="1345.70" width="172.00" height="8.40"/><rect x="2733.4" y="1354.10" width="145.90" height="8.40"/><rect x="2733.4" y="1362.50" width="114.90" height="8.40"/><rect x="2733.4" y="1370.90" width="114.90" height="8.40"/><rect x="2733.4" y="1379.30" width="96.10" height="8.40"/><rect x="2733.4" y="1387.70" width="77.00" height="8.40"/><rect x="2733.4" y="1396.10" width="58.00" height="8.40"/><rect x="2733.4" y="1404.50" width="58.00" height="8.40"/><rect x="2733.4" y="1412.90" width="26.90" height="8.40"/><rect x="2733.4" y="1421.30" width="13.10" height="8.40"/><rect x="2733.4" y="1429.70" width="15.40" height="8.40"/><rect x="2733.4" y="1438.10" width="18.10" height="8.40"/><rect x="2733.4" y="1446.50" width="7.90" height="8.40"/><rect x="2733.4" y="1454.90" width="3.70" height="8.40"/><rect x="2733.4" y="1463.30" width="7.90" height="8.40"/><rect x="2733.4" y="1471.70" width="2.40" height="8.40"/><rect x="2733.4" y="1488.50" width="2.40" height="8.40"/>
</g>
<path d="M234.50 827.5v-33.3M234.50 223.5v33.3M329.54 827.5v-16.7M329.54 223.5v16.7M424.58 827.5v-16.7M424.58 223.5v16.7M519.62 827.5v-16.7M519.62 223.5v16.7M614.66 827.5v-16.7M614.66 223.5v16.7M709.70 827.5v-33.3M709.70 223.5v33.3M804.74 827.5v-16.7M804.74 223.5v16.7M899.78 827.5v-16.7M899.78 223.5v16.7M994.82 827.5v-16.7M994.82 223.5v16.7M1089.86 827.5v-16.7M1089.86 223.5v16.7M1184.90 827.5v-33.3M1184.90 223.5v33.3M1279.94 827.5v-16.7M1279.94 223.5v16.7M1374.98 827.5v-16.7M1374.98 223.5v16.7M1470.02 827.5v-16.7M1470.02 223.5v16.7M1565.06 827.5v-16.7M1565.06 223.5v16.7M1660.10 827.5v-33.3M1660.10 223.5v33.3M1755.14 827.5v-16.7M1755.14 223.5v16.7M1850.18 827.5v-16.7M1850.18 223.5v16.7M1945.22 827.5v-16.7M1945.22 223.5v16.7M2040.26 827.5v-16.7M2040.26 223.5v16.7M2135.30 827.5v-33.3M2135.30 223.5v33.3M2230.34 827.5v-16.7M2230.34 223.5v16.7M2325.38 827.5v-16.7M2325.38 223.5v16.7M2420.42 827.5v-16.7M2420.42 223.5v16.7M2515.46 827.5v-16.7M2515.46 223.5v16.7M2610.50 827.5v-33.3M2610.50 223.5v33.3M234.50 1551.3v-33.3M234.50 947.2v33.3M329.54 1551.3v-16.7M329.54 947.2v16.7M424.58 1551.3v-16.7M424.58 947.2v16.7M519.62 1551.3v-16.7M519.62 947.2v16.7M614.66 1551.3v-16.7M614.66 947.2v16.7M709.70 1551.3v-33.3M709.70 947.2v33.3M804.74 1551.3v-16.7M804.74 947.2v16.7M899.78 1551.3v-16.7M899.78 947.2v16.7M994.82 1551.3v-16.7M994.82 947.2v16.7M1089.86 1551.3v-16.7M1089.86 947.2v16.7M1184.90 1551.3v-33.3M1184.90 947.2v33.3M1279.94 1551.3v-16.7M1279.94 947.2v16.7M1374.98 1551.3v-16.7M1374.98 947.2v16.7M1470.02 1551.3v-16.7M1470.02 947.2v16.7M1565.06 1551.3v-16.7M1565.06 947.2v16.7M1660.10 1551.3v-33.3M1660.10 947.2v33.3M1755.14 1551.3v-16.7M1755.14 947.2v16.7M1850.18 1551.3v-16.7M1850.18 947.2v16.7M1945.22 1551.3v-16.7M1945.22 947.2v16.7M2040.26 1551.3v-16.7M2040.26 947.2v16.7M2135.30 1551.3v-33.3M2135.30 947.2v33.3M2230.34 1551.3v-16.7M2230.34 947.2v16.7M2325.38 1551.3v-16.7M2325.38 947.2v16.7M2420.42 1551.3v-16.7M2420.42 947.2v16.7M2515.46 1551.3v-16.7M2515.46 947.2v16.7M2610.50 1551.3v-33.3M2610.50 947.2v33.3M234.5 827.50h33.3M2610.5 827.50h-33.3M2733.4 827.50h33.3M3208.5 827.50h-33.3M234.5 767.10h16.7M2610.5 767.10h-16.7M2733.4 767.10h16.7M3208.5 767.10h-16.7M234.5 706.70h16.7M2610.5 706.70h-16.7M2733.4 706.70h16.7M3208.5 706.70h-16.7M234.5 646.30h16.7M2610.5 646.30h-16.7M2733.4 646.30h16.7M3208.5 646.30h-16.7M234.5 585.90h16.7M2610.5 585.90h-16.7M2733.4 585.90h16.7M3208.5 585.90h-16.7M234.5 525.50h33.3M2610.5 525.50h-33.3M2733.4 525.50h33.3M3208.5 525.50h-33.3M234.5 465.10h16.7M2610.5 465.10h-16.7M2733.4 465.10h16.7M3208.5 465.10h-16.7M234.5 404.70h16.7M2610.5 404.70h-16.7M2733.4 404.70h16.7M3208.5 404.70h-16.7M234.5 344.30h16.7M2610.5 344.30h-16.7M2733.4 344.30h16.7M3208.5 344.30h-16.7M234.5 283.90h16.7M2610.5 283.90h-16.7M2733.4 283.90h16.7M3208.5 283.90h-16.7M234.5 223.50h33.3M2610.5 223.50h-33.3M2733.4 223.50h33.3M3208.5 223.50h-33.3M234.5 1551.30h33.3M2610.5 1551.30h-33.3M2733.4 1551.30h33.3M3208.5 1551.30h-33.3M234.5 1511.03h16.7M2610.5 1511.03h-16.7M2733.4 1511.03h16.7M3208.5 1511.03h-16.7M234.5 1470.75h16.7M2610.5 1470.75h-16.7M2733.4 1470.75h16.7M3208.5 1470.75h-16.7M234.5 1430.48h16.7M2610.5 1430.48h-16.7M2733.4 1430.48h16.7M3208.5 1430.48h-16.7M234.5 1390.21h16.7M2610.5 1390.21h-16.7M2733.4 1390.21h16.7M3208.5 1390.21h-16.7M234.5 1349.93h33.3M2610.5 1349.93h-33.3M2733.4 1349.93h33.3M3208.5 1349.93h-33.3M234.5 1309.66h16.7M2610.5 1309.66h-16.7M2733.4 1309.66h16.7M3208.5 1309.66h-16.7M234.5 1269.39h16.7M2610.5 1269.39h-16.7M2733.4 1269.39h16.7M3208.5 1269.39h-16.7M234.5 1229.11h16.7M2610.5 1229.11h-16.7M2733.4 1229.11h16.7M3208.5 1229.11h-16.7M234.5 1188.84h16.7M2610.5 1188.84h-16.7M2733.4 1188.84h16.7M3208.5 1188.84h-16.7M234.5 1148.57h33.3M2610.5 1148.57h-33.3M2733.4 1148.57h33.3M3208.5 1148.57h-33.3M234.5 1108.29h16.7M2610.5 1108.29h-16.7M2733.4 1108.29h16.7M3208.5 1108.29h-16.7M234.5 1068.02h16.7M2610.5 1068.02h-16.7M2733.4 1068.02h16.7M3208.5 1068.02h-16.7M234.5 1027.75h16.7M2610.5 1027.75h-16.7M2733.4 1027.75h16.7M3208.5 1027.75h-16.7M234.5 987.47h16.7M2610.5 987.47h-16.7M2733.4 987.47h16.7M3208.5 987.47h-16.7M234.5 947.20h33.3M2610.5 947.20h-33.3M2733.4 947.20h33.3M3208.5 947.20h-33.3M2733.40 827.5v-33.3M2733.40 223.5v33.3M2852.18 827.5v-16.7M2852.18 223.5v16.7M2970.95 827.5v-16.7M2970.95 223.5v16.7M3089.72 827.5v-16.7M3089.72 223.5v16.7M3208.50 827.5v-33.3M3208.50 223.5v33.3M2733.40 1551.3v-33.3M2733.40 947.2v33.3M2852.18 1551.3v-16.7M2852.18 947.2v16.7M2970.95 1551.3v-16.7M2970.95 947.2v16.7M3089.72 1551.3v-16.7M3089.72 947.2v16.7M3208.50 1551.3v-33.3M3208.50 947.2v33.3" stroke="#000" stroke-width="2" fill="none"/>
<rect x="234.5" y="223.5" width="2376.0" height="604.0" fill="none" stroke="#000" stroke-width="3" stroke-linejoin="miter"/>
<rect x="2733.4" y="223.5" width="475.0999999999999" height="604.0" fill="none" stroke="#000" stroke-width="3" stroke-linejoin="miter"/>
<rect x="234.5" y="947.2" width="2376.0" height="604.0999999999999" fill="none" stroke="#000" stroke-width="3" stroke-linejoin="miter"/>
<rect x="2733.4" y="947.2" width="475.0999999999999" height="604.0999999999999" fill="none" stroke="#000" stroke-width="3" stroke-linejoin="miter"/>
<rect x="1937.4" y="252.1" width="643.5" height="100.6" rx="10" ry="10" fill="#fff" fill-opacity="0.8" stroke="#cccccc" stroke-opacity="0.85" stroke-width="4.2"/>
<rect x="1951.9" y="288.7" width="133.9000000000001" height="16.8" fill="#4477AA"/>
<rect x="1948.1" y="976.1" width="632.8" height="100.1" rx="10" ry="10" fill="#fff" fill-opacity="0.8" stroke="#cccccc" stroke-opacity="0.85" stroke-width="4.2"/>
<rect x="1962.9" y="1012.9" width="134.0999999999999" height="16.8" fill="#AA3377"/>
<g font-family="&quot;Liberation Sans&quot;, sans-serif" font-weight="bold" font-size="100" fill="#000">
<text transform="translate(1185.14,109.10) scale(0.6657,1.0509)" stroke="#000" stroke-width="1.6" vector-effect="non-scaling-stroke" stroke-linejoin="miter">Hydrophobic Dipolar Moment</text>
<text transform="translate(1273.94,1734.00) scale(0.6627,1.0480)" stroke="#000" stroke-width="1.6" vector-effect="non-scaling-stroke" stroke-linejoin="miter">Time (ns)</text>
<text transform="translate(2862.28,1733.20) scale(0.6310,1.0378)" stroke="#000" stroke-width="1.6" vector-effect="non-scaling-stroke" stroke-linejoin="miter">Counts</text>
<text transform="translate(2123.59,317.50) scale(0.3725,0.5945)" stroke="#000" stroke-width="1.0" vector-effect="non-scaling-stroke" stroke-linejoin="miter">Longitudinal component</text>
<text transform="translate(2134.62,1040.60) scale(0.3772,0.5988)" stroke="#000" stroke-width="1.0" vector-effect="non-scaling-stroke" stroke-linejoin="miter">Transversal component</text>
<text transform="translate(138.2,1263.84) rotate(-90) scale(0.6625,1.0523)" stroke="#000" stroke-width="1.6" vector-effect="non-scaling-stroke">HDM components (nm)</text>
<text transform="translate(220.56,1626.30) scale(0.5106,0.8547)" stroke="#000" stroke-width="1.2" vector-effect="non-scaling-stroke" stroke-linejoin="miter">0</text>
<text transform="translate(648.43,1626.30) scale(0.5448,0.8547)" stroke="#000" stroke-width="1.2" vector-effect="non-scaling-stroke" stroke-linejoin="miter">1000</text>
<text transform="translate(1124.36,1626.30) scale(0.5479,0.8547)" stroke="#000" stroke-width="1.2" vector-effect="non-scaling-stroke" stroke-linejoin="miter">2000</text>
<text transform="translate(1600.11,1626.30) scale(0.5454,0.8547)" stroke="#000" stroke-width="1.2" vector-effect="non-scaling-stroke" stroke-linejoin="miter">3000</text>
<text transform="translate(2075.31,1626.30) scale(0.5454,0.8547)" stroke="#000" stroke-width="1.2" vector-effect="non-scaling-stroke" stroke-linejoin="miter">4000</text>
<text transform="translate(2549.96,1626.30) scale(0.5479,0.8547)" stroke="#000" stroke-width="1.2" vector-effect="non-scaling-stroke" stroke-linejoin="miter">5000</text>
<text transform="translate(2718.96,1626.30) scale(0.5362,0.8547)" stroke="#000" stroke-width="1.2" vector-effect="non-scaling-stroke" stroke-linejoin="miter">0</text>
<text transform="translate(3162.97,1626.30) scale(0.5425,0.8547)" stroke="#000" stroke-width="1.2" vector-effect="non-scaling-stroke" stroke-linejoin="miter">200</text>
<text transform="translate(189.20,848.30) scale(0.4980,0.8590)" stroke="#000" stroke-width="1.2" vector-effect="non-scaling-stroke" stroke-linejoin="miter">3</text>
<text transform="translate(186.06,546.30) scale(0.5698,0.8590)" stroke="#000" stroke-width="1.2" vector-effect="non-scaling-stroke" stroke-linejoin="miter">4</text>
<text transform="translate(188.71,244.30) scale(0.4980,0.8590)" stroke="#000" stroke-width="1.2" vector-effect="non-scaling-stroke" stroke-linejoin="miter">5</text>
<text transform="translate(188.08,1572.10) scale(0.5298,0.8590)" stroke="#000" stroke-width="1.2" vector-effect="non-scaling-stroke" stroke-linejoin="miter">0</text>
<text transform="translate(188.24,1370.73) scale(0.3766,0.8590)" stroke="#000" stroke-width="1.2" vector-effect="non-scaling-stroke" stroke-linejoin="miter">1</text>
<text transform="translate(188.68,1169.37) scale(0.5082,0.8590)" stroke="#000" stroke-width="1.2" vector-effect="non-scaling-stroke" stroke-linejoin="miter">2</text>
<text transform="translate(189.20,968.00) scale(0.4980,0.8590)" stroke="#000" stroke-width="1.2" vector-effect="non-scaling-stroke" stroke-linejoin="miter">3</text>
</g>
</svg>
</body></html>
